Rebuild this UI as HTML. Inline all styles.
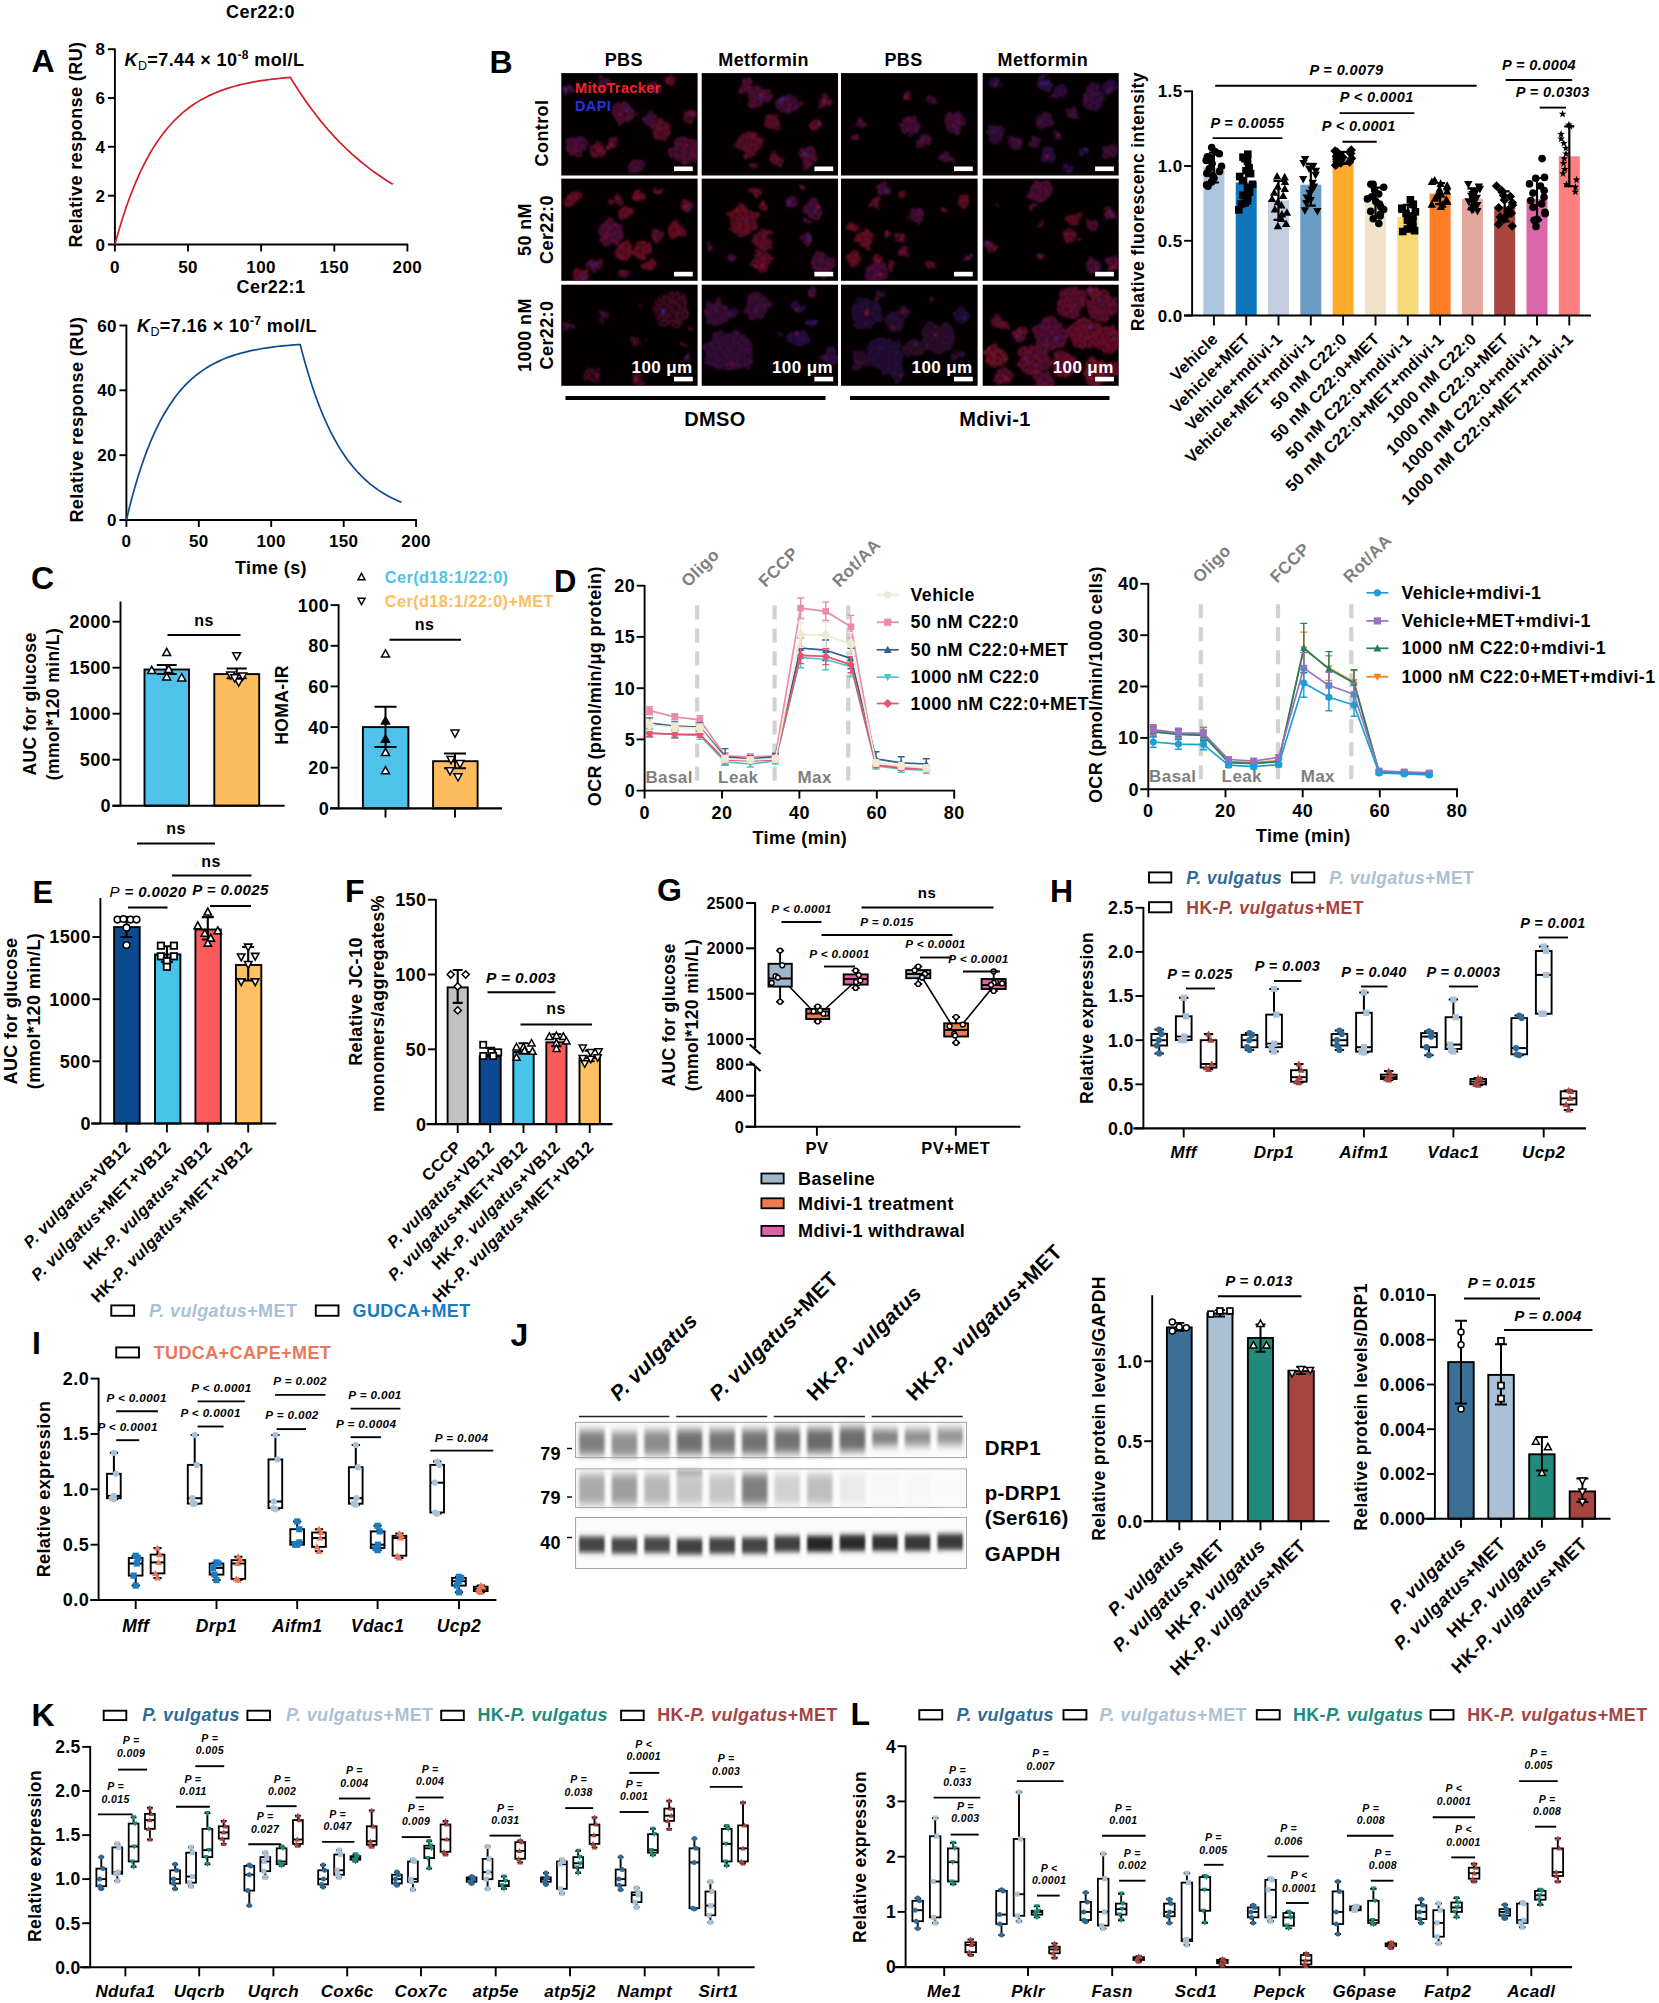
<!DOCTYPE html>
<html lang="en"><head><meta charset="utf-8"><title>Figure</title>
<style>html,body{margin:0;padding:0;background:#fff}svg{display:block}path{fill:none}path:not([stroke]){stroke:#000}text{font-family:'Liberation Sans', Arial, sans-serif;letter-spacing:0.4px}</style>
</head><body>
<svg width="1659" height="2003" viewBox="0 0 1659 2003">
<defs>
<filter id="b1" x="-30%" y="-30%" width="160%" height="160%"><feGaussianBlur stdDeviation="1.6"/></filter>
<filter id="b2" x="-30%" y="-30%" width="160%" height="160%"><feGaussianBlur stdDeviation="3"/></filter>
<filter id="cell" x="0" y="0" width="100%" height="100%" filterUnits="objectBoundingBox"><feTurbulence type="fractalNoise" baseFrequency="0.09" numOctaves="2" seed="4" result="n"/><feDisplacementMap in="SourceGraphic" in2="n" scale="13" xChannelSelector="R" yChannelSelector="G" result="d"/><feTurbulence type="fractalNoise" baseFrequency="0.45" numOctaves="2" seed="9" result="t"/><feColorMatrix in="t" type="matrix" values="0 0 0 0 1  0 0 0 0 1  0 0 0 0 1  1.6 0 0 0 -0.25" result="m"/><feComposite in="d" in2="m" operator="in" result="x"/><feGaussianBlur in="x" stdDeviation="1.2"/></filter>
<filter id="bb2" x="-10%" y="-60%" width="120%" height="220%"><feGaussianBlur stdDeviation="1.5 4.5"/></filter>
<filter id="bb" x="-10%" y="-60%" width="120%" height="220%"><feGaussianBlur stdDeviation="1.3 2.6"/></filter>
</defs>
<rect width="1659" height="2003" fill="#fff"/>
<text x="31.5" y="72.3" font-size="32" font-weight="bold" >A</text>
<text x="260.5" y="17.8" font-size="18" text-anchor="middle" font-weight="bold" >Cer22:0</text>
<path d="M114.9 48.4L114.9 245.3M107.9 244.5L114.9 244.5" stroke-width="1.9" />
<text x="105.4" y="250.6" font-size="17" text-anchor="end" font-weight="bold" >0</text>
<path d="M107.9 195.7L114.9 195.7" stroke-width="1.9" />
<text x="105.4" y="201.8" font-size="17" text-anchor="end" font-weight="bold" >2</text>
<path d="M107.9 146.8L114.9 146.8" stroke-width="1.9" />
<text x="105.4" y="152.9" font-size="17" text-anchor="end" font-weight="bold" >4</text>
<path d="M107.9 98L114.9 98" stroke-width="1.9" />
<text x="105.4" y="104.1" font-size="17" text-anchor="end" font-weight="bold" >6</text>
<path d="M107.9 49.2L114.9 49.2" stroke-width="1.9" />
<text x="105.4" y="55.3" font-size="17" text-anchor="end" font-weight="bold" >8</text>
<path d="M114.1 244.5L408.2 244.5M114.9 244.5L114.9 251.5" stroke-width="1.9" />
<text x="114.9" y="272.5" font-size="17" text-anchor="middle" font-weight="bold" >0</text>
<path d="M188 244.5L188 251.5" stroke-width="1.9" />
<text x="188" y="272.5" font-size="17" text-anchor="middle" font-weight="bold" >50</text>
<path d="M261.1 244.5L261.1 251.5" stroke-width="1.9" />
<text x="261.1" y="272.5" font-size="17" text-anchor="middle" font-weight="bold" >100</text>
<path d="M334.3 244.5L334.3 251.5" stroke-width="1.9" />
<text x="334.3" y="272.5" font-size="17" text-anchor="middle" font-weight="bold" >150</text>
<path d="M407.4 244.5L407.4 251.5" stroke-width="1.9" />
<text x="407.4" y="272.5" font-size="17" text-anchor="middle" font-weight="bold" >200</text>
<text x="81.7" y="144.5" font-size="18" text-anchor="middle" font-weight="bold" transform="rotate(-90 81.7 144.5)" >Relative response (RU)</text>
<polyline points="114.9,244.5 117.8,234 120.8,224.1 123.7,214.8 126.6,206.1 129.5,198 132.5,190.3 135.4,183.1 138.3,176.4 141.2,170 144.2,164.1 147.1,158.5 150,153.3 152.9,148.4 155.9,143.8 158.8,139.4 161.7,135.4 164.6,131.6 167.6,128 170.5,124.7 173.4,121.5 176.3,118.6 179.2,115.8 182.2,113.2 185.1,110.7 188,108.5 190.9,106.3 193.9,104.3 196.8,102.4 199.7,100.6 202.7,99 205.6,97.4 208.5,95.9 211.4,94.6 214.4,93.3 217.3,92.1 220.2,90.9 223.1,89.9 226.1,88.9 229,87.9 231.9,87 234.8,86.2 237.8,85.4 240.7,84.7 243.6,84 246.5,83.4 249.5,82.8 252.4,82.2 255.3,81.7 258.2,81.2 261.1,80.7 264.1,80.3 267,79.9 269.9,79.5 272.9,79.1 275.8,78.8 278.7,78.5 281.6,78.2 284.6,77.9 287.5,77.6 290.4,77.4 290.4,77.4 293.3,82.2 296.2,86.8 299.2,91.4 302.1,95.8 305,100 308,104.2 310.9,108.2 313.8,112.1 316.7,116 319.6,119.6 322.6,123.2 325.5,126.7 328.4,130.1 331.4,133.4 334.3,136.6 337.2,139.7 340.1,142.7 343.1,145.6 346,148.5 348.9,151.2 351.8,153.9 354.8,156.5 357.7,159 360.6,161.5 363.5,163.9 366.5,166.2 369.4,168.4 372.3,170.6 375.2,172.8 378.1,174.8 381.1,176.8 384,178.8 386.9,180.7 389.9,182.5 392.8,184.3" fill="none" stroke="#d21f2b" stroke-width="1.7" stroke-linejoin="round" />
<text x="124.5" y="66" font-size="18" font-weight="bold" ><tspan font-style="italic">K</tspan><tspan font-size="12.5" dy="4" font-weight="normal">D</tspan><tspan dy="-4">=7.44 × 10</tspan><tspan font-size="12" dy="-7">-8</tspan><tspan dy="7"> mol/L</tspan></text>
<text x="271" y="292.5" font-size="18" text-anchor="middle" font-weight="bold" >Cer22:1</text>
<path d="M126.4 324.7L126.4 520.8M119.4 520L126.4 520" stroke-width="1.9" />
<text x="116.9" y="526.1" font-size="17" text-anchor="end" font-weight="bold" >0</text>
<path d="M119.4 455.2L126.4 455.2" stroke-width="1.9" />
<text x="116.9" y="461.3" font-size="17" text-anchor="end" font-weight="bold" >20</text>
<path d="M119.4 390.3L126.4 390.3" stroke-width="1.9" />
<text x="116.9" y="396.4" font-size="17" text-anchor="end" font-weight="bold" >40</text>
<path d="M119.4 325.5L126.4 325.5" stroke-width="1.9" />
<text x="116.9" y="331.6" font-size="17" text-anchor="end" font-weight="bold" >60</text>
<path d="M125.6 520L416.9 520M126.4 520L126.4 527" stroke-width="1.9" />
<text x="126.4" y="547" font-size="17" text-anchor="middle" font-weight="bold" >0</text>
<path d="M198.8 520L198.8 527" stroke-width="1.9" />
<text x="198.8" y="547" font-size="17" text-anchor="middle" font-weight="bold" >50</text>
<path d="M271.2 520L271.2 527" stroke-width="1.9" />
<text x="271.2" y="547" font-size="17" text-anchor="middle" font-weight="bold" >100</text>
<path d="M343.7 520L343.7 527" stroke-width="1.9" />
<text x="343.7" y="547" font-size="17" text-anchor="middle" font-weight="bold" >150</text>
<path d="M416.1 520L416.1 527" stroke-width="1.9" />
<text x="416.1" y="547" font-size="17" text-anchor="middle" font-weight="bold" >200</text>
<text x="83" y="419.6" font-size="18" text-anchor="middle" font-weight="bold" transform="rotate(-90 83 419.6)" >Relative response (RU)</text>
<polyline points="126.4,520 129.3,508 132.2,496.9 135.1,486.5 138,476.8 140.9,467.7 143.8,459.3 146.7,451.4 149.6,444 152.5,437.2 155.4,430.8 158.3,424.8 161.2,419.2 164.1,414 167,409.2 169.9,404.7 172.8,400.4 175.6,396.5 178.5,392.8 181.4,389.4 184.3,386.2 187.2,383.2 190.1,380.4 193,377.8 195.9,375.4 198.8,373.2 201.7,371.1 204.6,369.1 207.5,367.2 210.4,365.5 213.3,363.9 216.2,362.4 219.1,361.1 222,359.8 224.9,358.5 227.8,357.4 230.7,356.4 233.6,355.4 236.5,354.5 239.4,353.6 242.3,352.8 245.2,352.1 248.1,351.4 251,350.7 253.9,350.1 256.8,349.6 259.7,349 262.6,348.5 265.5,348.1 268.4,347.7 271.2,347.3 274.1,346.9 277,346.5 279.9,346.2 282.8,345.9 285.7,345.6 288.6,345.4 291.5,345.1 294.4,344.9 297.3,344.7 300.2,344.5 300.2,344.5 303.1,355.6 306,366 308.9,375.8 311.8,384.9 314.7,393.5 317.6,401.5 320.5,409 323.4,416.1 326.3,422.7 329.2,428.8 332.1,434.6 335,440 337.9,445.1 340.8,449.9 343.7,454.3 346.6,458.5 349.5,462.4 352.4,466 355.3,469.5 358.2,472.7 361.1,475.7 364,478.5 366.9,481.1 369.7,483.6 372.6,485.9 375.5,488 378.4,490.1 381.3,492 384.2,493.7 387.1,495.4 390,497 392.9,498.4 395.8,499.8 398.7,501.1 401.6,502.3" fill="none" stroke="#0d4a8f" stroke-width="1.7" stroke-linejoin="round" />
<text x="137" y="331.5" font-size="18" font-weight="bold" ><tspan font-style="italic">K</tspan><tspan font-size="12.5" dy="4" font-weight="normal">D</tspan><tspan dy="-4">=7.16 × 10</tspan><tspan font-size="12" dy="-7">-7</tspan><tspan dy="7"> mol/L</tspan></text>
<text x="271" y="574" font-size="18" text-anchor="middle" font-weight="bold" >Time (s)</text>
<text x="489.5" y="72.5" font-size="32" font-weight="bold" >B</text>
<text x="623.8" y="65.5" font-size="18" text-anchor="middle" font-weight="bold" >PBS</text>
<text x="763.6" y="65.5" font-size="18" text-anchor="middle" font-weight="bold" >Metformin</text>
<text x="903.5" y="65.5" font-size="18" text-anchor="middle" font-weight="bold" >PBS</text>
<text x="1042.8" y="65.5" font-size="18" text-anchor="middle" font-weight="bold" >Metformin</text>
<rect x="561.3" y="73.1" width="136.3" height="102.4" fill="#040002" stroke="none" stroke-width="1.5" />
<clipPath id="c100"><rect x="561.3" y="73.1" width="136.3" height="102.4"/></clipPath>
<g clip-path="url(#c100)"><g filter="url(#cell)">
<rect x="561.3" y="73.1" width="136.3" height="102.4" fill="none"/>
<ellipse cx="623" cy="112.8" rx="11.5" ry="10.8" fill="#7c1650"/>
<circle cx="628.2" cy="109.1" r="1.5" fill="#4040d0"/>
<ellipse cx="648.7" cy="119.6" rx="6.9" ry="6.6" fill="#70185a"/>
<circle cx="646" cy="117" r="1.9" fill="#4040d0"/>
<ellipse cx="660.7" cy="129.9" rx="9.6" ry="9.6" fill="#8e1540"/>
<circle cx="662.1" cy="127.1" r="1.3" fill="#e01830"/>
<ellipse cx="684.7" cy="150.5" rx="15.3" ry="12.9" fill="#7c1650"/>
<circle cx="690.7" cy="148.5" r="1.5" fill="#e01830"/>
<ellipse cx="576.8" cy="145.3" rx="10.7" ry="11.7" fill="#70185a"/>
<circle cx="577.4" cy="149.6" r="2" fill="#e01830"/>
<ellipse cx="599.1" cy="150.5" rx="8.4" ry="7.2" fill="#8e1540"/>
<circle cx="599.9" cy="147.5" r="2" fill="#e01830"/>
<ellipse cx="612.8" cy="143.6" rx="5.8" ry="4.9" fill="#7c1650"/>
<circle cx="610.1" cy="144.6" r="2.2" fill="#d01840"/>
<ellipse cx="636.7" cy="165.9" rx="9.6" ry="8" fill="#70185a"/>
<circle cx="637.3" cy="170.3" r="1.7" fill="#d01840"/>
<ellipse cx="689.8" cy="116.2" rx="5.8" ry="5.8" fill="#9a1536"/>
<circle cx="688.9" cy="117.3" r="1.7" fill="#4040d0"/>
<ellipse cx="602.5" cy="83.7" rx="7.7" ry="7.1" fill="#70185a"/>
<circle cx="599.1" cy="80.6" r="1.4" fill="#4040d0"/>
<ellipse cx="671" cy="80.3" rx="5.8" ry="5" fill="#9a1536"/>
<circle cx="672.8" cy="81.5" r="1.5" fill="#d01840"/>
<ellipse cx="568.3" cy="90.5" rx="4.6" ry="4.9" fill="#70185a"/>
<circle cx="567.1" cy="88.5" r="1.7" fill="#4040d0"/>
<ellipse cx="653.9" cy="87.1" rx="6.9" ry="5.6" fill="#7c1650"/>
<circle cx="652.3" cy="88.5" r="1.9" fill="#d01840"/>
</g></g>
<rect x="674" y="166.5" width="18.8" height="4.6" fill="#fff" stroke="none" stroke-width="1.5" />
<rect x="701.7" y="73.1" width="136.3" height="102.4" fill="#040002" stroke="none" stroke-width="1.5" />
<clipPath id="c101"><rect x="701.7" y="73.1" width="136.3" height="102.4"/></clipPath>
<g clip-path="url(#c101)"><g filter="url(#cell)">
<rect x="701.7" y="73.1" width="136.3" height="102.4" fill="none"/>
<ellipse cx="744.6" cy="87.1" rx="7.7" ry="8.2" fill="#7c1650"/>
<circle cx="744.9" cy="86" r="1.1" fill="#d01840"/>
<ellipse cx="758.3" cy="97.4" rx="10.7" ry="10.5" fill="#7c1650"/>
<circle cx="762.8" cy="97.2" r="1.9" fill="#4040d0"/>
<ellipse cx="787.4" cy="104.2" rx="11.5" ry="9.4" fill="#70185a"/>
<circle cx="783.8" cy="99.5" r="1.9" fill="#4040d0"/>
<ellipse cx="825" cy="102.5" rx="5.8" ry="5.4" fill="#7c1650"/>
<circle cx="824" cy="103.3" r="1.5" fill="#e01830"/>
<ellipse cx="772" cy="121.4" rx="8.4" ry="7.8" fill="#8e1540"/>
<circle cx="770.3" cy="118.1" r="2" fill="#d01840"/>
<ellipse cx="816.5" cy="124.8" rx="5.8" ry="5.7" fill="#9a1536"/>
<circle cx="818.7" cy="124.2" r="1.5" fill="#4040d0"/>
<ellipse cx="749.7" cy="143.6" rx="13.4" ry="12.4" fill="#8e1540"/>
<circle cx="752" cy="137" r="1.6" fill="#d01840"/>
<ellipse cx="775.4" cy="160.7" rx="6.9" ry="6.2" fill="#8e1540"/>
<circle cx="772.1" cy="162.1" r="1" fill="#d01840"/>
<ellipse cx="807.9" cy="157.3" rx="9.6" ry="10.5" fill="#7c1650"/>
<circle cx="807.3" cy="155.2" r="1.9" fill="#4040d0"/>
<ellipse cx="754.9" cy="165.9" rx="4.6" ry="4.9" fill="#9a1536"/>
<circle cx="755.2" cy="164.3" r="2" fill="#d01840"/>
</g></g>
<rect x="814.4" y="166.5" width="18.8" height="4.6" fill="#fff" stroke="none" stroke-width="1.5" />
<rect x="841" y="73.1" width="136.6" height="102.4" fill="#040002" stroke="none" stroke-width="1.5" />
<clipPath id="c102"><rect x="841" y="73.1" width="136.6" height="102.4"/></clipPath>
<g clip-path="url(#c102)"><g filter="url(#cell)">
<rect x="841" y="73.1" width="136.6" height="102.4" fill="none"/>
<ellipse cx="907.2" cy="95.7" rx="4.6" ry="4.6" fill="#7c1650"/>
<circle cx="906.5" cy="95.9" r="1.8" fill="#e01830"/>
<ellipse cx="931.2" cy="99.1" rx="3.1" ry="2.7" fill="#70185a"/>
<ellipse cx="861" cy="124.8" rx="4.6" ry="4.5" fill="#70185a"/>
<circle cx="858.9" cy="124.9" r="1.7" fill="#d01840"/>
<ellipse cx="855.8" cy="136.8" rx="3.1" ry="3.1" fill="#7c1650"/>
<ellipse cx="908.9" cy="124.8" rx="9.6" ry="8.9" fill="#70185a"/>
<circle cx="909" cy="120.8" r="1.1" fill="#e01830"/>
<ellipse cx="955.1" cy="123.1" rx="10.7" ry="11.5" fill="#70185a"/>
<circle cx="958.7" cy="125.4" r="1.6" fill="#4040d0"/>
<ellipse cx="924.3" cy="141.9" rx="7.7" ry="7.6" fill="#70185a"/>
<circle cx="925.6" cy="139.9" r="1.1" fill="#4040d0"/>
<ellipse cx="946.6" cy="157.3" rx="6.9" ry="6.9" fill="#70185a"/>
<circle cx="946.6" cy="159" r="1.5" fill="#4040d0"/>
</g></g>
<rect x="954" y="166.5" width="18.8" height="4.6" fill="#fff" stroke="none" stroke-width="1.5" />
<rect x="982.7" y="73.1" width="136" height="102.4" fill="#040002" stroke="none" stroke-width="1.5" />
<clipPath id="c103"><rect x="982.7" y="73.1" width="136" height="102.4"/></clipPath>
<g clip-path="url(#c103)"><g filter="url(#cell)">
<rect x="982.7" y="73.1" width="136" height="102.4" fill="none"/>
<ellipse cx="996.2" cy="83.7" rx="5.8" ry="6.2" fill="#401870"/>
<circle cx="997.3" cy="85.5" r="1.8" fill="#d01840"/>
<ellipse cx="1044.1" cy="83.7" rx="6.9" ry="6.9" fill="#4a1868"/>
<circle cx="1043.9" cy="82.6" r="1.8" fill="#4040d0"/>
<ellipse cx="1061.3" cy="92.3" rx="8.4" ry="7.1" fill="#4a1868"/>
<circle cx="1062" cy="96.2" r="1.1" fill="#e01830"/>
<ellipse cx="1092.1" cy="97.4" rx="11.5" ry="11.3" fill="#55185c"/>
<circle cx="1089.7" cy="100.2" r="2" fill="#d01840"/>
<ellipse cx="1109.2" cy="87.1" rx="7.7" ry="6.7" fill="#401870"/>
<circle cx="1110.4" cy="89.2" r="1.7" fill="#e01830"/>
<ellipse cx="1044.1" cy="119.6" rx="9.6" ry="8.3" fill="#5e1854"/>
<circle cx="1041.4" cy="121.5" r="1.6" fill="#4040d0"/>
<ellipse cx="1071.5" cy="112.8" rx="5.8" ry="6.2" fill="#5e1854"/>
<circle cx="1073" cy="113" r="2" fill="#4040d0"/>
<ellipse cx="996.2" cy="133.3" rx="9.6" ry="9.7" fill="#55185c"/>
<circle cx="994.3" cy="133.2" r="1.2" fill="#4040d0"/>
<ellipse cx="1016.7" cy="143.6" rx="6.9" ry="7.4" fill="#5e1854"/>
<circle cx="1016.6" cy="142.6" r="2" fill="#d01840"/>
<ellipse cx="1057.8" cy="135" rx="5.8" ry="5.1" fill="#4a1868"/>
<circle cx="1058.8" cy="132.9" r="2.1" fill="#e01830"/>
<ellipse cx="1047.6" cy="153.9" rx="7.7" ry="6.8" fill="#401870"/>
<circle cx="1047.9" cy="154.6" r="1.5" fill="#d01840"/>
<ellipse cx="1085.2" cy="152.2" rx="4.6" ry="4" fill="#401870"/>
<circle cx="1087" cy="150.7" r="1.9" fill="#4040d0"/>
<ellipse cx="1107.5" cy="150.5" rx="6.9" ry="7.3" fill="#5e1854"/>
<circle cx="1107.8" cy="150.9" r="1.7" fill="#e01830"/>
<ellipse cx="1068.1" cy="167.6" rx="5.8" ry="4.9" fill="#401870"/>
<circle cx="1065.7" cy="168.5" r="1" fill="#4040d0"/>
<ellipse cx="1033.9" cy="141.9" rx="4.6" ry="3.8" fill="#5e1854"/>
<circle cx="1032.2" cy="139.8" r="1.3" fill="#d01840"/>
</g></g>
<rect x="1095.1" y="166.5" width="18.8" height="4.6" fill="#fff" stroke="none" stroke-width="1.5" />
<rect x="561.3" y="178.6" width="136.3" height="102.2" fill="#040002" stroke="none" stroke-width="1.5" />
<clipPath id="c104"><rect x="561.3" y="178.6" width="136.3" height="102.2"/></clipPath>
<g clip-path="url(#c104)"><g filter="url(#cell)">
<rect x="561.3" y="178.6" width="136.3" height="102.2" fill="none"/>
<ellipse cx="571.7" cy="198.3" rx="6.9" ry="7.3" fill="#a01538"/>
<circle cx="573.3" cy="196.4" r="1.4" fill="#d01840"/>
<ellipse cx="616.2" cy="200" rx="5.8" ry="6" fill="#8e1648"/>
<circle cx="613.4" cy="198" r="2.1" fill="#e01830"/>
<ellipse cx="638.5" cy="196.5" rx="6.9" ry="6.9" fill="#a01538"/>
<circle cx="637.3" cy="197.5" r="2" fill="#d01840"/>
<ellipse cx="657.3" cy="191.4" rx="4.6" ry="4.2" fill="#aa1530"/>
<circle cx="656.5" cy="192" r="1.8" fill="#4040d0"/>
<ellipse cx="626.5" cy="213.7" rx="8.4" ry="7.9" fill="#a01538"/>
<circle cx="626.8" cy="211.6" r="1.2" fill="#d01840"/>
<ellipse cx="688.1" cy="206.8" rx="6.9" ry="5.7" fill="#a01538"/>
<circle cx="688.8" cy="208.9" r="2" fill="#4040d0"/>
<ellipse cx="611.1" cy="232.5" rx="13.4" ry="12.1" fill="#801858"/>
<circle cx="605.3" cy="234.1" r="1.6" fill="#e01830"/>
<ellipse cx="677.8" cy="229.1" rx="7.7" ry="7.8" fill="#a01538"/>
<circle cx="677.5" cy="231.3" r="1.6" fill="#e01830"/>
<ellipse cx="655.6" cy="235.9" rx="6.9" ry="7.6" fill="#8e1648"/>
<circle cx="653.4" cy="236.1" r="1" fill="#4040d0"/>
<ellipse cx="623" cy="251.3" rx="10.7" ry="9.1" fill="#a01538"/>
<circle cx="619.4" cy="252.7" r="1.1" fill="#e01830"/>
<ellipse cx="641.9" cy="249.6" rx="9.6" ry="7.7" fill="#a01538"/>
<circle cx="644.9" cy="247.1" r="1.1" fill="#d01840"/>
<ellipse cx="593.9" cy="265" rx="6.9" ry="6.8" fill="#801858"/>
<circle cx="594.3" cy="265.2" r="1.9" fill="#4040d0"/>
<ellipse cx="580.3" cy="275.3" rx="8.4" ry="8.9" fill="#a01538"/>
<circle cx="581.9" cy="278.3" r="2.1" fill="#4040d0"/>
<ellipse cx="648.7" cy="265" rx="6.9" ry="6.7" fill="#a01538"/>
<circle cx="645.5" cy="267.9" r="1.2" fill="#4040d0"/>
<ellipse cx="623" cy="273.6" rx="4.6" ry="3.9" fill="#801858"/>
<circle cx="621.6" cy="272.4" r="1.1" fill="#d01840"/>
</g></g>
<rect x="674" y="271.8" width="18.8" height="4.6" fill="#fff" stroke="none" stroke-width="1.5" />
<rect x="701.7" y="178.6" width="136.3" height="102.2" fill="#040002" stroke="none" stroke-width="1.5" />
<clipPath id="c105"><rect x="701.7" y="178.6" width="136.3" height="102.2"/></clipPath>
<g clip-path="url(#c105)"><g filter="url(#cell)">
<rect x="701.7" y="178.6" width="136.3" height="102.2" fill="none"/>
<ellipse cx="756.6" cy="193.1" rx="5.8" ry="5.6" fill="#9a1536"/>
<circle cx="754.3" cy="190.3" r="1.6" fill="#d01840"/>
<ellipse cx="763.4" cy="206.8" rx="5.8" ry="5.1" fill="#9a1536"/>
<circle cx="765.4" cy="204.9" r="2.1" fill="#e01830"/>
<ellipse cx="790.8" cy="201.7" rx="5.8" ry="5.2" fill="#70185a"/>
<circle cx="788.9" cy="201.3" r="1.5" fill="#4040d0"/>
<ellipse cx="813" cy="208.5" rx="9.6" ry="10.2" fill="#70185a"/>
<circle cx="817.1" cy="205.9" r="2.2" fill="#d01840"/>
<ellipse cx="742.9" cy="220.5" rx="14.6" ry="15.9" fill="#9a1536"/>
<circle cx="747.5" cy="220.9" r="1.3" fill="#4040d0"/>
<ellipse cx="763.4" cy="241" rx="11.5" ry="10.4" fill="#8e1540"/>
<circle cx="766" cy="243" r="1.2" fill="#d01840"/>
<ellipse cx="807.9" cy="239.3" rx="5.8" ry="6.3" fill="#70185a"/>
<circle cx="810.1" cy="239.7" r="1.8" fill="#4040d0"/>
<ellipse cx="706.9" cy="246.2" rx="3.8" ry="3.7" fill="#70185a"/>
<ellipse cx="761.7" cy="261.6" rx="10.7" ry="10.4" fill="#8e1540"/>
<circle cx="760.2" cy="263.8" r="1.7" fill="#e01830"/>
<ellipse cx="732.6" cy="258.2" rx="3.8" ry="4" fill="#70185a"/>
<ellipse cx="823.3" cy="265" rx="11.5" ry="12.2" fill="#70185a"/>
<circle cx="828.7" cy="266" r="1" fill="#e01830"/>
<ellipse cx="807.9" cy="222.2" rx="3.1" ry="2.5" fill="#7c1650"/>
<ellipse cx="804.5" cy="186.3" rx="4.6" ry="4.1" fill="#7c1650"/>
<circle cx="805.5" cy="186" r="1.7" fill="#e01830"/>
</g></g>
<rect x="814.4" y="271.8" width="18.8" height="4.6" fill="#fff" stroke="none" stroke-width="1.5" />
<rect x="841" y="178.6" width="136.6" height="102.2" fill="#040002" stroke="none" stroke-width="1.5" />
<clipPath id="c106"><rect x="841" y="178.6" width="136.6" height="102.2"/></clipPath>
<g clip-path="url(#c106)"><g filter="url(#cell)">
<rect x="841" y="178.6" width="136.6" height="102.2" fill="none"/>
<ellipse cx="883.2" cy="189.7" rx="6.9" ry="5.6" fill="#70185a"/>
<circle cx="886.3" cy="191.9" r="1.1" fill="#4040d0"/>
<ellipse cx="874.7" cy="201.7" rx="7.7" ry="6.6" fill="#8e1540"/>
<circle cx="878.3" cy="200.6" r="1.5" fill="#d01840"/>
<ellipse cx="903.8" cy="194.8" rx="3.8" ry="3.9" fill="#9a1536"/>
<ellipse cx="917.5" cy="215.4" rx="8.4" ry="7.5" fill="#70185a"/>
<circle cx="917.3" cy="212.3" r="1.3" fill="#4040d0"/>
<ellipse cx="963.7" cy="201.7" rx="7.7" ry="6.3" fill="#9a1536"/>
<circle cx="962.5" cy="204.1" r="1.2" fill="#4040d0"/>
<ellipse cx="944.9" cy="210.2" rx="3.8" ry="3.1" fill="#8e1540"/>
<ellipse cx="852.4" cy="227.4" rx="4.6" ry="3.8" fill="#9a1536"/>
<circle cx="851" cy="228.5" r="1.5" fill="#d01840"/>
<ellipse cx="866.1" cy="237.6" rx="9.6" ry="9.4" fill="#9a1536"/>
<circle cx="866.1" cy="236.9" r="1.2" fill="#e01830"/>
<ellipse cx="886.7" cy="234.2" rx="5.8" ry="5" fill="#70185a"/>
<circle cx="885.2" cy="233.2" r="2.1" fill="#e01830"/>
<ellipse cx="900.3" cy="237.6" rx="4.6" ry="4.1" fill="#7c1650"/>
<circle cx="902.4" cy="238" r="2.1" fill="#d01840"/>
<ellipse cx="854.1" cy="259.9" rx="7.7" ry="7.4" fill="#9a1536"/>
<circle cx="853.8" cy="259" r="1.8" fill="#e01830"/>
<ellipse cx="878.1" cy="258.2" rx="5.8" ry="5.3" fill="#9a1536"/>
<circle cx="879.1" cy="260.3" r="1.8" fill="#e01830"/>
<ellipse cx="903.8" cy="253" rx="5.8" ry="5.6" fill="#7c1650"/>
<circle cx="905.1" cy="253.2" r="1.1" fill="#e01830"/>
<ellipse cx="876.4" cy="273.6" rx="11.5" ry="10.9" fill="#70185a"/>
<circle cx="879" cy="274.1" r="2" fill="#e01830"/>
<ellipse cx="929.4" cy="265" rx="4.6" ry="4.7" fill="#8e1540"/>
<circle cx="927.7" cy="263.7" r="1.4" fill="#e01830"/>
<ellipse cx="968.8" cy="259.9" rx="4.6" ry="3.8" fill="#8e1540"/>
<circle cx="969.9" cy="259" r="2" fill="#4040d0"/>
<ellipse cx="891.8" cy="265" rx="3.8" ry="4.2" fill="#8e1540"/>
</g></g>
<rect x="954" y="271.8" width="18.8" height="4.6" fill="#fff" stroke="none" stroke-width="1.5" />
<rect x="982.7" y="178.6" width="136" height="102.2" fill="#040002" stroke="none" stroke-width="1.5" />
<clipPath id="c107"><rect x="982.7" y="178.6" width="136" height="102.2"/></clipPath>
<g clip-path="url(#c107)"><g filter="url(#cell)">
<rect x="982.7" y="178.6" width="136" height="102.2" fill="none"/>
<ellipse cx="1040.7" cy="193.1" rx="11.5" ry="11.3" fill="#7c1650"/>
<circle cx="1043.8" cy="195.7" r="1.5" fill="#4040d0"/>
<ellipse cx="1030.4" cy="206.8" rx="3.1" ry="2.8" fill="#7c1650"/>
<ellipse cx="1109.2" cy="211.9" rx="7.7" ry="6.7" fill="#8e1540"/>
<circle cx="1109.9" cy="213.5" r="2.1" fill="#4040d0"/>
<ellipse cx="1073.2" cy="218.8" rx="7.7" ry="6.6" fill="#9a1536"/>
<circle cx="1076.4" cy="216.4" r="1.2" fill="#d01840"/>
<ellipse cx="1090.4" cy="225.6" rx="5.8" ry="5" fill="#7c1650"/>
<circle cx="1088.1" cy="228.3" r="1.1" fill="#e01830"/>
<ellipse cx="1040.7" cy="223.9" rx="3.8" ry="3.6" fill="#7c1650"/>
<ellipse cx="1069.8" cy="235.9" rx="7.7" ry="6.7" fill="#8e1540"/>
<circle cx="1069.2" cy="238.6" r="1.3" fill="#d01840"/>
<ellipse cx="991.1" cy="246.2" rx="6.9" ry="6.3" fill="#9a1536"/>
<circle cx="989.6" cy="244.8" r="1.9" fill="#4040d0"/>
<ellipse cx="1040.7" cy="256.5" rx="4.6" ry="3.9" fill="#9a1536"/>
<circle cx="1039.4" cy="254.6" r="2.2" fill="#4040d0"/>
<ellipse cx="1093.8" cy="266.7" rx="7.7" ry="8" fill="#7c1650"/>
<circle cx="1097.4" cy="268.1" r="1.8" fill="#4040d0"/>
<ellipse cx="1112.6" cy="263.3" rx="5.8" ry="6" fill="#70185a"/>
<circle cx="1112.9" cy="265.6" r="1.5" fill="#e01830"/>
<ellipse cx="997.9" cy="206.8" rx="1.9" ry="2.1" fill="#70185a"/>
</g></g>
<rect x="1095.1" y="271.8" width="18.8" height="4.6" fill="#fff" stroke="none" stroke-width="1.5" />
<rect x="561.3" y="284.7" width="136.3" height="101.1" fill="#040002" stroke="none" stroke-width="1.5" />
<clipPath id="c108"><rect x="561.3" y="284.7" width="136.3" height="101.1"/></clipPath>
<g clip-path="url(#c108)"><g filter="url(#cell)">
<rect x="561.3" y="284.7" width="136.3" height="101.1" fill="none"/>
<ellipse cx="671" cy="309.4" rx="17.3" ry="17.5" fill="#5a1030"/>
<circle cx="663.8" cy="312.2" r="1.9" fill="#4040d0"/>
<ellipse cx="602.5" cy="316.2" rx="5.8" ry="6.3" fill="#5a1030"/>
<circle cx="601.4" cy="314.4" r="1.9" fill="#4040d0"/>
<ellipse cx="640.2" cy="306" rx="2.3" ry="1.9" fill="#5a1030"/>
<ellipse cx="568.3" cy="326.5" rx="4.6" ry="5" fill="#5a1030"/>
<circle cx="570.2" cy="324.7" r="1.4" fill="#4040d0"/>
<ellipse cx="636.7" cy="341.9" rx="6.9" ry="6.8" fill="#5a1030"/>
<circle cx="638.1" cy="342.9" r="1.1" fill="#d01840"/>
<ellipse cx="693.2" cy="328.2" rx="3.1" ry="3.2" fill="#641030"/>
<ellipse cx="683" cy="345.3" rx="3.1" ry="2.5" fill="#50123a"/>
<ellipse cx="686.4" cy="357.3" rx="4.6" ry="4.1" fill="#641030"/>
<circle cx="687.1" cy="356.1" r="1.6" fill="#4040d0"/>
<ellipse cx="592.2" cy="374.4" rx="8.4" ry="9.2" fill="#5a1030"/>
<circle cx="596.2" cy="374.3" r="2.1" fill="#d01840"/>
<ellipse cx="636.7" cy="381.3" rx="6.9" ry="7.6" fill="#5a1030"/>
<circle cx="634.6" cy="380.2" r="1.8" fill="#d01840"/>
</g></g>
<rect x="674" y="376.8" width="18.8" height="4.6" fill="#fff" stroke="none" stroke-width="1.5" />
<text x="692.6" y="372.8" font-size="17" text-anchor="end" font-weight="bold" fill="#fff" >100 μm</text>
<rect x="701.7" y="284.7" width="136.3" height="101.1" fill="#040002" stroke="none" stroke-width="1.5" />
<clipPath id="c109"><rect x="701.7" y="284.7" width="136.3" height="101.1"/></clipPath>
<g clip-path="url(#c109)"><g filter="url(#cell)">
<rect x="701.7" y="284.7" width="136.3" height="101.1" fill="none"/>
<ellipse cx="717.2" cy="312.8" rx="15.3" ry="13.3" fill="#5e1854"/>
<circle cx="716.4" cy="306" r="1.3" fill="#4040d0"/>
<ellipse cx="756.6" cy="306" rx="13.4" ry="13" fill="#5e1854"/>
<circle cx="756.8" cy="309.9" r="1.5" fill="#4040d0"/>
<ellipse cx="797.6" cy="307.7" rx="5.8" ry="6" fill="#401870"/>
<circle cx="795.7" cy="309.9" r="2.1" fill="#d01840"/>
<ellipse cx="813" cy="292.3" rx="5.8" ry="4.7" fill="#5e1854"/>
<circle cx="811.2" cy="293.8" r="1.9" fill="#d01840"/>
<ellipse cx="729.2" cy="352.2" rx="24.9" ry="21" fill="#55185c"/>
<circle cx="734.8" cy="364.4" r="2" fill="#d01840"/>
<ellipse cx="797.6" cy="338.5" rx="10.7" ry="9.1" fill="#401870"/>
<circle cx="796.2" cy="335.1" r="1.8" fill="#e01830"/>
<ellipse cx="780.5" cy="335.1" rx="3.1" ry="3.3" fill="#401870"/>
<ellipse cx="811.3" cy="323.1" rx="4.6" ry="3.8" fill="#401870"/>
<circle cx="812.9" cy="322" r="1.3" fill="#4040d0"/>
<ellipse cx="830.2" cy="357.3" rx="8.4" ry="8.4" fill="#4a1868"/>
<circle cx="826.4" cy="357" r="1.7" fill="#d01840"/>
<ellipse cx="732.6" cy="312.8" rx="3.8" ry="4.1" fill="#401870"/>
</g></g>
<rect x="814.4" y="376.8" width="18.8" height="4.6" fill="#fff" stroke="none" stroke-width="1.5" />
<text x="833" y="372.8" font-size="17" text-anchor="end" font-weight="bold" fill="#fff" >100 μm</text>
<rect x="841" y="284.7" width="136.6" height="101.1" fill="#040002" stroke="none" stroke-width="1.5" />
<clipPath id="c110"><rect x="841" y="284.7" width="136.6" height="101.1"/></clipPath>
<g clip-path="url(#c110)"><g filter="url(#cell)">
<rect x="841" y="284.7" width="136.6" height="101.1" fill="none"/>
<ellipse cx="866.1" cy="312.8" rx="15.3" ry="15.9" fill="#341858"/>
<circle cx="867.6" cy="311.5" r="1.9" fill="#d01840"/>
<ellipse cx="893.5" cy="323.1" rx="9.6" ry="9.2" fill="#3c1650"/>
<circle cx="893.5" cy="325.4" r="1.1" fill="#d01840"/>
<ellipse cx="903.8" cy="311.1" rx="6.9" ry="5.8" fill="#3c1650"/>
<circle cx="904.7" cy="311.3" r="1.5" fill="#d01840"/>
<ellipse cx="938" cy="336.8" rx="17.3" ry="15.2" fill="#441648"/>
<circle cx="935.6" cy="336.9" r="2.2" fill="#d01840"/>
<ellipse cx="962" cy="316.2" rx="7.7" ry="6.8" fill="#341858"/>
<circle cx="965.1" cy="317.6" r="1.2" fill="#4040d0"/>
<ellipse cx="886.7" cy="355.6" rx="19.2" ry="18.1" fill="#341858"/>
<circle cx="880.5" cy="350.3" r="1.1" fill="#4040d0"/>
<ellipse cx="915.8" cy="348.8" rx="9.6" ry="8.4" fill="#4a1440"/>
<circle cx="913.9" cy="345.9" r="1.9" fill="#4040d0"/>
<ellipse cx="931.2" cy="299.1" rx="4.6" ry="3.7" fill="#441648"/>
<circle cx="930.1" cy="297.5" r="1.6" fill="#e01830"/>
<ellipse cx="859.3" cy="360.7" rx="9.6" ry="9.1" fill="#441648"/>
<circle cx="858.8" cy="362" r="1.6" fill="#d01840"/>
<ellipse cx="958.5" cy="355.6" rx="5.8" ry="4.7" fill="#4a1440"/>
<circle cx="961.1" cy="355.2" r="2" fill="#4040d0"/>
<ellipse cx="896.9" cy="376.1" rx="7.7" ry="6.3" fill="#341858"/>
<circle cx="900.7" cy="376.1" r="1.2" fill="#e01830"/>
<ellipse cx="879.8" cy="295.7" rx="5.8" ry="4.7" fill="#3c1650"/>
<circle cx="877" cy="297.4" r="1.8" fill="#d01840"/>
</g></g>
<rect x="954" y="376.8" width="18.8" height="4.6" fill="#fff" stroke="none" stroke-width="1.5" />
<text x="972.6" y="372.8" font-size="17" text-anchor="end" font-weight="bold" fill="#fff" >100 μm</text>
<rect x="982.7" y="284.7" width="136" height="101.1" fill="#040002" stroke="none" stroke-width="1.5" />
<clipPath id="c111"><rect x="982.7" y="284.7" width="136" height="101.1"/></clipPath>
<g clip-path="url(#c111)"><g filter="url(#cell)">
<rect x="982.7" y="284.7" width="136" height="101.1" fill="none"/>
<ellipse cx="1071.5" cy="302.5" rx="15.3" ry="16.5" fill="#90164a"/>
<circle cx="1068.7" cy="297.9" r="1.5" fill="#e01830"/>
<ellipse cx="1102.3" cy="306" rx="15.3" ry="15.5" fill="#90164a"/>
<circle cx="1103.2" cy="301.1" r="1.6" fill="#4040d0"/>
<ellipse cx="1051" cy="333.4" rx="17.3" ry="15.8" fill="#821855"/>
<circle cx="1056.3" cy="337.2" r="1.9" fill="#4040d0"/>
<ellipse cx="1085.2" cy="333.4" rx="17.3" ry="15.4" fill="#a01840"/>
<circle cx="1089.7" cy="328.8" r="1.7" fill="#4040d0"/>
<ellipse cx="1109.2" cy="340.2" rx="13.4" ry="14.2" fill="#a01840"/>
<circle cx="1112.7" cy="334.9" r="1.1" fill="#4040d0"/>
<ellipse cx="999.6" cy="323.1" rx="7.7" ry="6.9" fill="#90164a"/>
<circle cx="1002.5" cy="323.1" r="2" fill="#d01840"/>
<ellipse cx="1020.2" cy="333.4" rx="7.7" ry="7.1" fill="#a01840"/>
<circle cx="1020.2" cy="334.6" r="2.1" fill="#4040d0"/>
<ellipse cx="996.2" cy="355.6" rx="11.5" ry="10.9" fill="#aa1a3a"/>
<circle cx="996.1" cy="359.7" r="1.1" fill="#d01840"/>
<ellipse cx="1033.9" cy="360.7" rx="15.3" ry="16.7" fill="#90164a"/>
<circle cx="1026.4" cy="360.6" r="1.8" fill="#4040d0"/>
<ellipse cx="1064.7" cy="364.2" rx="15.3" ry="14" fill="#a01840"/>
<circle cx="1060.1" cy="367.1" r="2.1" fill="#e01830"/>
<ellipse cx="1095.5" cy="371" rx="13.4" ry="13.1" fill="#aa1a3a"/>
<circle cx="1096.4" cy="364.3" r="2" fill="#d01840"/>
<ellipse cx="1003.1" cy="376.1" rx="9.6" ry="8" fill="#90164a"/>
<circle cx="1007.3" cy="378.6" r="1.2" fill="#d01840"/>
<ellipse cx="1044.1" cy="381.3" rx="9.6" ry="8.7" fill="#821855"/>
<circle cx="1043.7" cy="384.8" r="1.9" fill="#d01840"/>
<ellipse cx="1112.6" cy="367.6" rx="7.7" ry="8.1" fill="#a01840"/>
<circle cx="1109.7" cy="366.9" r="1.3" fill="#e01830"/>
<ellipse cx="1092.1" cy="292.3" rx="7.7" ry="6.4" fill="#aa1a3a"/>
<circle cx="1092.2" cy="291.5" r="1.8" fill="#4040d0"/>
</g></g>
<rect x="1095.1" y="376.8" width="18.8" height="4.6" fill="#fff" stroke="none" stroke-width="1.5" />
<text x="1113.7" y="372.8" font-size="17" text-anchor="end" font-weight="bold" fill="#fff" >100 μm</text>
<text x="575" y="93" font-size="14.5" font-weight="bold" fill="#f2222c" >MitoTracker</text>
<text x="575" y="111.3" font-size="14.5" font-weight="bold" fill="#2432e6" >DAPI</text>
<text x="547.6" y="133" font-size="18" text-anchor="middle" font-weight="bold" transform="rotate(-90 547.6 133)" >Control</text>
<text x="531" y="229.5" font-size="18" text-anchor="middle" font-weight="bold" transform="rotate(-90 531 229.5)" >50 nM</text>
<text x="553" y="229.5" font-size="18" text-anchor="middle" font-weight="bold" transform="rotate(-90 553 229.5)" >Cer22:0</text>
<text x="531" y="335" font-size="18" text-anchor="middle" font-weight="bold" transform="rotate(-90 531 335)" >1000 nM</text>
<text x="553" y="335" font-size="18" text-anchor="middle" font-weight="bold" transform="rotate(-90 553 335)" >Cer22:0</text>
<path d="M565.5 398L825.5 398M850 398L1109.5 398" stroke-width="4" />
<text x="715" y="425.5" font-size="20" text-anchor="middle" font-weight="bold" >DMSO</text>
<text x="995" y="425.5" font-size="20" text-anchor="middle" font-weight="bold" >Mdivi-1</text>
<rect x="1203.4" y="167.5" width="21" height="148" fill="#adc4e0" stroke="none" stroke-width="1.5" />
<rect x="1235.7" y="182.5" width="21" height="133" fill="#0d76bd" stroke="none" stroke-width="1.5" />
<rect x="1268" y="200.4" width="21" height="115.1" fill="#c3cfe0" stroke="none" stroke-width="1.5" />
<rect x="1300.3" y="184.7" width="21" height="130.8" fill="#6b9cc4" stroke="none" stroke-width="1.5" />
<rect x="1332.6" y="157.8" width="21" height="157.7" fill="#fcab2c" stroke="none" stroke-width="1.5" />
<rect x="1365" y="202.7" width="21" height="112.8" fill="#efe4c8" stroke="none" stroke-width="1.5" />
<rect x="1397.3" y="216.9" width="21" height="98.6" fill="#f8d977" stroke="none" stroke-width="1.5" />
<rect x="1429.6" y="193.7" width="21" height="121.8" fill="#fd7e27" stroke="none" stroke-width="1.5" />
<rect x="1461.9" y="198.9" width="21" height="116.6" fill="#e4a79f" stroke="none" stroke-width="1.5" />
<rect x="1494.2" y="206.4" width="21" height="109.1" fill="#a6463f" stroke="none" stroke-width="1.5" />
<rect x="1526.5" y="198.9" width="21" height="116.6" fill="#da67aa" stroke="none" stroke-width="1.5" />
<rect x="1558.8" y="156.3" width="21" height="159.2" fill="#fd7f7f" stroke="none" stroke-width="1.5" />
<path d="M1213.9 182.5L1213.9 152.6M1208.9 182.5L1218.9 182.5M1208.9 152.6L1218.9 152.6" stroke-width="2.2" />
<circle cx="1208" cy="186.3" r="3.8" fill="#000" stroke="none" stroke-width="1" />
<circle cx="1206.6" cy="184.9" r="3.8" fill="#000" stroke="none" stroke-width="1" />
<circle cx="1211.6" cy="181.9" r="3.8" fill="#000" stroke="none" stroke-width="1" />
<circle cx="1214" cy="178.2" r="3.8" fill="#000" stroke="none" stroke-width="1" />
<circle cx="1212.8" cy="175.8" r="3.8" fill="#000" stroke="none" stroke-width="1" />
<circle cx="1206.9" cy="173.4" r="3.8" fill="#000" stroke="none" stroke-width="1" />
<circle cx="1219.5" cy="171.4" r="3.8" fill="#000" stroke="none" stroke-width="1" />
<circle cx="1209.2" cy="168.7" r="3.8" fill="#000" stroke="none" stroke-width="1" />
<circle cx="1221.5" cy="166.2" r="3.8" fill="#000" stroke="none" stroke-width="1" />
<circle cx="1212.1" cy="163.6" r="3.8" fill="#000" stroke="none" stroke-width="1" />
<circle cx="1206.2" cy="160.4" r="3.8" fill="#000" stroke="none" stroke-width="1" />
<circle cx="1210.3" cy="157.8" r="3.8" fill="#000" stroke="none" stroke-width="1" />
<circle cx="1207.4" cy="156.7" r="3.8" fill="#000" stroke="none" stroke-width="1" />
<circle cx="1219.3" cy="153.8" r="3.8" fill="#000" stroke="none" stroke-width="1" />
<circle cx="1215.3" cy="151.8" r="3.8" fill="#000" stroke="none" stroke-width="1" />
<circle cx="1211.7" cy="147.6" r="3.8" fill="#000" stroke="none" stroke-width="1" />
<path d="M1246.2 203.4L1246.2 161.5M1241.2 203.4L1251.2 203.4M1241.2 161.5L1251.2 161.5" stroke-width="2.2" />
<rect x="1235" y="206.1" width="7.6" height="7.6" fill="#000" stroke="none" stroke-width="1" />
<rect x="1237.4" y="200.2" width="7.6" height="7.6" fill="#000" stroke="none" stroke-width="1" />
<rect x="1241.2" y="199.3" width="7.6" height="7.6" fill="#000" stroke="none" stroke-width="1" />
<rect x="1243.9" y="194.4" width="7.6" height="7.6" fill="#000" stroke="none" stroke-width="1" />
<rect x="1239" y="191.3" width="7.6" height="7.6" fill="#000" stroke="none" stroke-width="1" />
<rect x="1245.8" y="188.3" width="7.6" height="7.6" fill="#000" stroke="none" stroke-width="1" />
<rect x="1243.7" y="183.8" width="7.6" height="7.6" fill="#000" stroke="none" stroke-width="1" />
<rect x="1248.8" y="180.5" width="7.6" height="7.6" fill="#000" stroke="none" stroke-width="1" />
<rect x="1238.8" y="176.8" width="7.6" height="7.6" fill="#000" stroke="none" stroke-width="1" />
<rect x="1235.9" y="172.7" width="7.6" height="7.6" fill="#000" stroke="none" stroke-width="1" />
<rect x="1246.8" y="169.8" width="7.6" height="7.6" fill="#000" stroke="none" stroke-width="1" />
<rect x="1242.2" y="166.9" width="7.6" height="7.6" fill="#000" stroke="none" stroke-width="1" />
<rect x="1245.3" y="163.9" width="7.6" height="7.6" fill="#000" stroke="none" stroke-width="1" />
<rect x="1243.7" y="157.7" width="7.6" height="7.6" fill="#000" stroke="none" stroke-width="1" />
<rect x="1239.2" y="153.3" width="7.6" height="7.6" fill="#000" stroke="none" stroke-width="1" />
<rect x="1244" y="150.4" width="7.6" height="7.6" fill="#000" stroke="none" stroke-width="1" />
<path d="M1278.5 219.8L1278.5 181M1273.5 219.8L1283.5 219.8M1273.5 181L1283.5 181" stroke-width="2.2" />
<polygon points="1277.8,221.7 1282,229.3 1273.6,229.3" fill="#000" stroke="none" stroke-width="1" />
<polygon points="1286.1,219.4 1290.3,227 1281.9,227" fill="#000" stroke="none" stroke-width="1" />
<polygon points="1281.3,214.5 1285.5,222.1 1277.1,222.1" fill="#000" stroke="none" stroke-width="1" />
<polygon points="1281.9,209.9 1286.1,217.5 1277.8,217.5" fill="#000" stroke="none" stroke-width="1" />
<polygon points="1286.9,208.2 1291.1,215.8 1282.7,215.8" fill="#000" stroke="none" stroke-width="1" />
<polygon points="1274.9,205 1279,212.6 1270.7,212.6" fill="#000" stroke="none" stroke-width="1" />
<polygon points="1281.4,201 1285.6,208.6 1277.2,208.6" fill="#000" stroke="none" stroke-width="1" />
<polygon points="1277.9,197.6 1282,205.2 1273.7,205.2" fill="#000" stroke="none" stroke-width="1" />
<polygon points="1272,194.5 1276.2,202.1 1267.8,202.1" fill="#000" stroke="none" stroke-width="1" />
<polygon points="1283.1,191.4 1287.3,199 1278.9,199" fill="#000" stroke="none" stroke-width="1" />
<polygon points="1274.2,188.2 1278.4,195.8 1270,195.8" fill="#000" stroke="none" stroke-width="1" />
<polygon points="1284.8,184.5 1289,192.1 1280.7,192.1" fill="#000" stroke="none" stroke-width="1" />
<polygon points="1277.7,182.2 1281.8,189.8 1273.5,189.8" fill="#000" stroke="none" stroke-width="1" />
<polygon points="1285,177.3 1289.2,184.9 1280.9,184.9" fill="#000" stroke="none" stroke-width="1" />
<polygon points="1284.7,172.8 1288.9,180.4 1280.5,180.4" fill="#000" stroke="none" stroke-width="1" />
<polygon points="1277.1,171.9 1281.3,179.5 1272.9,179.5" fill="#000" stroke="none" stroke-width="1" />
<path d="M1310.8 205.6L1310.8 163.8M1305.8 205.6L1315.8 205.6M1305.8 163.8L1315.8 163.8" stroke-width="2.2" />
<polygon points="1317.4,215.5 1321.5,207.9 1313.2,207.9" fill="#000" stroke="none" stroke-width="1" />
<polygon points="1304.9,214.8 1309.1,207.2 1300.7,207.2" fill="#000" stroke="none" stroke-width="1" />
<polygon points="1306.3,207.7 1310.5,200.1 1302.1,200.1" fill="#000" stroke="none" stroke-width="1" />
<polygon points="1310.6,204.5 1314.8,196.9 1306.4,196.9" fill="#000" stroke="none" stroke-width="1" />
<polygon points="1306.8,202 1311,194.4 1302.6,194.4" fill="#000" stroke="none" stroke-width="1" />
<polygon points="1309.5,197.3 1313.6,189.7 1305.3,189.7" fill="#000" stroke="none" stroke-width="1" />
<polygon points="1312,194.4 1316.1,186.8 1307.8,186.8" fill="#000" stroke="none" stroke-width="1" />
<polygon points="1314.1,191.1 1318.2,183.5 1309.9,183.5" fill="#000" stroke="none" stroke-width="1" />
<polygon points="1312.8,187.3 1317,179.7 1308.6,179.7" fill="#000" stroke="none" stroke-width="1" />
<polygon points="1303.2,183.5 1307.4,175.9 1299.1,175.9" fill="#000" stroke="none" stroke-width="1" />
<polygon points="1315.6,179.3 1319.8,171.7 1311.4,171.7" fill="#000" stroke="none" stroke-width="1" />
<polygon points="1315.9,175.4 1320.1,167.8 1311.7,167.8" fill="#000" stroke="none" stroke-width="1" />
<polygon points="1309.1,173.1 1313.3,165.5 1304.9,165.5" fill="#000" stroke="none" stroke-width="1" />
<polygon points="1313.1,170.7 1317.3,163.1 1308.9,163.1" fill="#000" stroke="none" stroke-width="1" />
<polygon points="1303.5,167.6 1307.7,160 1299.3,160" fill="#000" stroke="none" stroke-width="1" />
<polygon points="1305.1,163.5 1309.3,155.9 1300.9,155.9" fill="#000" stroke="none" stroke-width="1" />
<path d="M1343.1 163.8L1343.1 151.8M1338.1 163.8L1348.1 163.8M1338.1 151.8L1348.1 151.8" stroke-width="2.2" />
<polygon points="1335.5,160.6 1340.3,165.3 1335.5,170.1 1330.8,165.3" fill="#000" stroke="none" stroke-width="1" />
<polygon points="1337.2,159.1 1342,163.9 1337.2,168.6 1332.5,163.9" fill="#000" stroke="none" stroke-width="1" />
<polygon points="1340.8,158.3 1345.6,163.1 1340.8,167.8 1336.1,163.1" fill="#000" stroke="none" stroke-width="1" />
<polygon points="1349.5,157.3 1354.3,162 1349.5,166.8 1344.8,162" fill="#000" stroke="none" stroke-width="1" />
<polygon points="1337.2,156.8 1341.9,161.5 1337.2,166.3 1332.4,161.5" fill="#000" stroke="none" stroke-width="1" />
<polygon points="1340.5,155.5 1345.3,160.3 1340.5,165 1335.8,160.3" fill="#000" stroke="none" stroke-width="1" />
<polygon points="1336.7,154.6 1341.5,159.3 1336.7,164.1 1332,159.3" fill="#000" stroke="none" stroke-width="1" />
<polygon points="1351.5,153.6 1356.3,158.4 1351.5,163.1 1346.8,158.4" fill="#000" stroke="none" stroke-width="1" />
<polygon points="1342.9,152.5 1347.6,157.3 1342.9,162 1338.1,157.3" fill="#000" stroke="none" stroke-width="1" />
<polygon points="1336.4,151.6 1341.1,156.4 1336.4,161.1 1331.6,156.4" fill="#000" stroke="none" stroke-width="1" />
<polygon points="1339.1,150.6 1343.9,155.3 1339.1,160.1 1334.4,155.3" fill="#000" stroke="none" stroke-width="1" />
<polygon points="1337.4,149.2 1342.1,153.9 1337.4,158.7 1332.6,153.9" fill="#000" stroke="none" stroke-width="1" />
<polygon points="1350.8,148.8 1355.6,153.6 1350.8,158.3 1346.1,153.6" fill="#000" stroke="none" stroke-width="1" />
<polygon points="1337.1,147.3 1341.9,152.1 1337.1,156.8 1332.4,152.1" fill="#000" stroke="none" stroke-width="1" />
<polygon points="1335.1,146.3 1339.8,151 1335.1,155.8 1330.3,151" fill="#000" stroke="none" stroke-width="1" />
<polygon points="1351.3,145.2 1356,150 1351.3,154.7 1346.5,150" fill="#000" stroke="none" stroke-width="1" />
<path d="M1375.5 217.6L1375.5 187.7M1370.5 217.6L1380.5 217.6M1370.5 187.7L1380.5 187.7" stroke-width="2.2" />
<circle cx="1378.8" cy="223.5" r="3.8" fill="#000" stroke="none" stroke-width="1" />
<circle cx="1373.2" cy="218.7" r="3.8" fill="#000" stroke="none" stroke-width="1" />
<circle cx="1380.1" cy="216" r="3.8" fill="#000" stroke="none" stroke-width="1" />
<circle cx="1380.2" cy="214.4" r="3.8" fill="#000" stroke="none" stroke-width="1" />
<circle cx="1370.7" cy="211.4" r="3.8" fill="#000" stroke="none" stroke-width="1" />
<circle cx="1383.7" cy="209.5" r="3.8" fill="#000" stroke="none" stroke-width="1" />
<circle cx="1380.7" cy="206.8" r="3.8" fill="#000" stroke="none" stroke-width="1" />
<circle cx="1379.5" cy="204" r="3.8" fill="#000" stroke="none" stroke-width="1" />
<circle cx="1375.7" cy="201.4" r="3.8" fill="#000" stroke="none" stroke-width="1" />
<circle cx="1367.4" cy="198.9" r="3.8" fill="#000" stroke="none" stroke-width="1" />
<circle cx="1371.7" cy="196.8" r="3.8" fill="#000" stroke="none" stroke-width="1" />
<circle cx="1378.7" cy="194" r="3.8" fill="#000" stroke="none" stroke-width="1" />
<circle cx="1374.6" cy="189.9" r="3.8" fill="#000" stroke="none" stroke-width="1" />
<circle cx="1383.7" cy="187.2" r="3.8" fill="#000" stroke="none" stroke-width="1" />
<circle cx="1373.1" cy="184.3" r="3.8" fill="#000" stroke="none" stroke-width="1" />
<circle cx="1370.8" cy="184.3" r="3.8" fill="#000" stroke="none" stroke-width="1" />
<path d="M1407.8 228.8L1407.8 204.9M1402.8 228.8L1412.8 228.8M1402.8 204.9L1412.8 204.9" stroke-width="2.2" />
<rect x="1398.9" y="227.7" width="7.6" height="7.6" fill="#000" stroke="none" stroke-width="1" />
<rect x="1410.8" y="226.9" width="7.6" height="7.6" fill="#000" stroke="none" stroke-width="1" />
<rect x="1403.6" y="225.2" width="7.6" height="7.6" fill="#000" stroke="none" stroke-width="1" />
<rect x="1409.1" y="222.7" width="7.6" height="7.6" fill="#000" stroke="none" stroke-width="1" />
<rect x="1406.7" y="219.7" width="7.6" height="7.6" fill="#000" stroke="none" stroke-width="1" />
<rect x="1408.8" y="218.7" width="7.6" height="7.6" fill="#000" stroke="none" stroke-width="1" />
<rect x="1403.6" y="216.3" width="7.6" height="7.6" fill="#000" stroke="none" stroke-width="1" />
<rect x="1408.9" y="214" width="7.6" height="7.6" fill="#000" stroke="none" stroke-width="1" />
<rect x="1409.1" y="212.1" width="7.6" height="7.6" fill="#000" stroke="none" stroke-width="1" />
<rect x="1402.2" y="209.6" width="7.6" height="7.6" fill="#000" stroke="none" stroke-width="1" />
<rect x="1411.6" y="208" width="7.6" height="7.6" fill="#000" stroke="none" stroke-width="1" />
<rect x="1398.4" y="205.5" width="7.6" height="7.6" fill="#000" stroke="none" stroke-width="1" />
<rect x="1398" y="204.4" width="7.6" height="7.6" fill="#000" stroke="none" stroke-width="1" />
<rect x="1409.2" y="200.7" width="7.6" height="7.6" fill="#000" stroke="none" stroke-width="1" />
<rect x="1409.5" y="200.5" width="7.6" height="7.6" fill="#000" stroke="none" stroke-width="1" />
<rect x="1406.6" y="196" width="7.6" height="7.6" fill="#000" stroke="none" stroke-width="1" />
<path d="M1440.1 204.1L1440.1 183.2M1435.1 204.1L1445.1 204.1M1435.1 183.2L1445.1 183.2" stroke-width="2.2" />
<polygon points="1440.9,202.5 1445.1,210.1 1436.7,210.1" fill="#000" stroke="none" stroke-width="1" />
<polygon points="1431.8,200.2 1436,207.8 1427.6,207.8" fill="#000" stroke="none" stroke-width="1" />
<polygon points="1442.6,200.2 1446.8,207.8 1438.4,207.8" fill="#000" stroke="none" stroke-width="1" />
<polygon points="1447.4,197.5 1451.6,205.1 1443.3,205.1" fill="#000" stroke="none" stroke-width="1" />
<polygon points="1446.4,195.6 1450.6,203.2 1442.2,203.2" fill="#000" stroke="none" stroke-width="1" />
<polygon points="1435.2,194.1 1439.3,201.7 1431,201.7" fill="#000" stroke="none" stroke-width="1" />
<polygon points="1436.6,191.9 1440.7,199.5 1432.4,199.5" fill="#000" stroke="none" stroke-width="1" />
<polygon points="1441.5,190.2 1445.7,197.8 1437.4,197.8" fill="#000" stroke="none" stroke-width="1" />
<polygon points="1438.7,188.5 1442.9,196.1 1434.5,196.1" fill="#000" stroke="none" stroke-width="1" />
<polygon points="1447,186.8 1451.2,194.4 1442.9,194.4" fill="#000" stroke="none" stroke-width="1" />
<polygon points="1439.4,184.9 1443.5,192.5 1435.2,192.5" fill="#000" stroke="none" stroke-width="1" />
<polygon points="1446.9,182.9 1451.1,190.5 1442.8,190.5" fill="#000" stroke="none" stroke-width="1" />
<polygon points="1447.2,181.3 1451.4,188.9 1443,188.9" fill="#000" stroke="none" stroke-width="1" />
<polygon points="1440.6,179.3 1444.8,186.9 1436.4,186.9" fill="#000" stroke="none" stroke-width="1" />
<polygon points="1431.9,177.5 1436.1,185.1 1427.7,185.1" fill="#000" stroke="none" stroke-width="1" />
<polygon points="1434.7,175.9 1438.9,183.5 1430.5,183.5" fill="#000" stroke="none" stroke-width="1" />
<path d="M1472.4 209.4L1472.4 188.5M1467.4 209.4L1477.4 209.4M1467.4 188.5L1477.4 188.5" stroke-width="2.2" />
<polygon points="1477.5,215.5 1481.6,207.9 1473.3,207.9" fill="#000" stroke="none" stroke-width="1" />
<polygon points="1471.9,214.3 1476.1,206.7 1467.7,206.7" fill="#000" stroke="none" stroke-width="1" />
<polygon points="1473.3,213.7 1477.5,206.1 1469.2,206.1" fill="#000" stroke="none" stroke-width="1" />
<polygon points="1472.7,211.2 1476.9,203.6 1468.5,203.6" fill="#000" stroke="none" stroke-width="1" />
<polygon points="1477.2,209.7 1481.4,202.1 1473,202.1" fill="#000" stroke="none" stroke-width="1" />
<polygon points="1473.4,207.5 1477.6,199.9 1469.2,199.9" fill="#000" stroke="none" stroke-width="1" />
<polygon points="1468.6,205.9 1472.8,198.3 1464.4,198.3" fill="#000" stroke="none" stroke-width="1" />
<polygon points="1472.5,204.2 1476.7,196.6 1468.3,196.6" fill="#000" stroke="none" stroke-width="1" />
<polygon points="1476.8,202.4 1481,194.8 1472.6,194.8" fill="#000" stroke="none" stroke-width="1" />
<polygon points="1471.4,200.3 1475.6,192.7 1467.2,192.7" fill="#000" stroke="none" stroke-width="1" />
<polygon points="1472.5,198.7 1476.7,191.1 1468.3,191.1" fill="#000" stroke="none" stroke-width="1" />
<polygon points="1475.7,196.9 1479.8,189.3 1471.5,189.3" fill="#000" stroke="none" stroke-width="1" />
<polygon points="1472.9,195.2 1477.1,187.6 1468.8,187.6" fill="#000" stroke="none" stroke-width="1" />
<polygon points="1479.9,193.4 1484.1,185.8 1475.7,185.8" fill="#000" stroke="none" stroke-width="1" />
<polygon points="1478.8,191 1483,183.4 1474.6,183.4" fill="#000" stroke="none" stroke-width="1" />
<polygon points="1468.3,188.5 1472.5,180.9 1464.1,180.9" fill="#000" stroke="none" stroke-width="1" />
<path d="M1504.7 221.3L1504.7 191.4M1499.7 221.3L1509.7 221.3M1499.7 191.4L1509.7 191.4" stroke-width="2.2" />
<polygon points="1512.2,221.3 1517,226.1 1512.2,230.8 1507.5,226.1" fill="#000" stroke="none" stroke-width="1" />
<polygon points="1498.5,219.6 1503.3,224.4 1498.5,229.1 1493.8,224.4" fill="#000" stroke="none" stroke-width="1" />
<polygon points="1503.7,214.8 1508.5,219.6 1503.7,224.3 1499,219.6" fill="#000" stroke="none" stroke-width="1" />
<polygon points="1500.3,212.3 1505,217.1 1500.3,221.8 1495.5,217.1" fill="#000" stroke="none" stroke-width="1" />
<polygon points="1507.6,209.9 1512.3,214.7 1507.6,219.4 1502.8,214.7" fill="#000" stroke="none" stroke-width="1" />
<polygon points="1511.4,208.5 1516.2,213.2 1511.4,218 1506.7,213.2" fill="#000" stroke="none" stroke-width="1" />
<polygon points="1508.4,205.3 1513.1,210 1508.4,214.8 1503.6,210" fill="#000" stroke="none" stroke-width="1" />
<polygon points="1498.6,203 1503.4,207.7 1498.6,212.5 1493.9,207.7" fill="#000" stroke="none" stroke-width="1" />
<polygon points="1512.6,200.2 1517.4,205 1512.6,209.7 1507.9,205" fill="#000" stroke="none" stroke-width="1" />
<polygon points="1512.4,198 1517.1,202.7 1512.4,207.5 1507.6,202.7" fill="#000" stroke="none" stroke-width="1" />
<polygon points="1504.5,195.3 1509.2,200 1504.5,204.8 1499.7,200" fill="#000" stroke="none" stroke-width="1" />
<polygon points="1510.3,191.7 1515.1,196.4 1510.3,201.2 1505.6,196.4" fill="#000" stroke="none" stroke-width="1" />
<polygon points="1503.5,190.8 1508.3,195.5 1503.5,200.3 1498.8,195.5" fill="#000" stroke="none" stroke-width="1" />
<polygon points="1502,187.3 1506.7,192.1 1502,196.8 1497.2,192.1" fill="#000" stroke="none" stroke-width="1" />
<polygon points="1501.6,185.8 1506.4,190.6 1501.6,195.3 1496.9,190.6" fill="#000" stroke="none" stroke-width="1" />
<polygon points="1496.5,181.3 1501.3,186.1 1496.5,190.8 1491.8,186.1" fill="#000" stroke="none" stroke-width="1" />
<path d="M1537 219.8L1537 178M1532 219.8L1542 219.8M1532 178L1542 178" stroke-width="2.2" />
<circle cx="1536" cy="226.4" r="3.8" fill="#000" stroke="none" stroke-width="1" />
<circle cx="1534.1" cy="220.2" r="3.8" fill="#000" stroke="none" stroke-width="1" />
<circle cx="1537.2" cy="219.4" r="3.8" fill="#000" stroke="none" stroke-width="1" />
<circle cx="1545.2" cy="213.8" r="3.8" fill="#000" stroke="none" stroke-width="1" />
<circle cx="1545" cy="212.3" r="3.8" fill="#000" stroke="none" stroke-width="1" />
<circle cx="1533" cy="207.3" r="3.8" fill="#000" stroke="none" stroke-width="1" />
<circle cx="1541.7" cy="203.9" r="3.8" fill="#000" stroke="none" stroke-width="1" />
<circle cx="1530.7" cy="200.6" r="3.8" fill="#000" stroke="none" stroke-width="1" />
<circle cx="1544" cy="197.1" r="3.8" fill="#000" stroke="none" stroke-width="1" />
<circle cx="1532.9" cy="193.1" r="3.8" fill="#000" stroke="none" stroke-width="1" />
<circle cx="1544.1" cy="190.5" r="3.8" fill="#000" stroke="none" stroke-width="1" />
<circle cx="1540.4" cy="186" r="3.8" fill="#000" stroke="none" stroke-width="1" />
<circle cx="1529.5" cy="183.9" r="3.8" fill="#000" stroke="none" stroke-width="1" />
<circle cx="1535.7" cy="178.2" r="3.8" fill="#000" stroke="none" stroke-width="1" />
<circle cx="1544.5" cy="177.4" r="3.8" fill="#000" stroke="none" stroke-width="1" />
<circle cx="1542.1" cy="158.6" r="3.8" fill="#000" stroke="none" stroke-width="1" />
<path d="M1569.3 186.2L1569.3 126.4M1564.3 186.2L1574.3 186.2M1564.3 126.4L1574.3 126.4" stroke-width="2.2" />
<polygon points="1575.4,187.9 1576.3,190.6 1579.2,190.7 1576.9,192.5 1577.7,195.2 1575.4,193.6 1573,195.2 1573.8,192.5 1571.5,190.7 1574.4,190.6" fill="#000" stroke="none" stroke-width="1" />
<polygon points="1575.5,183 1576.4,185.7 1579.3,185.8 1577,187.6 1577.9,190.4 1575.5,188.7 1573.1,190.4 1573.9,187.6 1571.6,185.8 1574.5,185.7" fill="#000" stroke="none" stroke-width="1" />
<polygon points="1566.6,180.5 1567.5,183.2 1570.4,183.3 1568.1,185.1 1569,187.8 1566.6,186.2 1564.2,187.8 1565,185.1 1562.7,183.3 1565.6,183.2" fill="#000" stroke="none" stroke-width="1" />
<polygon points="1576.6,175.8 1577.5,178.5 1580.4,178.6 1578.1,180.4 1578.9,183.2 1576.6,181.5 1574.2,183.2 1575,180.4 1572.7,178.6 1575.6,178.5" fill="#000" stroke="none" stroke-width="1" />
<polygon points="1563,169.6 1564,172.3 1566.9,172.4 1564.6,174.1 1565.4,176.9 1563,175.3 1560.6,176.9 1561.4,174.1 1559.2,172.4 1562,172.3" fill="#000" stroke="none" stroke-width="1" />
<polygon points="1564.9,165.3 1565.8,168 1568.7,168.1 1566.4,169.9 1567.2,172.6 1564.9,171 1562.5,172.6 1563.3,169.9 1561,168.1 1563.9,168" fill="#000" stroke="none" stroke-width="1" />
<polygon points="1563.6,159.4 1564.5,162.1 1567.4,162.2 1565.1,164 1565.9,166.8 1563.6,165.1 1561.2,166.8 1562,164 1559.7,162.2 1562.6,162.1" fill="#000" stroke="none" stroke-width="1" />
<polygon points="1564.2,154.6 1565.2,157.3 1568.1,157.4 1565.8,159.2 1566.6,162 1564.2,160.3 1561.9,162 1562.7,159.2 1560.4,157.4 1563.3,157.3" fill="#000" stroke="none" stroke-width="1" />
<polygon points="1566,149.8 1567,152.5 1569.8,152.6 1567.6,154.3 1568.4,157.1 1566,155.5 1563.6,157.1 1564.4,154.3 1562.1,152.6 1565,152.5" fill="#000" stroke="none" stroke-width="1" />
<polygon points="1565.7,144.1 1566.7,146.8 1569.6,146.9 1567.3,148.7 1568.1,151.4 1565.7,149.8 1563.4,151.4 1564.2,148.7 1561.9,146.9 1564.8,146.8" fill="#000" stroke="none" stroke-width="1" />
<polygon points="1563.8,139.3 1564.8,142 1567.7,142.1 1565.4,143.9 1566.2,146.6 1563.8,145 1561.5,146.6 1562.3,143.9 1560,142.1 1562.9,142" fill="#000" stroke="none" stroke-width="1" />
<polygon points="1561.1,134.7 1562.1,137.4 1565,137.5 1562.7,139.2 1563.5,142 1561.1,140.4 1558.7,142 1559.5,139.2 1557.3,137.5 1560.1,137.4" fill="#000" stroke="none" stroke-width="1" />
<polygon points="1561.1,130.1 1562,132.8 1564.9,132.9 1562.6,134.7 1563.5,137.4 1561.1,135.8 1558.7,137.4 1559.5,134.7 1557.2,132.9 1560.1,132.8" fill="#000" stroke="none" stroke-width="1" />
<polygon points="1570.2,122.4 1571.1,125.2 1574,125.2 1571.7,127 1572.6,129.8 1570.2,128.1 1567.8,129.8 1568.6,127 1566.3,125.2 1569.2,125.2" fill="#000" stroke="none" stroke-width="1" />
<polygon points="1568.9,120.7 1569.9,123.4 1572.7,123.5 1570.5,125.2 1571.3,128 1568.9,126.4 1566.5,128 1567.3,125.2 1565,123.5 1567.9,123.4" fill="#000" stroke="none" stroke-width="1" />
<polygon points="1562.6,110 1563.6,112.7 1566.5,112.8 1564.2,114.6 1565,117.4 1562.6,115.7 1560.2,117.4 1561,114.6 1558.8,112.8 1561.6,112.7" fill="#000" stroke="none" stroke-width="1" />
<path d="M1192.1 90.5L1192.1 316.3M1184.1 315.5L1192.1 315.5" stroke-width="1.9" />
<text x="1182.6" y="321.6" font-size="17" text-anchor="end" font-weight="bold" >0.0</text>
<path d="M1184.1 240.8L1192.1 240.8" stroke-width="1.9" />
<text x="1182.6" y="246.9" font-size="17" text-anchor="end" font-weight="bold" >0.5</text>
<path d="M1184.1 166L1192.1 166" stroke-width="1.9" />
<text x="1182.6" y="172.1" font-size="17" text-anchor="end" font-weight="bold" >1.0</text>
<path d="M1184.1 91.3L1192.1 91.3" stroke-width="1.9" />
<text x="1182.6" y="97.4" font-size="17" text-anchor="end" font-weight="bold" >1.5</text>
<path d="M1184.1 315.5L1591 315.5" stroke-width="2.1" />
<path d="M1213.9 315.5L1213.9 325.5M1246.2 315.5L1246.2 325.5M1278.5 315.5L1278.5 325.5M1310.8 315.5L1310.8 325.5M1343.1 315.5L1343.1 325.5M1375.5 315.5L1375.5 325.5M1407.8 315.5L1407.8 325.5M1440.1 315.5L1440.1 325.5M1472.4 315.5L1472.4 325.5M1504.7 315.5L1504.7 325.5M1537 315.5L1537 325.5M1569.3 315.5L1569.3 325.5" stroke-width="1.9" />
<text x="1144.4" y="201.6" font-size="17.5" text-anchor="middle" font-weight="bold" transform="rotate(-90 1144.4 201.6)" >Relative fluorescenc intensity</text>
<text x="1218.9" y="340" font-size="16.4" text-anchor="end" font-weight="bold" transform="rotate(-45 1218.9 340)" >Vehicle</text>
<text x="1251.2" y="340" font-size="16.4" text-anchor="end" font-weight="bold" transform="rotate(-45 1251.2 340)" >Vehicle+MET</text>
<text x="1283.5" y="340" font-size="16.4" text-anchor="end" font-weight="bold" transform="rotate(-45 1283.5 340)" >Vehicle+mdivi-1</text>
<text x="1315.8" y="340" font-size="16.4" text-anchor="end" font-weight="bold" transform="rotate(-45 1315.8 340)" >Vehicle+MET+mdivi-1</text>
<text x="1348.1" y="340" font-size="16.4" text-anchor="end" font-weight="bold" transform="rotate(-45 1348.1 340)" >50 nM C22:0</text>
<text x="1380.5" y="340" font-size="16.4" text-anchor="end" font-weight="bold" transform="rotate(-45 1380.5 340)" >50 nM C22:0+MET</text>
<text x="1412.8" y="340" font-size="16.4" text-anchor="end" font-weight="bold" transform="rotate(-45 1412.8 340)" >50 nM C22:0+mdivi-1</text>
<text x="1445.1" y="340" font-size="16.4" text-anchor="end" font-weight="bold" transform="rotate(-45 1445.1 340)" >50 nM C22:0+MET+mdivi-1</text>
<text x="1477.4" y="340" font-size="16.4" text-anchor="end" font-weight="bold" transform="rotate(-45 1477.4 340)" >1000 nM C22:0</text>
<text x="1509.7" y="340" font-size="16.4" text-anchor="end" font-weight="bold" transform="rotate(-45 1509.7 340)" >1000 nM C22:0+MET</text>
<text x="1542" y="340" font-size="16.4" text-anchor="end" font-weight="bold" transform="rotate(-45 1542 340)" >1000 nM C22:0+mdivi-1</text>
<text x="1574.3" y="340" font-size="16.4" text-anchor="end" font-weight="bold" transform="rotate(-45 1574.3 340)" >1000 nM C22:0+MET+mdivi-1</text>
<path d="M1215.2 85.8L1476.7 85.8" stroke-width="1.9" />
<text x="1346.4" y="74.8" font-size="14.5" text-anchor="middle" font-weight="bold" font-style="italic" >P = 0.0079</text>
<path d="M1212.6 138.1L1282.4 138.1" stroke-width="1.9" />
<text x="1247.4" y="127.7" font-size="14.5" text-anchor="middle" font-weight="bold" font-style="italic" >P = 0.0055</text>
<path d="M1339.6 113.1L1414.3 113.1" stroke-width="1.9" />
<text x="1376.7" y="102.4" font-size="14.5" text-anchor="middle" font-weight="bold" font-style="italic" >P &lt; 0.0001</text>
<path d="M1342.5 141.7L1376.7 141.7" stroke-width="1.9" />
<text x="1358.8" y="131" font-size="14.5" text-anchor="middle" font-weight="bold" font-style="italic" >P &lt; 0.0001</text>
<path d="M1505.6 80L1572.2 80" stroke-width="1.9" />
<text x="1539.1" y="69.9" font-size="14.5" text-anchor="middle" font-weight="bold" font-style="italic" >P = 0.0004</text>
<path d="M1539.7 107.6L1566 107.6" stroke-width="1.9" />
<text x="1552.8" y="96.9" font-size="14.5" text-anchor="middle" font-weight="bold" font-style="italic" >P = 0.0303</text>
<text x="31" y="589" font-size="32" font-weight="bold" >C</text>
<rect x="144.5" y="669.5" width="44.5" height="136.2" fill="#4ec2ea" stroke="#000" stroke-width="1.9" />
<rect x="214.3" y="674.1" width="44.9" height="131.6" fill="#fdbd5d" stroke="#000" stroke-width="1.9" />
<path d="M166.7 674.1L166.7 664.9M156.7 674.1L176.7 674.1M156.7 664.9L176.7 664.9M236.7 678.3L236.7 668.6M226.7 678.3L246.7 678.3M226.7 668.6L246.7 668.6" stroke-width="2" />
<polygon points="166.7,648.4 170.7,655.6 162.7,655.6" fill="#fff" stroke="#000" stroke-width="1.5" />
<polygon points="151.7,666.3 155.7,673.5 147.7,673.5" fill="#fff" stroke="#000" stroke-width="1.5" />
<polygon points="166.7,672.8 170.7,680 162.7,680" fill="#fff" stroke="#000" stroke-width="1.5" />
<polygon points="181.7,673.7 185.7,680.9 177.7,680.9" fill="#fff" stroke="#000" stroke-width="1.5" />
<polygon points="168.7,665.4 172.7,672.6 164.7,672.6" fill="#fff" stroke="#000" stroke-width="1.5" />
<polygon points="236.7,659.9 240.7,652.7 232.7,652.7" fill="#fff" stroke="#000" stroke-width="1.5" />
<polygon points="230.7,679.2 234.7,672 226.7,672" fill="#fff" stroke="#000" stroke-width="1.5" />
<polygon points="242.7,680.1 246.7,672.9 238.7,672.9" fill="#fff" stroke="#000" stroke-width="1.5" />
<polygon points="238.7,686.1 242.7,678.9 234.7,678.9" fill="#fff" stroke="#000" stroke-width="1.5" />
<polygon points="234.7,682 238.7,674.8 230.7,674.8" fill="#fff" stroke="#000" stroke-width="1.5" />
<path d="M120.5 601.6L120.5 806.5M112.5 805.7L120.5 805.7" stroke-width="1.9" />
<text x="111" y="812.1" font-size="18" text-anchor="end" font-weight="bold" >0</text>
<path d="M112.5 759.7L120.5 759.7" stroke-width="1.9" />
<text x="111" y="766.1" font-size="18" text-anchor="end" font-weight="bold" >500</text>
<path d="M112.5 713.7L120.5 713.7" stroke-width="1.9" />
<text x="111" y="720.1" font-size="18" text-anchor="end" font-weight="bold" >1000</text>
<path d="M112.5 667.7L120.5 667.7" stroke-width="1.9" />
<text x="111" y="674.1" font-size="18" text-anchor="end" font-weight="bold" >1500</text>
<path d="M112.5 621.7L120.5 621.7" stroke-width="1.9" />
<text x="111" y="628.1" font-size="18" text-anchor="end" font-weight="bold" >2000</text>
<path d="M112.4 805.7L284.6 805.7" stroke-width="2.1" />
<path d="M167.5 635L240.5 635" stroke-width="1.9" />
<text x="204" y="625.5" font-size="16" text-anchor="middle" font-weight="bold" >ns</text>
<text x="36" y="704" font-size="17.5" text-anchor="middle" font-weight="bold" transform="rotate(-90 36 704)" >AUC for glucose</text>
<text x="59" y="704" font-size="17.5" text-anchor="middle" font-weight="bold" transform="rotate(-90 59 704)" >(mmol*120 min/L)</text>
<rect x="362.9" y="727.1" width="45.5" height="81.3" fill="#4ec2ea" stroke="#000" stroke-width="1.9" />
<rect x="433.1" y="761.2" width="44.5" height="47.2" fill="#fdbd5d" stroke="#000" stroke-width="1.9" />
<path d="M385.5 747L385.5 706.8M374.5 747L396.5 747M374.5 706.8L396.5 706.8M455 768.3L455 753.5M444 768.3L466 768.3M444 753.5L466 753.5" stroke-width="2" />
<polygon points="385.5,649.8 389.5,657 381.5,657" fill="#fff" stroke="#000" stroke-width="1.5" />
<polygon points="385.5,716.8 389.5,724 381.5,724" fill="#000" stroke="#000" stroke-width="1.5" />
<polygon points="385.5,735.1 389.5,742.3 381.5,742.3" fill="#000" stroke="#000" stroke-width="1.5" />
<polygon points="385.5,748.4 389.5,755.6 381.5,755.6" fill="#fff" stroke="#000" stroke-width="1.5" />
<polygon points="385.5,766.6 389.5,773.8 381.5,773.8" fill="#fff" stroke="#000" stroke-width="1.5" />
<polygon points="455,737.3 459,730.1 451,730.1" fill="#fff" stroke="#000" stroke-width="1.5" />
<polygon points="451,763.7 455,756.5 447,756.5" fill="#fff" stroke="#000" stroke-width="1.5" />
<polygon points="460,767.8 464,760.6 456,760.6" fill="#fff" stroke="#000" stroke-width="1.5" />
<polygon points="450,774.9 454,767.7 446,767.7" fill="#fff" stroke="#000" stroke-width="1.5" />
<polygon points="458,781 462,773.8 454,773.8" fill="#fff" stroke="#000" stroke-width="1.5" />
<path d="M338.6 604.3L338.6 809.2M330.6 808.4L338.6 808.4" stroke-width="1.9" />
<text x="329.1" y="814.8" font-size="18" text-anchor="end" font-weight="bold" >0</text>
<path d="M330.6 767.7L338.6 767.7" stroke-width="1.9" />
<text x="329.1" y="774.2" font-size="18" text-anchor="end" font-weight="bold" >20</text>
<path d="M330.6 727.1L338.6 727.1" stroke-width="1.9" />
<text x="329.1" y="733.5" font-size="18" text-anchor="end" font-weight="bold" >40</text>
<path d="M330.6 686.4L338.6 686.4" stroke-width="1.9" />
<text x="329.1" y="692.9" font-size="18" text-anchor="end" font-weight="bold" >60</text>
<path d="M330.6 645.8L338.6 645.8" stroke-width="1.9" />
<text x="329.1" y="652.2" font-size="18" text-anchor="end" font-weight="bold" >80</text>
<path d="M330.6 605.1L338.6 605.1" stroke-width="1.9" />
<text x="329.1" y="611.5" font-size="18" text-anchor="end" font-weight="bold" >100</text>
<path d="M330 808.4L502 808.4" stroke-width="2.1" />
<path d="M385.5 808.4L385.5 817.4M455 808.4L455 817.4M389.5 639.8L461 639.8" stroke-width="1.9" />
<text x="424.5" y="630" font-size="16" text-anchor="middle" font-weight="bold" >ns</text>
<text x="287.5" y="705" font-size="17.5" text-anchor="middle" font-weight="bold" transform="rotate(-90 287.5 705)" >HOMA-IR</text>
<polygon points="361.5,573.3 365,579.7 358,579.7" fill="#fff" stroke="#000" stroke-width="1.5" />
<polygon points="361.5,604.7 365,598.3 358,598.3" fill="#fff" stroke="#000" stroke-width="1.5" />
<text x="384.8" y="583" font-size="16.3" font-weight="bold" fill="#4ec2ea" >Cer(d18:1/22:0)</text>
<text x="384.8" y="606.5" font-size="16.3" font-weight="bold" fill="#fdbd5d" >Cer(d18:1/22:0)+MET</text>
<text x="554" y="592" font-size="31" font-weight="bold" >D</text>
<path d="M697.2 605.6L697.2 787.6M774.6 605.6L774.6 787.6M848.2 605.6L848.2 787.6" stroke-width="4.2" stroke="#d2d2d2" stroke-dasharray="14 9"/>
<path d="M649.6 706.6L649.6 714.8M646.1 706.6L653.1 706.6M646.1 714.8L653.1 714.8M674.8 713.8L674.8 719.9M671.3 713.8L678.3 713.8M671.3 719.9L678.3 719.9M699.9 715.8L699.9 724M696.4 715.8L703.4 715.8M696.4 724L703.4 724M725.1 752.7L725.1 758.8M721.6 752.7L728.6 752.7M721.6 758.8L728.6 758.8M750.3 753.7L750.3 759.9M746.8 753.7L753.8 753.7M746.8 759.9L753.8 759.9M775.4 752.7L775.4 758.8M771.9 752.7L778.9 752.7M771.9 758.8L778.9 758.8M800.6 598L800.6 618.5M797.1 598L804.1 598M797.1 618.5L804.1 618.5M825.7 602.1L825.7 620.5M822.2 602.1L829.2 602.1M822.2 620.5L829.2 620.5M850.9 615.4L850.9 637.9M847.4 615.4L854.4 615.4M847.4 637.9L854.4 637.9M876 761.9L876 768.1M872.5 761.9L879.5 761.9M872.5 768.1L879.5 768.1M901.2 764L901.2 770.1M897.7 764L904.7 764M897.7 770.1L904.7 770.1M926.3 765L926.3 771.1M922.8 765L929.8 765M922.8 771.1L929.8 771.1" stroke-width="1.4" stroke="#e98bab" />
<polyline points="649.6,710.7 674.8,716.8 699.9,719.9 725.1,755.8 750.3,756.8 775.4,755.8 800.6,608.2 825.7,611.3 850.9,626.7 876,765 901.2,767 926.3,768.1" fill="none" stroke="#e98bab" stroke-width="1.7" stroke-linejoin="round" />
<rect x="646.3" y="707.4" width="6.6" height="6.6" fill="#e98bab" stroke="none" stroke-width="1" />
<rect x="671.5" y="713.5" width="6.6" height="6.6" fill="#e98bab" stroke="none" stroke-width="1" />
<rect x="696.6" y="716.6" width="6.6" height="6.6" fill="#e98bab" stroke="none" stroke-width="1" />
<rect x="721.8" y="752.5" width="6.6" height="6.6" fill="#e98bab" stroke="none" stroke-width="1" />
<rect x="747" y="753.5" width="6.6" height="6.6" fill="#e98bab" stroke="none" stroke-width="1" />
<rect x="772.1" y="752.5" width="6.6" height="6.6" fill="#e98bab" stroke="none" stroke-width="1" />
<rect x="797.3" y="604.9" width="6.6" height="6.6" fill="#e98bab" stroke="none" stroke-width="1" />
<rect x="822.4" y="608" width="6.6" height="6.6" fill="#e98bab" stroke="none" stroke-width="1" />
<rect x="847.6" y="623.4" width="6.6" height="6.6" fill="#e98bab" stroke="none" stroke-width="1" />
<rect x="872.7" y="761.7" width="6.6" height="6.6" fill="#e98bab" stroke="none" stroke-width="1" />
<rect x="897.9" y="763.7" width="6.6" height="6.6" fill="#e98bab" stroke="none" stroke-width="1" />
<rect x="923" y="764.8" width="6.6" height="6.6" fill="#e98bab" stroke="none" stroke-width="1" />
<path d="M649.6 717.9L649.6 728.1M646.1 717.9L653.1 717.9M646.1 728.1L653.1 728.1M674.8 722L674.8 730.2M671.3 722L678.3 722M671.3 730.2L678.3 730.2M699.9 723L699.9 731.2M696.4 723L703.4 723M696.4 731.2L703.4 731.2M725.1 748.6L725.1 765M721.6 748.6L728.6 748.6M721.6 765L728.6 765M750.3 755.8L750.3 761.9M746.8 755.8L753.8 755.8M746.8 761.9L753.8 761.9M775.4 753.7L775.4 759.9M771.9 753.7L778.9 753.7M771.9 759.9L778.9 759.9M800.6 637.9L800.6 658.4M797.1 637.9L804.1 637.9M797.1 658.4L804.1 658.4M825.7 640L825.7 660.5M822.2 640L829.2 640M822.2 660.5L829.2 660.5M850.9 648.2L850.9 668.7M847.4 648.2L854.4 648.2M847.4 668.7L854.4 668.7M876 751.7L876 766M872.5 751.7L879.5 751.7M872.5 766L879.5 766M901.2 756.8L901.2 769.1M897.7 756.8L904.7 756.8M897.7 769.1L904.7 769.1M926.3 758.8L926.3 769.1M922.8 758.8L929.8 758.8M922.8 769.1L929.8 769.1" stroke-width="1.4" stroke="#2f5f8b" />
<polyline points="649.6,723 674.8,726.1 699.9,727.1 725.1,756.8 750.3,758.8 775.4,756.8 800.6,648.2 825.7,650.2 850.9,658.4 876,758.8 901.2,762.9 926.3,764" fill="none" stroke="#2f5f8b" stroke-width="1.7" stroke-linejoin="round" />
<polygon points="649.6,719.2 653.3,725.8 646,725.8" fill="#2f5f8b" stroke="none" stroke-width="1" />
<polygon points="674.8,722.3 678.4,728.9 671.2,728.9" fill="#2f5f8b" stroke="none" stroke-width="1" />
<polygon points="699.9,723.3 703.6,729.9 696.3,729.9" fill="#2f5f8b" stroke="none" stroke-width="1" />
<polygon points="725.1,753 728.7,759.6 721.5,759.6" fill="#2f5f8b" stroke="none" stroke-width="1" />
<polygon points="750.3,755 753.9,761.6 746.6,761.6" fill="#2f5f8b" stroke="none" stroke-width="1" />
<polygon points="775.4,753 779,759.6 771.8,759.6" fill="#2f5f8b" stroke="none" stroke-width="1" />
<polygon points="800.6,644.4 804.2,651 796.9,651" fill="#2f5f8b" stroke="none" stroke-width="1" />
<polygon points="825.7,646.4 829.3,653 822.1,653" fill="#2f5f8b" stroke="none" stroke-width="1" />
<polygon points="850.9,654.6 854.5,661.2 847.2,661.2" fill="#2f5f8b" stroke="none" stroke-width="1" />
<polygon points="876,755 879.7,761.6 872.4,761.6" fill="#2f5f8b" stroke="none" stroke-width="1" />
<polygon points="901.2,759.1 904.8,765.7 897.6,765.7" fill="#2f5f8b" stroke="none" stroke-width="1" />
<polygon points="926.3,760.2 930,766.8 922.7,766.8" fill="#2f5f8b" stroke="none" stroke-width="1" />
<path d="M649.6 729.1L649.6 737.3M646.1 729.1L653.1 729.1M646.1 737.3L653.1 737.3M674.8 730.2L674.8 738.4M671.3 730.2L678.3 730.2M671.3 738.4L678.3 738.4M699.9 731.2L699.9 739.4M696.4 731.2L703.4 731.2M696.4 739.4L703.4 739.4M725.1 758.8L725.1 765M721.6 758.8L728.6 758.8M721.6 765L728.6 765M750.3 760.9L750.3 767M746.8 760.9L753.8 760.9M746.8 767L753.8 767M775.4 757.8L775.4 764M771.9 757.8L778.9 757.8M771.9 764L778.9 764M800.6 647.2L800.6 667.7M797.1 647.2L804.1 647.2M797.1 667.7L804.1 667.7M825.7 649.2L825.7 669.7M822.2 649.2L829.2 649.2M822.2 669.7L829.2 669.7M850.9 656.4L850.9 676.9M847.4 656.4L854.4 656.4M847.4 676.9L854.4 676.9M876 762.9L876 769.1M872.5 762.9L879.5 762.9M872.5 769.1L879.5 769.1M901.2 766L901.2 772.2M897.7 766L904.7 766M897.7 772.2L904.7 772.2M926.3 767L926.3 773.2M922.8 767L929.8 767M922.8 773.2L929.8 773.2" stroke-width="1.4" stroke="#4ec5c1" />
<polyline points="649.6,733.2 674.8,734.3 699.9,735.3 725.1,761.9 750.3,764 775.4,760.9 800.6,657.4 825.7,659.5 850.9,666.6 876,766 901.2,769.1 926.3,770.1" fill="none" stroke="#4ec5c1" stroke-width="1.7" stroke-linejoin="round" />
<polygon points="649.6,737 653.3,730.4 646,730.4" fill="#4ec5c1" stroke="none" stroke-width="1" />
<polygon points="674.8,738 678.4,731.4 671.2,731.4" fill="#4ec5c1" stroke="none" stroke-width="1" />
<polygon points="699.9,739.1 703.6,732.5 696.3,732.5" fill="#4ec5c1" stroke="none" stroke-width="1" />
<polygon points="725.1,765.7 728.7,759.1 721.5,759.1" fill="#4ec5c1" stroke="none" stroke-width="1" />
<polygon points="750.3,767.8 753.9,761.2 746.6,761.2" fill="#4ec5c1" stroke="none" stroke-width="1" />
<polygon points="775.4,764.7 779,758.1 771.8,758.1" fill="#4ec5c1" stroke="none" stroke-width="1" />
<polygon points="800.6,661.2 804.2,654.6 796.9,654.6" fill="#4ec5c1" stroke="none" stroke-width="1" />
<polygon points="825.7,663.3 829.3,656.7 822.1,656.7" fill="#4ec5c1" stroke="none" stroke-width="1" />
<polygon points="850.9,670.4 854.5,663.8 847.2,663.8" fill="#4ec5c1" stroke="none" stroke-width="1" />
<polygon points="876,769.8 879.7,763.2 872.4,763.2" fill="#4ec5c1" stroke="none" stroke-width="1" />
<polygon points="901.2,772.9 904.8,766.3 897.6,766.3" fill="#4ec5c1" stroke="none" stroke-width="1" />
<polygon points="926.3,773.9 930,767.3 922.7,767.3" fill="#4ec5c1" stroke="none" stroke-width="1" />
<path d="M649.6 730.2L649.6 736.3M646.1 730.2L653.1 730.2M646.1 736.3L653.1 736.3M674.8 731.2L674.8 737.3M671.3 731.2L678.3 731.2M671.3 737.3L678.3 737.3M699.9 731.2L699.9 737.3M696.4 731.2L703.4 731.2M696.4 737.3L703.4 737.3M725.1 756.8L725.1 762.9M721.6 756.8L728.6 756.8M721.6 762.9L728.6 762.9M750.3 758.8L750.3 762.9M746.8 758.8L753.8 758.8M746.8 762.9L753.8 762.9M775.4 757.8L775.4 761.9M771.9 757.8L778.9 757.8M771.9 761.9L778.9 761.9M800.6 647.2L800.6 663.6M797.1 647.2L804.1 647.2M797.1 663.6L804.1 663.6M825.7 648.2L825.7 664.6M822.2 648.2L829.2 648.2M822.2 664.6L829.2 664.6M850.9 656.4L850.9 672.8M847.4 656.4L854.4 656.4M847.4 672.8L854.4 672.8M876 762.9L876 767M872.5 762.9L879.5 762.9M872.5 767L879.5 767M901.2 766L901.2 770.1M897.7 766L904.7 766M897.7 770.1L904.7 770.1M926.3 767L926.3 771.1M922.8 767L929.8 767M922.8 771.1L929.8 771.1" stroke-width="1.4" stroke="#e9516f" />
<polyline points="649.6,733.2 674.8,734.3 699.9,734.3 725.1,759.9 750.3,760.9 775.4,759.9 800.6,655.4 825.7,656.4 850.9,664.6 876,765 901.2,768.1 926.3,769.1" fill="none" stroke="#e9516f" stroke-width="1.7" stroke-linejoin="round" />
<polygon points="649.6,729.1 653.8,733.2 649.6,737.4 645.5,733.2" fill="#e9516f" stroke="none" stroke-width="1" />
<polygon points="674.8,730.1 678.9,734.3 674.8,738.4 670.7,734.3" fill="#e9516f" stroke="none" stroke-width="1" />
<polygon points="699.9,730.1 704.1,734.3 699.9,738.4 695.8,734.3" fill="#e9516f" stroke="none" stroke-width="1" />
<polygon points="725.1,755.7 729.2,759.9 725.1,764 721,759.9" fill="#e9516f" stroke="none" stroke-width="1" />
<polygon points="750.3,756.8 754.4,760.9 750.3,765 746.1,760.9" fill="#e9516f" stroke="none" stroke-width="1" />
<polygon points="775.4,755.7 779.5,759.9 775.4,764 771.3,759.9" fill="#e9516f" stroke="none" stroke-width="1" />
<polygon points="800.6,651.2 804.7,655.4 800.6,659.5 796.4,655.4" fill="#e9516f" stroke="none" stroke-width="1" />
<polygon points="825.7,652.3 829.8,656.4 825.7,660.5 821.6,656.4" fill="#e9516f" stroke="none" stroke-width="1" />
<polygon points="850.9,660.5 855,664.6 850.9,668.7 846.7,664.6" fill="#e9516f" stroke="none" stroke-width="1" />
<polygon points="876,760.9 880.2,765 876,769.1 871.9,765" fill="#e9516f" stroke="none" stroke-width="1" />
<polygon points="901.2,763.9 905.3,768.1 901.2,772.2 897.1,768.1" fill="#e9516f" stroke="none" stroke-width="1" />
<polygon points="926.3,765 930.5,769.1 926.3,773.2 922.2,769.1" fill="#e9516f" stroke="none" stroke-width="1" />
<path d="M649.6 719.9L649.6 730.2M646.1 719.9L653.1 719.9M646.1 730.2L653.1 730.2M674.8 723L674.8 731.2M671.3 723L678.3 723M671.3 731.2L678.3 731.2M699.9 724L699.9 732.2M696.4 724L703.4 724M696.4 732.2L703.4 732.2M725.1 755.8L725.1 761.9M721.6 755.8L728.6 755.8M721.6 761.9L728.6 761.9M750.3 756.8L750.3 762.9M746.8 756.8L753.8 756.8M746.8 762.9L753.8 762.9M775.4 755.8L775.4 761.9M771.9 755.8L778.9 755.8M771.9 761.9L778.9 761.9M800.6 622.6L800.6 647.2M797.1 622.6L804.1 622.6M797.1 647.2L804.1 647.2M825.7 622.6L825.7 647.2M822.2 622.6L829.2 622.6M822.2 647.2L829.2 647.2M850.9 632.8L850.9 655.4M847.4 632.8L854.4 632.8M847.4 655.4L854.4 655.4M876 759.9L876 766M872.5 759.9L879.5 759.9M872.5 766L879.5 766M901.2 762.9L901.2 769.1M897.7 762.9L904.7 762.9M897.7 769.1L904.7 769.1M926.3 765L926.3 771.1M922.8 765L929.8 765M922.8 771.1L929.8 771.1" stroke-width="1.4" stroke="#efe9cf" />
<polyline points="649.6,725 674.8,727.1 699.9,728.1 725.1,758.8 750.3,759.9 775.4,758.8 800.6,634.9 825.7,634.9 850.9,644.1 876,762.9 901.2,766 926.3,768.1" fill="none" stroke="#efe9cf" stroke-width="1.7" stroke-linejoin="round" />
<circle cx="649.6" cy="725" r="4.2" fill="#efe9cf" stroke="none" stroke-width="1" />
<circle cx="674.8" cy="727.1" r="4.2" fill="#efe9cf" stroke="none" stroke-width="1" />
<circle cx="699.9" cy="728.1" r="4.2" fill="#efe9cf" stroke="none" stroke-width="1" />
<circle cx="725.1" cy="758.8" r="4.2" fill="#efe9cf" stroke="none" stroke-width="1" />
<circle cx="750.3" cy="759.9" r="4.2" fill="#efe9cf" stroke="none" stroke-width="1" />
<circle cx="775.4" cy="758.8" r="4.2" fill="#efe9cf" stroke="none" stroke-width="1" />
<circle cx="800.6" cy="634.9" r="4.2" fill="#efe9cf" stroke="none" stroke-width="1" />
<circle cx="825.7" cy="634.9" r="4.2" fill="#efe9cf" stroke="none" stroke-width="1" />
<circle cx="850.9" cy="644.1" r="4.2" fill="#efe9cf" stroke="none" stroke-width="1" />
<circle cx="876" cy="762.9" r="4.2" fill="#efe9cf" stroke="none" stroke-width="1" />
<circle cx="901.2" cy="766" r="4.2" fill="#efe9cf" stroke="none" stroke-width="1" />
<circle cx="926.3" cy="768.1" r="4.2" fill="#efe9cf" stroke="none" stroke-width="1" />
<path d="M644.6 584.9L644.6 791.4M636.6 790.6L644.6 790.6" stroke-width="1.9" />
<text x="635.1" y="797" font-size="18" text-anchor="end" font-weight="bold" >0</text>
<path d="M636.6 739.4L644.6 739.4" stroke-width="1.9" />
<text x="635.1" y="745.8" font-size="18" text-anchor="end" font-weight="bold" >5</text>
<path d="M636.6 688.2L644.6 688.2" stroke-width="1.9" />
<text x="635.1" y="694.6" font-size="18" text-anchor="end" font-weight="bold" >10</text>
<path d="M636.6 636.9L644.6 636.9" stroke-width="1.9" />
<text x="635.1" y="643.4" font-size="18" text-anchor="end" font-weight="bold" >15</text>
<path d="M636.6 585.7L644.6 585.7" stroke-width="1.9" />
<text x="635.1" y="592.1" font-size="18" text-anchor="end" font-weight="bold" >20</text>
<path d="M643.7 790.6L955.1 790.6M644.6 790.6L644.6 798.6" stroke-width="1.9" />
<text x="644.6" y="818.6" font-size="18" text-anchor="middle" font-weight="bold" >0</text>
<path d="M722 790.6L722 798.6" stroke-width="1.9" />
<text x="722" y="818.6" font-size="18" text-anchor="middle" font-weight="bold" >20</text>
<path d="M799.4 790.6L799.4 798.6" stroke-width="1.9" />
<text x="799.4" y="818.6" font-size="18" text-anchor="middle" font-weight="bold" >40</text>
<path d="M876.8 790.6L876.8 798.6" stroke-width="1.9" />
<text x="876.8" y="818.6" font-size="18" text-anchor="middle" font-weight="bold" >60</text>
<path d="M954.2 790.6L954.2 798.6" stroke-width="1.9" />
<text x="954.2" y="818.6" font-size="18" text-anchor="middle" font-weight="bold" >80</text>
<text x="799.9" y="843.6" font-size="18" text-anchor="middle" font-weight="bold" >Time (min)</text>
<text x="601" y="686.2" font-size="18" text-anchor="middle" font-weight="bold" transform="rotate(-90 601 686.2)" >OCR (pmol/min/μg protein)</text>
<text x="645.4" y="783.1" font-size="17" font-weight="bold" fill="#7f7f7f" >Basal</text>
<text x="718.1" y="783.1" font-size="17" font-weight="bold" fill="#7f7f7f" >Leak</text>
<text x="797.5" y="783.1" font-size="17" font-weight="bold" fill="#7f7f7f" >Max</text>
<text x="688.2" y="588.1" font-size="17" font-weight="bold" fill="#7f7f7f" transform="rotate(-45 688.2 588.1)" >Oligo</text>
<text x="765.6" y="588.1" font-size="17" font-weight="bold" fill="#7f7f7f" transform="rotate(-45 765.6 588.1)" >FCCP</text>
<text x="839.2" y="588.1" font-size="17" font-weight="bold" fill="#7f7f7f" transform="rotate(-45 839.2 588.1)" >Rot/AA</text>
<path d="M876.7 622.2L898.7 622.2" stroke-width="1.7" stroke="#e98bab" />
<rect x="884.1" y="618.6" width="7.2" height="7.2" fill="#e98bab" stroke="none" stroke-width="1" />
<text x="910.6" y="628.2" font-size="17.8" font-weight="bold" >50 nM C22:0</text>
<path d="M876.7 649.8L898.7 649.8" stroke-width="1.7" stroke="#2f5f8b" />
<polygon points="887.7,645.7 891.7,652.9 883.7,652.9" fill="#2f5f8b" stroke="none" stroke-width="1" />
<text x="910.6" y="655.8" font-size="17.8" font-weight="bold" >50 nM C22:0+MET</text>
<path d="M876.7 677.2L898.7 677.2" stroke-width="1.7" stroke="#4ec5c1" />
<polygon points="887.7,681.3 891.7,674.1 883.7,674.1" fill="#4ec5c1" stroke="none" stroke-width="1" />
<text x="910.6" y="683.2" font-size="17.8" font-weight="bold" >1000 nM C22:0</text>
<path d="M876.7 703.5L898.7 703.5" stroke-width="1.7" stroke="#e9516f" />
<polygon points="887.7,699 892.2,703.5 887.7,708 883.2,703.5" fill="#e9516f" stroke="none" stroke-width="1" />
<text x="910.6" y="709.5" font-size="17.8" font-weight="bold" >1000 nM C22:0+MET</text>
<path d="M876.7 594.8L898.7 594.8" stroke-width="1.7" stroke="#efe9cf" />
<circle cx="887.7" cy="594.8" r="3.6" fill="#efe9cf" stroke="none" stroke-width="1" />
<text x="910.6" y="600.8" font-size="17.8" font-weight="bold" >Vehicle</text>
<path d="M1200.8 604.3L1200.8 786.3M1278 604.3L1278 786.3M1351.3 604.3L1351.3 786.3" stroke-width="4.2" stroke="#d2d2d2" stroke-dasharray="14 9"/>
<path d="M1153.3 725.6L1153.3 735.9M1149.8 725.6L1156.8 725.6M1149.8 735.9L1156.8 735.9M1178.4 728.7L1178.4 739M1174.9 728.7L1181.9 728.7M1174.9 739L1181.9 739M1203.5 727.1L1203.5 741.5M1200 727.1L1207 727.1M1200 741.5L1207 741.5M1228.6 759L1228.6 764.1M1225.1 759L1232.1 759M1225.1 764.1L1232.1 764.1M1253.7 760.5L1253.7 764.6M1250.2 760.5L1257.2 760.5M1250.2 764.6L1257.2 764.6M1278.7 758.5L1278.7 762.6M1275.2 758.5L1282.2 758.5M1275.2 762.6L1282.2 762.6M1303.8 632.1L1303.8 666M1300.3 632.1L1307.3 632.1M1300.3 666L1307.3 666M1328.9 655.7L1328.9 680.4M1325.4 655.7L1332.4 655.7M1325.4 680.4L1332.4 680.4M1354 670.6L1354 693.2M1350.5 670.6L1357.5 670.6M1350.5 693.2L1357.5 693.2M1379.1 770.3L1379.1 773.4M1375.6 770.3L1382.6 770.3M1375.6 773.4L1382.6 773.4M1404.2 770.8L1404.2 773.9M1400.7 770.8L1407.7 770.8M1400.7 773.9L1407.7 773.9M1429.2 771.8L1429.2 774.9M1425.7 771.8L1432.7 771.8M1425.7 774.9L1432.7 774.9" stroke-width="1.4" stroke="#f5831f" />
<polyline points="1153.3,730.7 1178.4,733.8 1203.5,734.3 1228.6,761.6 1253.7,762.6 1278.7,760.5 1303.8,649 1328.9,668.1 1354,681.9 1379.1,771.8 1404.2,772.3 1429.2,773.4" fill="none" stroke="#f5831f" stroke-width="1.7" stroke-linejoin="round" />
<polygon points="1153.3,734.5 1156.9,727.9 1149.7,727.9" fill="#f5831f" stroke="none" stroke-width="1" />
<polygon points="1178.4,737.6 1182,731 1174.8,731" fill="#f5831f" stroke="none" stroke-width="1" />
<polygon points="1203.5,738.1 1207.1,731.5 1199.9,731.5" fill="#f5831f" stroke="none" stroke-width="1" />
<polygon points="1228.6,765.4 1232.2,758.8 1224.9,758.8" fill="#f5831f" stroke="none" stroke-width="1" />
<polygon points="1253.7,766.4 1257.3,759.8 1250,759.8" fill="#f5831f" stroke="none" stroke-width="1" />
<polygon points="1278.7,764.3 1282.4,757.7 1275.1,757.7" fill="#f5831f" stroke="none" stroke-width="1" />
<polygon points="1303.8,652.8 1307.4,646.2 1300.2,646.2" fill="#f5831f" stroke="none" stroke-width="1" />
<polygon points="1328.9,671.8 1332.5,665.2 1325.3,665.2" fill="#f5831f" stroke="none" stroke-width="1" />
<polygon points="1354,685.7 1357.6,679.1 1350.4,679.1" fill="#f5831f" stroke="none" stroke-width="1" />
<polygon points="1379.1,775.6 1382.7,769 1375.4,769" fill="#f5831f" stroke="none" stroke-width="1" />
<polygon points="1404.2,776.1 1407.8,769.5 1400.5,769.5" fill="#f5831f" stroke="none" stroke-width="1" />
<polygon points="1429.2,777.2 1432.9,770.6 1425.6,770.6" fill="#f5831f" stroke="none" stroke-width="1" />
<path d="M1153.3 726.6L1153.3 736.9M1149.8 726.6L1156.8 726.6M1149.8 736.9L1156.8 736.9M1178.4 729.2L1178.4 739.5M1174.9 729.2L1181.9 729.2M1174.9 739.5L1181.9 739.5M1203.5 730.2L1203.5 740.5M1200 730.2L1207 730.2M1200 740.5L1207 740.5M1228.6 760L1228.6 765.2M1225.1 760L1232.1 760M1225.1 765.2L1232.1 765.2M1253.7 761.6L1253.7 765.7M1250.2 761.6L1257.2 761.6M1250.2 765.7L1257.2 765.7M1278.7 759.5L1278.7 763.6M1275.2 759.5L1282.2 759.5M1275.2 763.6L1282.2 763.6M1303.8 623.4L1303.8 672.7M1300.3 623.4L1307.3 623.4M1300.3 672.7L1307.3 672.7M1328.9 651.6L1328.9 686.5M1325.4 651.6L1332.4 651.6M1325.4 686.5L1332.4 686.5M1354 669.6L1354 696.3M1350.5 669.6L1357.5 669.6M1350.5 696.3L1357.5 696.3M1379.1 770.8L1379.1 773.9M1375.6 770.8L1382.6 770.8M1375.6 773.9L1382.6 773.9M1404.2 771.3L1404.2 774.4M1400.7 771.3L1407.7 771.3M1400.7 774.4L1407.7 774.4M1429.2 771.8L1429.2 774.9M1425.7 771.8L1432.7 771.8M1425.7 774.9L1432.7 774.9" stroke-width="1.4" stroke="#1e8162" />
<polyline points="1153.3,731.8 1178.4,734.3 1203.5,735.4 1228.6,762.6 1253.7,763.6 1278.7,761.6 1303.8,648 1328.9,669.1 1354,683 1379.1,772.3 1404.2,772.9 1429.2,773.4" fill="none" stroke="#1e8162" stroke-width="1.7" stroke-linejoin="round" />
<polygon points="1153.3,728 1156.9,734.6 1149.7,734.6" fill="#1e8162" stroke="none" stroke-width="1" />
<polygon points="1178.4,730.5 1182,737.1 1174.8,737.1" fill="#1e8162" stroke="none" stroke-width="1" />
<polygon points="1203.5,731.6 1207.1,738.2 1199.9,738.2" fill="#1e8162" stroke="none" stroke-width="1" />
<polygon points="1228.6,758.8 1232.2,765.4 1224.9,765.4" fill="#1e8162" stroke="none" stroke-width="1" />
<polygon points="1253.7,759.8 1257.3,766.4 1250,766.4" fill="#1e8162" stroke="none" stroke-width="1" />
<polygon points="1278.7,757.8 1282.4,764.4 1275.1,764.4" fill="#1e8162" stroke="none" stroke-width="1" />
<polygon points="1303.8,644.2 1307.4,650.8 1300.2,650.8" fill="#1e8162" stroke="none" stroke-width="1" />
<polygon points="1328.9,665.3 1332.5,671.9 1325.3,671.9" fill="#1e8162" stroke="none" stroke-width="1" />
<polygon points="1354,679.2 1357.6,685.8 1350.4,685.8" fill="#1e8162" stroke="none" stroke-width="1" />
<polygon points="1379.1,768.6 1382.7,775.2 1375.4,775.2" fill="#1e8162" stroke="none" stroke-width="1" />
<polygon points="1404.2,769.1 1407.8,775.7 1400.5,775.7" fill="#1e8162" stroke="none" stroke-width="1" />
<polygon points="1429.2,769.6 1432.9,776.2 1425.6,776.2" fill="#1e8162" stroke="none" stroke-width="1" />
<path d="M1153.3 724.6L1153.3 734.8M1149.8 724.6L1156.8 724.6M1149.8 734.8L1156.8 734.8M1178.4 728.2L1178.4 737.4M1174.9 728.2L1181.9 728.2M1174.9 737.4L1181.9 737.4M1203.5 727.6L1203.5 739M1200 727.6L1207 727.6M1200 739L1207 739M1228.6 756.9L1228.6 762.1M1225.1 756.9L1232.1 756.9M1225.1 762.1L1232.1 762.1M1253.7 758.5L1253.7 763.6M1250.2 758.5L1257.2 758.5M1250.2 763.6L1257.2 763.6M1278.7 754.9L1278.7 760M1275.2 754.9L1282.2 754.9M1275.2 760L1282.2 760M1303.8 652.6L1303.8 683.5M1300.3 652.6L1307.3 652.6M1300.3 683.5L1307.3 683.5M1328.9 672.2L1328.9 698.9M1325.4 672.2L1332.4 672.2M1325.4 698.9L1332.4 698.9M1354 683L1354 705.6M1350.5 683L1357.5 683M1350.5 705.6L1357.5 705.6M1379.1 769.3L1379.1 772.3M1375.6 769.3L1382.6 769.3M1375.6 772.3L1382.6 772.3M1404.2 770.3L1404.2 773.4M1400.7 770.3L1407.7 770.3M1400.7 773.4L1407.7 773.4M1429.2 771.3L1429.2 774.4M1425.7 771.3L1432.7 771.3M1425.7 774.4L1432.7 774.4" stroke-width="1.4" stroke="#9a70c4" />
<polyline points="1153.3,729.7 1178.4,732.8 1203.5,733.3 1228.6,759.5 1253.7,761 1278.7,757.4 1303.8,668.1 1328.9,685.5 1354,694.3 1379.1,770.8 1404.2,771.8 1429.2,772.9" fill="none" stroke="#9a70c4" stroke-width="1.7" stroke-linejoin="round" />
<rect x="1150" y="726.4" width="6.6" height="6.6" fill="#9a70c4" stroke="none" stroke-width="1" />
<rect x="1175.1" y="729.5" width="6.6" height="6.6" fill="#9a70c4" stroke="none" stroke-width="1" />
<rect x="1200.2" y="730" width="6.6" height="6.6" fill="#9a70c4" stroke="none" stroke-width="1" />
<rect x="1225.3" y="756.2" width="6.6" height="6.6" fill="#9a70c4" stroke="none" stroke-width="1" />
<rect x="1250.4" y="757.7" width="6.6" height="6.6" fill="#9a70c4" stroke="none" stroke-width="1" />
<rect x="1275.4" y="754.1" width="6.6" height="6.6" fill="#9a70c4" stroke="none" stroke-width="1" />
<rect x="1300.5" y="664.8" width="6.6" height="6.6" fill="#9a70c4" stroke="none" stroke-width="1" />
<rect x="1325.6" y="682.2" width="6.6" height="6.6" fill="#9a70c4" stroke="none" stroke-width="1" />
<rect x="1350.7" y="691" width="6.6" height="6.6" fill="#9a70c4" stroke="none" stroke-width="1" />
<rect x="1375.8" y="767.5" width="6.6" height="6.6" fill="#9a70c4" stroke="none" stroke-width="1" />
<rect x="1400.9" y="768.5" width="6.6" height="6.6" fill="#9a70c4" stroke="none" stroke-width="1" />
<rect x="1425.9" y="769.6" width="6.6" height="6.6" fill="#9a70c4" stroke="none" stroke-width="1" />
<path d="M1153.3 736.9L1153.3 747.2M1149.8 736.9L1156.8 736.9M1149.8 747.2L1156.8 747.2M1178.4 739L1178.4 749.2M1174.9 739L1181.9 739M1174.9 749.2L1181.9 749.2M1203.5 739.5L1203.5 749.7M1200 739.5L1207 739.5M1200 749.7L1207 749.7M1228.6 763.1L1228.6 767.2M1225.1 763.1L1232.1 763.1M1225.1 767.2L1232.1 767.2M1253.7 764.6L1253.7 768.7M1250.2 764.6L1257.2 764.6M1250.2 768.7L1257.2 768.7M1278.7 762.6L1278.7 766.7M1275.2 762.6L1282.2 762.6M1275.2 766.7L1282.2 766.7M1303.8 668.6L1303.8 697.3M1300.3 668.6L1307.3 668.6M1300.3 697.3L1307.3 697.3M1328.9 684L1328.9 710.7M1325.4 684L1332.4 684M1325.4 710.7L1332.4 710.7M1354 693.7L1354 716.3M1350.5 693.7L1357.5 693.7M1350.5 716.3L1357.5 716.3M1379.1 771.3L1379.1 774.4M1375.6 771.3L1382.6 771.3M1375.6 774.4L1382.6 774.4M1404.2 772.3L1404.2 775.4M1400.7 772.3L1407.7 772.3M1400.7 775.4L1407.7 775.4M1429.2 773.4L1429.2 776.5M1425.7 773.4L1432.7 773.4M1425.7 776.5L1432.7 776.5" stroke-width="1.4" stroke="#1f9dd5" />
<polyline points="1153.3,742 1178.4,744.1 1203.5,744.6 1228.6,765.2 1253.7,766.7 1278.7,764.6 1303.8,683 1328.9,697.3 1354,705 1379.1,772.9 1404.2,773.9 1429.2,774.9" fill="none" stroke="#1f9dd5" stroke-width="1.7" stroke-linejoin="round" />
<circle cx="1153.3" cy="742" r="3.5" fill="#1f9dd5" stroke="none" stroke-width="1" />
<circle cx="1178.4" cy="744.1" r="3.5" fill="#1f9dd5" stroke="none" stroke-width="1" />
<circle cx="1203.5" cy="744.6" r="3.5" fill="#1f9dd5" stroke="none" stroke-width="1" />
<circle cx="1228.6" cy="765.2" r="3.5" fill="#1f9dd5" stroke="none" stroke-width="1" />
<circle cx="1253.7" cy="766.7" r="3.5" fill="#1f9dd5" stroke="none" stroke-width="1" />
<circle cx="1278.7" cy="764.6" r="3.5" fill="#1f9dd5" stroke="none" stroke-width="1" />
<circle cx="1303.8" cy="683" r="3.5" fill="#1f9dd5" stroke="none" stroke-width="1" />
<circle cx="1328.9" cy="697.3" r="3.5" fill="#1f9dd5" stroke="none" stroke-width="1" />
<circle cx="1354" cy="705" r="3.5" fill="#1f9dd5" stroke="none" stroke-width="1" />
<circle cx="1379.1" cy="772.9" r="3.5" fill="#1f9dd5" stroke="none" stroke-width="1" />
<circle cx="1404.2" cy="773.9" r="3.5" fill="#1f9dd5" stroke="none" stroke-width="1" />
<circle cx="1429.2" cy="774.9" r="3.5" fill="#1f9dd5" stroke="none" stroke-width="1" />
<path d="M1148.3 583L1148.3 790.1M1140.3 789.3L1148.3 789.3" stroke-width="1.9" />
<text x="1138.8" y="795.7" font-size="18" text-anchor="end" font-weight="bold" >0</text>
<path d="M1140.3 737.9L1148.3 737.9" stroke-width="1.9" />
<text x="1138.8" y="744.4" font-size="18" text-anchor="end" font-weight="bold" >10</text>
<path d="M1140.3 686.5L1148.3 686.5" stroke-width="1.9" />
<text x="1138.8" y="693" font-size="18" text-anchor="end" font-weight="bold" >20</text>
<path d="M1140.3 635.2L1148.3 635.2" stroke-width="1.9" />
<text x="1138.8" y="641.6" font-size="18" text-anchor="end" font-weight="bold" >30</text>
<path d="M1140.3 583.8L1148.3 583.8" stroke-width="1.9" />
<text x="1138.8" y="590.2" font-size="18" text-anchor="end" font-weight="bold" >40</text>
<path d="M1147.4 789.3L1457.9 789.3M1148.3 789.3L1148.3 797.3" stroke-width="1.9" />
<text x="1148.3" y="817.3" font-size="18" text-anchor="middle" font-weight="bold" >0</text>
<path d="M1225.5 789.3L1225.5 797.3" stroke-width="1.9" />
<text x="1225.5" y="817.3" font-size="18" text-anchor="middle" font-weight="bold" >20</text>
<path d="M1302.7 789.3L1302.7 797.3" stroke-width="1.9" />
<text x="1302.7" y="817.3" font-size="18" text-anchor="middle" font-weight="bold" >40</text>
<path d="M1379.8 789.3L1379.8 797.3" stroke-width="1.9" />
<text x="1379.8" y="817.3" font-size="18" text-anchor="middle" font-weight="bold" >60</text>
<path d="M1457 789.3L1457 797.3" stroke-width="1.9" />
<text x="1457" y="817.3" font-size="18" text-anchor="middle" font-weight="bold" >80</text>
<text x="1303.2" y="842.3" font-size="18" text-anchor="middle" font-weight="bold" >Time (min)</text>
<text x="1102" y="684.5" font-size="18" text-anchor="middle" font-weight="bold" transform="rotate(-90 1102 684.5)" >OCR (pmol/min/1000 cells)</text>
<text x="1149.1" y="781.8" font-size="17" font-weight="bold" fill="#7f7f7f" >Basal</text>
<text x="1221.6" y="781.8" font-size="17" font-weight="bold" fill="#7f7f7f" >Leak</text>
<text x="1300.7" y="781.8" font-size="17" font-weight="bold" fill="#7f7f7f" >Max</text>
<text x="1199.8" y="583.8" font-size="17" font-weight="bold" fill="#7f7f7f" transform="rotate(-45 1199.8 583.8)" >Oligo</text>
<text x="1277" y="583.8" font-size="17" font-weight="bold" fill="#7f7f7f" transform="rotate(-45 1277 583.8)" >FCCP</text>
<text x="1350.3" y="583.8" font-size="17" font-weight="bold" fill="#7f7f7f" transform="rotate(-45 1350.3 583.8)" >Rot/AA</text>
<path d="M1366.4 676.8L1388.4 676.8" stroke-width="1.7" stroke="#f5831f" />
<polygon points="1377.4,680.9 1381.4,673.7 1373.4,673.7" fill="#f5831f" stroke="none" stroke-width="1" />
<text x="1401.4" y="682.8" font-size="17.8" font-weight="bold" >1000 nM C22:0+MET+mdivi-1</text>
<path d="M1366.4 648.3L1388.4 648.3" stroke-width="1.7" stroke="#1e8162" />
<polygon points="1377.4,644.2 1381.4,651.4 1373.4,651.4" fill="#1e8162" stroke="none" stroke-width="1" />
<text x="1401.4" y="654.3" font-size="17.8" font-weight="bold" >1000 nM C22:0+mdivi-1</text>
<path d="M1366.4 620.9L1388.4 620.9" stroke-width="1.7" stroke="#9a70c4" />
<rect x="1373.8" y="617.3" width="7.2" height="7.2" fill="#9a70c4" stroke="none" stroke-width="1" />
<text x="1401.4" y="626.9" font-size="17.8" font-weight="bold" >Vehicle+MET+mdivi-1</text>
<path d="M1366.4 592.8L1388.4 592.8" stroke-width="1.7" stroke="#1f9dd5" />
<circle cx="1377.4" cy="592.8" r="3.6" fill="#1f9dd5" stroke="none" stroke-width="1" />
<text x="1401.4" y="598.8" font-size="17.8" font-weight="bold" >Vehicle+mdivi-1</text>
<text x="32.5" y="902.5" font-size="31" font-weight="bold" >E</text>
<rect x="114.1" y="927.1" width="25.6" height="196.4" fill="#0b4a90" stroke="#000" stroke-width="1.9" />
<rect x="155" y="954.4" width="25.4" height="169.1" fill="#46c4e9" stroke="#000" stroke-width="1.9" />
<rect x="195.4" y="929.5" width="25.4" height="194" fill="#fc5b5b" stroke="#000" stroke-width="1.9" />
<rect x="235.9" y="965" width="25.4" height="158.5" fill="#fdc163" stroke="#000" stroke-width="1.9" />
<path d="M126.5 937L126.5 917.1M120.5 937L132.5 937M120.5 917.1L132.5 917.1M166.9 961.9L166.9 946.3M160.9 961.9L172.9 961.9M160.9 946.3L172.9 946.3M207.8 939.5L207.8 917.1M201.8 939.5L213.8 939.5M201.8 917.1L213.8 917.1M248.2 980.5L248.2 947M242.2 980.5L254.2 980.5M242.2 947L254.2 947" stroke-width="2.1" />
<circle cx="117.5" cy="919.6" r="3.3" fill="#fff" stroke="#000" stroke-width="1.6" />
<circle cx="123.5" cy="919" r="3.3" fill="#fff" stroke="#000" stroke-width="1.6" />
<circle cx="130.5" cy="919.6" r="3.3" fill="#fff" stroke="#000" stroke-width="1.6" />
<circle cx="136.5" cy="919.6" r="3.3" fill="#fff" stroke="#000" stroke-width="1.6" />
<circle cx="126.5" cy="927.7" r="3.3" fill="#fff" stroke="#000" stroke-width="1.6" />
<circle cx="126.5" cy="945.1" r="3.3" fill="#fff" stroke="#000" stroke-width="1.6" />
<rect x="157.7" y="942.5" width="6.4" height="6.4" fill="#fff" stroke="#000" stroke-width="1.8" />
<rect x="170.7" y="942.5" width="6.4" height="6.4" fill="#fff" stroke="#000" stroke-width="1.8" />
<rect x="157.7" y="953.1" width="6.4" height="6.4" fill="#fff" stroke="#000" stroke-width="1.8" />
<rect x="170.7" y="953.1" width="6.4" height="6.4" fill="#fff" stroke="#000" stroke-width="1.8" />
<rect x="163.7" y="958" width="6.4" height="6.4" fill="#fff" stroke="#000" stroke-width="1.8" />
<rect x="163.7" y="963.6" width="6.4" height="6.4" fill="#fff" stroke="#000" stroke-width="1.8" />
<polygon points="207.8,908.2 211.5,915 204.1,915" fill="#fff" stroke="#000" stroke-width="1.6" />
<polygon points="197.8,921.9 201.5,928.7 194.1,928.7" fill="#fff" stroke="#000" stroke-width="1.6" />
<polygon points="217.8,926.9 221.5,933.7 214.1,933.7" fill="#fff" stroke="#000" stroke-width="1.6" />
<polygon points="204.8,929.4 208.5,936.2 201.1,936.2" fill="#fff" stroke="#000" stroke-width="1.6" />
<polygon points="210.8,934.3 214.5,941.1 207.1,941.1" fill="#fff" stroke="#000" stroke-width="1.6" />
<polygon points="207.8,939.3 211.5,946.1 204.1,946.1" fill="#fff" stroke="#000" stroke-width="1.6" />
<polygon points="248.2,950.9 251.9,944.1 244.5,944.1" fill="#fff" stroke="#000" stroke-width="1.6" />
<polygon points="241.2,960.8 244.9,954 237.5,954" fill="#fff" stroke="#000" stroke-width="1.6" />
<polygon points="255.2,960.2 258.9,953.4 251.5,953.4" fill="#fff" stroke="#000" stroke-width="1.6" />
<polygon points="241.2,985.7 244.9,978.9 237.5,978.9" fill="#fff" stroke="#000" stroke-width="1.6" />
<polygon points="255.2,985.7 258.9,978.9 251.5,978.9" fill="#fff" stroke="#000" stroke-width="1.6" />
<polygon points="248.2,968.3 251.9,961.5 244.5,961.5" fill="#fff" stroke="#000" stroke-width="1.6" />
<path d="M100.4 898.1L100.4 1124.3M92.4 1123.5L100.4 1123.5" stroke-width="1.9" />
<text x="90.9" y="1129.9" font-size="18" text-anchor="end" font-weight="bold" >0</text>
<path d="M92.4 1061.3L100.4 1061.3" stroke-width="1.9" />
<text x="90.9" y="1067.8" font-size="18" text-anchor="end" font-weight="bold" >500</text>
<path d="M92.4 999.2L100.4 999.2" stroke-width="1.9" />
<text x="90.9" y="1005.6" font-size="18" text-anchor="end" font-weight="bold" >1000</text>
<path d="M92.4 937L100.4 937" stroke-width="1.9" />
<text x="90.9" y="943.4" font-size="18" text-anchor="end" font-weight="bold" >1500</text>
<path d="M91 1123.5L276.3 1123.5" stroke-width="2.1" />
<path d="M126.5 1123.5L126.5 1132.5M166.9 1123.5L166.9 1132.5M207.8 1123.5L207.8 1132.5M248.2 1123.5L248.2 1132.5" stroke-width="1.9" />
<text x="16.5" y="1011" font-size="18" text-anchor="middle" font-weight="bold" transform="rotate(-90 16.5 1011)" >AUC for glucose</text>
<text x="40" y="1011" font-size="18" text-anchor="middle" font-weight="bold" transform="rotate(-90 40 1011)" >(mmol*120 min/L)</text>
<path d="M137 843.5L215 843.5" stroke-width="1.9" />
<text x="176" y="834" font-size="16" text-anchor="middle" font-weight="bold" >ns</text>
<path d="M172 875.5L251.5 875.5" stroke-width="1.9" />
<text x="211" y="866.5" font-size="16" text-anchor="middle" font-weight="bold" >ns</text>
<path d="M128 907.5L167.5 907.5" stroke-width="1.9" />
<text x="148" y="896.5" font-size="15" text-anchor="middle" font-weight="bold" font-style="italic" ><tspan font-weight="normal">P</tspan> = 0.0020</text>
<path d="M210 906L251 906" stroke-width="1.9" />
<text x="230.5" y="895" font-size="15" text-anchor="middle" font-weight="bold" font-style="italic" >P = 0.0025</text>
<text x="131.5" y="1148" font-size="16.5" text-anchor="end" font-weight="bold" transform="rotate(-45 131.5 1148)" ><tspan font-style="italic">P. vulgatus</tspan>+VB12</text>
<text x="171.9" y="1148" font-size="16.5" text-anchor="end" font-weight="bold" transform="rotate(-45 171.9 1148)" ><tspan font-style="italic">P. vulgatus</tspan>+MET+VB12</text>
<text x="212.8" y="1148" font-size="16.5" text-anchor="end" font-weight="bold" transform="rotate(-45 212.8 1148)" >HK-<tspan font-style="italic">P. vulgatus</tspan>+VB12</text>
<text x="253.2" y="1148" font-size="16.5" text-anchor="end" font-weight="bold" transform="rotate(-45 253.2 1148)" >HK-<tspan font-style="italic">P. vulgatus</tspan>+MET+VB12</text>
<text x="345" y="901.5" font-size="32" font-weight="bold" >F</text>
<rect x="447.6" y="987.4" width="20.2" height="136.7" fill="#c1c1c1" stroke="#000" stroke-width="1.9" />
<rect x="479.7" y="1056.3" width="21" height="67.8" fill="#0b4a90" stroke="#000" stroke-width="1.9" />
<rect x="513.3" y="1052" width="20.4" height="72.1" fill="#46c4e9" stroke="#000" stroke-width="1.9" />
<rect x="546.3" y="1042.3" width="20.2" height="81.8" fill="#fc5b5b" stroke="#000" stroke-width="1.9" />
<rect x="579.5" y="1058" width="20.4" height="66.1" fill="#fdc163" stroke="#000" stroke-width="1.9" />
<path d="M457.7 1002.9L457.7 970M452.7 1002.9L462.7 1002.9M452.7 970L462.7 970" stroke-width="2.1" />
<path d="M490.2 1055.3L490.2 1047.8M485.2 1055.3L495.2 1055.3M485.2 1047.8L495.2 1047.8M523.5 1053.8L523.5 1043.3M518.5 1053.8L528.5 1053.8M518.5 1043.3L528.5 1043.3M556.4 1046.3L556.4 1034.3M551.4 1046.3L561.4 1046.3M551.4 1034.3L561.4 1034.3M589.7 1061.3L589.7 1050.8M584.7 1061.3L594.7 1061.3M584.7 1050.8L594.7 1050.8" stroke-width="1.9" />
<polygon points="450.7,970.9 454.3,974.5 450.7,978.1 447.1,974.5" fill="#fff" stroke="#000" stroke-width="1.5" />
<polygon points="465.7,970.9 469.3,974.5 465.7,978.1 462.1,974.5" fill="#fff" stroke="#000" stroke-width="1.5" />
<polygon points="457.7,982.8 461.3,986.5 457.7,990.1 454.1,986.5" fill="#fff" stroke="#000" stroke-width="1.5" />
<polygon points="457.7,1006.8 461.3,1010.4 457.7,1014 454.1,1010.4" fill="#fff" stroke="#000" stroke-width="1.5" />
<rect x="480.1" y="1041.7" width="6.2" height="6.2" fill="#fff" stroke="#000" stroke-width="1.7" />
<rect x="480.1" y="1052.9" width="6.2" height="6.2" fill="#fff" stroke="#000" stroke-width="1.7" />
<rect x="488.1" y="1049.2" width="6.2" height="6.2" fill="#fff" stroke="#000" stroke-width="1.7" />
<rect x="495.1" y="1049.2" width="6.2" height="6.2" fill="#fff" stroke="#000" stroke-width="1.7" />
<rect x="490.1" y="1052.9" width="6.2" height="6.2" fill="#fff" stroke="#000" stroke-width="1.7" />
<polygon points="516.5,1043.3 520.1,1049.9 512.9,1049.9" fill="#fff" stroke="#000" stroke-width="1.5" />
<polygon points="523.5,1043.3 527.1,1049.9 519.9,1049.9" fill="#fff" stroke="#000" stroke-width="1.5" />
<polygon points="531.5,1039.5 535.1,1046.1 527.9,1046.1" fill="#fff" stroke="#000" stroke-width="1.5" />
<polygon points="516.5,1053.7 520.1,1060.3 512.9,1060.3" fill="#fff" stroke="#000" stroke-width="1.5" />
<polygon points="524.5,1047 528.1,1053.6 520.9,1053.6" fill="#fff" stroke="#000" stroke-width="1.5" />
<polygon points="532.5,1047.7 536.1,1054.3 528.9,1054.3" fill="#fff" stroke="#000" stroke-width="1.5" />
<polygon points="549.4,1032.8 553,1039.4 545.8,1039.4" fill="#fff" stroke="#000" stroke-width="1.5" />
<polygon points="556.4,1032 560,1038.6 552.8,1038.6" fill="#fff" stroke="#000" stroke-width="1.5" />
<polygon points="563.4,1032.8 567,1039.4 559.8,1039.4" fill="#fff" stroke="#000" stroke-width="1.5" />
<polygon points="566.4,1037.3 570,1043.9 562.8,1043.9" fill="#fff" stroke="#000" stroke-width="1.5" />
<polygon points="556.4,1039.5 560,1046.1 552.8,1046.1" fill="#fff" stroke="#000" stroke-width="1.5" />
<polygon points="556.4,1044.8 560,1051.4 552.8,1051.4" fill="#fff" stroke="#000" stroke-width="1.5" />
<polygon points="582.7,1051.6 586.3,1045 579.1,1045" fill="#fff" stroke="#000" stroke-width="1.5" />
<polygon points="590.7,1056.1 594.3,1049.5 587.1,1049.5" fill="#fff" stroke="#000" stroke-width="1.5" />
<polygon points="598.7,1055.3 602.3,1048.7 595.1,1048.7" fill="#fff" stroke="#000" stroke-width="1.5" />
<polygon points="582.7,1062.1 586.3,1055.5 579.1,1055.5" fill="#fff" stroke="#000" stroke-width="1.5" />
<polygon points="590.7,1062.8 594.3,1056.2 587.1,1056.2" fill="#fff" stroke="#000" stroke-width="1.5" />
<polygon points="597.7,1061.3 601.3,1054.7 594.1,1054.7" fill="#fff" stroke="#000" stroke-width="1.5" />
<polygon points="584.7,1067.3 588.3,1060.7 581.1,1060.7" fill="#fff" stroke="#000" stroke-width="1.5" />
<path d="M435.9 898.9L435.9 1124.9M427.9 1124.1L435.9 1124.1" stroke-width="1.9" />
<text x="426.4" y="1130.5" font-size="18" text-anchor="end" font-weight="bold" >0</text>
<path d="M427.9 1049.3L435.9 1049.3" stroke-width="1.9" />
<text x="426.4" y="1055.7" font-size="18" text-anchor="end" font-weight="bold" >50</text>
<path d="M427.9 974.5L435.9 974.5" stroke-width="1.9" />
<text x="426.4" y="980.9" font-size="18" text-anchor="end" font-weight="bold" >100</text>
<path d="M427.9 899.7L435.9 899.7" stroke-width="1.9" />
<text x="426.4" y="906.1" font-size="18" text-anchor="end" font-weight="bold" >150</text>
<path d="M426.5 1124.1L612.5 1124.1" stroke-width="2.1" />
<path d="M457.7 1124.1L457.7 1133.1M490.2 1124.1L490.2 1133.1M523.5 1124.1L523.5 1133.1M556.4 1124.1L556.4 1133.1M589.7 1124.1L589.7 1133.1" stroke-width="1.9" />
<text x="361.5" y="1001.5" font-size="18" text-anchor="middle" font-weight="bold" transform="rotate(-90 361.5 1001.5)" >Relative JC-10</text>
<text x="383.5" y="1003.5" font-size="18" text-anchor="middle" font-weight="bold" transform="rotate(-90 383.5 1003.5)" >monomers/aggregates%</text>
<path d="M487.5 992.3L555.5 992.3" stroke-width="1.9" />
<text x="521" y="982.5" font-size="15.5" text-anchor="middle" font-weight="bold" font-style="italic" >P = 0.003</text>
<path d="M520.5 1024.5L592 1024.5" stroke-width="1.9" />
<text x="556" y="1014" font-size="16" text-anchor="middle" font-weight="bold" >ns</text>
<text x="462.7" y="1148" font-size="16.5" text-anchor="end" font-weight="bold" transform="rotate(-45 462.7 1148)" >CCCP</text>
<text x="495.2" y="1148" font-size="16.5" text-anchor="end" font-weight="bold" transform="rotate(-45 495.2 1148)" ><tspan font-style="italic">P. vulgatus</tspan>+VB12</text>
<text x="528.5" y="1148" font-size="16.5" text-anchor="end" font-weight="bold" transform="rotate(-45 528.5 1148)" ><tspan font-style="italic">P. vulgatus</tspan>+MET+VB12</text>
<text x="561.4" y="1148" font-size="16.5" text-anchor="end" font-weight="bold" transform="rotate(-45 561.4 1148)" >HK-<tspan font-style="italic">P. vulgatus</tspan>+VB12</text>
<text x="594.7" y="1148" font-size="16.5" text-anchor="end" font-weight="bold" transform="rotate(-45 594.7 1148)" >HK-<tspan font-style="italic">P. vulgatus</tspan>+MET+VB12</text>
<text x="657" y="901" font-size="32" font-weight="bold" >G</text>
<path d="M755.1 902.2L755.1 1048M755.1 1067L755.1 1127.6M749.6 1044.5L760.6 1054M749.6 1061.5L760.6 1071M746.1 1126.8L755.1 1126.8" stroke-width="2.1" />
<text x="744.1" y="1132.6" font-size="16.2" text-anchor="end" font-weight="bold" >0</text>
<path d="M746.1 1095.7L755.1 1095.7" stroke-width="2.1" />
<text x="744.1" y="1101.5" font-size="16.2" text-anchor="end" font-weight="bold" >400</text>
<path d="M746.1 1064.6L755.1 1064.6" stroke-width="2.1" />
<text x="744.1" y="1070.4" font-size="16.2" text-anchor="end" font-weight="bold" >800</text>
<path d="M746.1 1039L755.1 1039" stroke-width="2.1" />
<text x="744.1" y="1044.8" font-size="16.2" text-anchor="end" font-weight="bold" >1000</text>
<path d="M746.1 993.7L755.1 993.7" stroke-width="2.1" />
<text x="744.1" y="999.5" font-size="16.2" text-anchor="end" font-weight="bold" >1500</text>
<path d="M746.1 948.3L755.1 948.3" stroke-width="2.1" />
<text x="744.1" y="954.1" font-size="16.2" text-anchor="end" font-weight="bold" >2000</text>
<path d="M746.1 903L755.1 903" stroke-width="2.1" />
<text x="744.1" y="908.8" font-size="16.2" text-anchor="end" font-weight="bold" >2500</text>
<path d="M745.4 1126.8L1020.4 1126.8" stroke-width="2.1" />
<path d="M816.9 1126.8L816.9 1135.8M955.8 1126.8L955.8 1135.8" stroke-width="1.9" />
<text x="816.9" y="1154" font-size="16.5" text-anchor="middle" font-weight="bold" >PV</text>
<text x="955.8" y="1154" font-size="16.5" text-anchor="middle" font-weight="bold" >PV+MET</text>
<text x="675" y="1015" font-size="17.5" text-anchor="middle" font-weight="bold" transform="rotate(-90 675 1015)" >AUC for glucose</text>
<text x="697.5" y="1015" font-size="17.5" text-anchor="middle" font-weight="bold" transform="rotate(-90 697.5 1015)" >(mmol*120 min/L)</text>
<polyline points="783.1,980 817.7,1016 855.7,981" fill="none" stroke="#000" stroke-width="1.6" stroke-linejoin="round" />
<polyline points="921.2,976 956.1,1032 993.7,986" fill="none" stroke="#000" stroke-width="1.6" stroke-linejoin="round" />
<path d="M780.1 950.6L780.1 963.8M780.1 986.6L780.1 1001.8M776.1 950.6L784.1 950.6M776.1 1001.8L784.1 1001.8" stroke-width="1.9" />
<rect x="768.5" y="963.8" width="23.3" height="22.8" fill="#9fb6cc" stroke="#000" stroke-width="1.9" />
<path d="M768.5 978.5L791.8 978.5" stroke-width="2" />
<circle cx="780.1" cy="950.6" r="2.4" fill="#fff" stroke="#000" stroke-width="1.4" />
<circle cx="780.1" cy="1001.8" r="2.4" fill="#fff" stroke="#000" stroke-width="1.4" />
<circle cx="775.6" cy="976.2" r="2.4" fill="#fff" stroke="#000" stroke-width="1.4" />
<circle cx="777.9" cy="977.6" r="2.4" fill="#fff" stroke="#000" stroke-width="1.4" />
<circle cx="782.3" cy="965.3" r="2.4" fill="#fff" stroke="#000" stroke-width="1.4" />
<circle cx="771.7" cy="982.9" r="2.4" fill="#fff" stroke="#000" stroke-width="1.4" />
<path d="M817.7 1006.5L817.7 1008.9M817.7 1019L817.7 1021.5M813.7 1006.5L821.7 1006.5M813.7 1021.5L821.7 1021.5" stroke-width="1.9" />
<rect x="806.2" y="1008.9" width="23" height="10.1" fill="#f1794f" stroke="#000" stroke-width="1.9" />
<path d="M806.2 1013.5L829.2 1013.5" stroke-width="2" />
<circle cx="817.7" cy="1006.5" r="2.4" fill="#fff" stroke="#000" stroke-width="1.4" />
<circle cx="817.7" cy="1021.5" r="2.4" fill="#fff" stroke="#000" stroke-width="1.4" />
<circle cx="813.6" cy="1011.3" r="2.4" fill="#fff" stroke="#000" stroke-width="1.4" />
<circle cx="826.1" cy="1013.6" r="2.4" fill="#fff" stroke="#000" stroke-width="1.4" />
<circle cx="823.4" cy="1013.7" r="2.4" fill="#fff" stroke="#000" stroke-width="1.4" />
<circle cx="820.1" cy="1010.4" r="2.4" fill="#fff" stroke="#000" stroke-width="1.4" />
<path d="M855.7 970.6L855.7 974.4M855.7 984.6L855.7 988M851.7 970.6L859.7 970.6M851.7 988L859.7 988" stroke-width="1.9" />
<rect x="843.7" y="974.4" width="24" height="10.2" fill="#e061a9" stroke="#000" stroke-width="1.9" />
<path d="M843.7 979L867.7 979" stroke-width="2" />
<circle cx="855.7" cy="970.6" r="2.4" fill="#fff" stroke="#000" stroke-width="1.4" />
<circle cx="855.7" cy="988" r="2.4" fill="#fff" stroke="#000" stroke-width="1.4" />
<circle cx="858.1" cy="983.3" r="2.4" fill="#fff" stroke="#000" stroke-width="1.4" />
<circle cx="856.1" cy="982" r="2.4" fill="#fff" stroke="#000" stroke-width="1.4" />
<circle cx="858.8" cy="975.1" r="2.4" fill="#fff" stroke="#000" stroke-width="1.4" />
<circle cx="860.3" cy="980.4" r="2.4" fill="#fff" stroke="#000" stroke-width="1.4" />
<path d="M918.2 966.5L918.2 970.1M918.2 978.2L918.2 984M914.2 966.5L922.2 966.5M914.2 984L922.2 984" stroke-width="1.9" />
<rect x="906.2" y="970.1" width="24.1" height="8.1" fill="#9fb6cc" stroke="#000" stroke-width="1.9" />
<path d="M906.2 974L930.3 974" stroke-width="2" />
<circle cx="918.2" cy="966.5" r="2.4" fill="#fff" stroke="#000" stroke-width="1.4" />
<circle cx="918.2" cy="984" r="2.4" fill="#fff" stroke="#000" stroke-width="1.4" />
<circle cx="914.7" cy="970.4" r="2.4" fill="#fff" stroke="#000" stroke-width="1.4" />
<circle cx="924.9" cy="973.9" r="2.4" fill="#fff" stroke="#000" stroke-width="1.4" />
<circle cx="922.2" cy="977.2" r="2.4" fill="#fff" stroke="#000" stroke-width="1.4" />
<circle cx="922.1" cy="977.6" r="2.4" fill="#fff" stroke="#000" stroke-width="1.4" />
<path d="M956.1 1017L956.1 1023.3M956.1 1036.5L956.1 1042.8M952.1 1017L960.1 1017M952.1 1042.8L960.1 1042.8" stroke-width="1.9" />
<rect x="944.2" y="1023.3" width="23.8" height="13.2" fill="#f1794f" stroke="#000" stroke-width="1.9" />
<path d="M944.2 1030L968 1030" stroke-width="2" />
<circle cx="956.1" cy="1017" r="2.4" fill="#fff" stroke="#000" stroke-width="1.4" />
<circle cx="956.1" cy="1042.8" r="2.4" fill="#fff" stroke="#000" stroke-width="1.4" />
<circle cx="954.2" cy="1033.9" r="2.4" fill="#fff" stroke="#000" stroke-width="1.4" />
<circle cx="955.1" cy="1035.6" r="2.4" fill="#fff" stroke="#000" stroke-width="1.4" />
<circle cx="962.8" cy="1024.6" r="2.4" fill="#fff" stroke="#000" stroke-width="1.4" />
<circle cx="949.6" cy="1026.2" r="2.4" fill="#fff" stroke="#000" stroke-width="1.4" />
<path d="M993.7 971.4L993.7 979M993.7 989L993.7 991M989.7 971.4L997.7 971.4M989.7 991L997.7 991" stroke-width="1.9" />
<rect x="981.6" y="979" width="24.1" height="10" fill="#e061a9" stroke="#000" stroke-width="1.9" />
<path d="M981.6 985L1005.7 985" stroke-width="2" />
<circle cx="993.7" cy="971.4" r="2.4" fill="#fff" stroke="#000" stroke-width="1.4" />
<circle cx="993.7" cy="991" r="2.4" fill="#fff" stroke="#000" stroke-width="1.4" />
<circle cx="1002.1" cy="983.4" r="2.4" fill="#fff" stroke="#000" stroke-width="1.4" />
<circle cx="995.9" cy="982" r="2.4" fill="#fff" stroke="#000" stroke-width="1.4" />
<circle cx="993.8" cy="982.9" r="2.4" fill="#fff" stroke="#000" stroke-width="1.4" />
<circle cx="991" cy="984.9" r="2.4" fill="#fff" stroke="#000" stroke-width="1.4" />
<path d="M781.5 922L821.5 922" stroke-width="1.9" />
<text x="801.5" y="913" font-size="11.7" text-anchor="middle" font-weight="bold" font-style="italic" >P &lt; 0.0001</text>
<path d="M861.5 907.5L993.5 907.5" stroke-width="1.9" />
<text x="927" y="897.5" font-size="15" text-anchor="middle" font-weight="bold" >ns</text>
<path d="M821.5 935L952.5 935" stroke-width="1.9" />
<text x="887" y="926" font-size="11.7" text-anchor="middle" font-weight="bold" font-style="italic" >P = 0.015</text>
<path d="M824 966.5L855 966.5" stroke-width="1.9" />
<text x="839.5" y="957.5" font-size="11.7" text-anchor="middle" font-weight="bold" font-style="italic" >P &lt; 0.0001</text>
<path d="M920 957.5L952 957.5" stroke-width="1.9" />
<text x="935.5" y="948" font-size="11.7" text-anchor="middle" font-weight="bold" font-style="italic" >P &lt; 0.0001</text>
<path d="M963 971.5L1000 971.5" stroke-width="1.9" />
<text x="978.5" y="962.5" font-size="11.7" text-anchor="middle" font-weight="bold" font-style="italic" >P &lt; 0.0001</text>
<rect x="761.4" y="1173.5" width="22.3" height="10" fill="#9fb6cc" stroke="#000" stroke-width="1.8" />
<text x="798" y="1184.8" font-size="18" font-weight="bold" >Baseline</text>
<rect x="761.4" y="1198.3" width="22.3" height="10" fill="#f1794f" stroke="#000" stroke-width="1.8" />
<text x="798" y="1209.6" font-size="18" font-weight="bold" >Mdivi-1 treatment</text>
<rect x="761.4" y="1225.9" width="22.3" height="10" fill="#e061a9" stroke="#000" stroke-width="1.8" />
<text x="798" y="1237.2" font-size="18" font-weight="bold" >Mdivi-1 withdrawal</text>
<text x="1050" y="902" font-size="32" font-weight="bold" >H</text>
<path d="M1143.4 907L1143.4 1129.2M1135.4 1128.4L1143.4 1128.4" stroke-width="1.9" />
<text x="1133.9" y="1134.8" font-size="17.8" text-anchor="end" font-weight="bold" >0.0</text>
<path d="M1135.4 1084.3L1143.4 1084.3" stroke-width="1.9" />
<text x="1133.9" y="1090.7" font-size="17.8" text-anchor="end" font-weight="bold" >0.5</text>
<path d="M1135.4 1040.2L1143.4 1040.2" stroke-width="1.9" />
<text x="1133.9" y="1046.5" font-size="17.8" text-anchor="end" font-weight="bold" >1.0</text>
<path d="M1135.4 996L1143.4 996" stroke-width="1.9" />
<text x="1133.9" y="1002.4" font-size="17.8" text-anchor="end" font-weight="bold" >1.5</text>
<path d="M1135.4 951.9L1143.4 951.9" stroke-width="1.9" />
<text x="1133.9" y="958.3" font-size="17.8" text-anchor="end" font-weight="bold" >2.0</text>
<path d="M1135.4 907.8L1143.4 907.8" stroke-width="1.9" />
<text x="1133.9" y="914.2" font-size="17.8" text-anchor="end" font-weight="bold" >2.5</text>
<path d="M1133.3 1128.4L1585.9 1128.4" stroke-width="2.1" />
<path d="M1183.7 1128.4L1183.7 1137.4" stroke-width="1.9" />
<text x="1183.7" y="1157.5" font-size="17" text-anchor="middle" font-weight="bold" font-style="italic" >Mff</text>
<path d="M1159.2 1029.6L1159.2 1034M1159.2 1045.5L1159.2 1053.4M1154.5 1029.6L1163.9 1029.6M1154.5 1053.4L1163.9 1053.4" stroke-width="2" />
<rect x="1151.4" y="1034" width="15.7" height="11.5" fill="#fff" stroke="#000" stroke-width="1.9" />
<path d="M1151.4 1040.2L1167 1040.2" stroke-width="2" />
<circle cx="1159.2" cy="1029.6" r="3.1" fill="#2f6a95" stroke="none" stroke-width="1" />
<circle cx="1159.2" cy="1053.4" r="3.1" fill="#2f6a95" stroke="none" stroke-width="1" />
<circle cx="1158.8" cy="1040.2" r="3.1" fill="#2f6a95" stroke="none" stroke-width="1" />
<circle cx="1156.8" cy="1045.5" r="3.1" fill="#2f6a95" stroke="none" stroke-width="1" />
<circle cx="1161.6" cy="1034" r="3.1" fill="#2f6a95" stroke="none" stroke-width="1" />
<path d="M1183.7 997.8L1183.7 1016.3M1183.7 1040.2L1183.7 1040.2M1179 997.8L1188.4 997.8M1179 1040.2L1188.4 1040.2" stroke-width="2" />
<rect x="1175.9" y="1016.3" width="15.7" height="23.8" fill="#fff" stroke="#000" stroke-width="1.9" />
<path d="M1175.9 1036.6L1191.5 1036.6" stroke-width="2" />
<rect x="1180.6" y="994.7" width="6.2" height="6.2" fill="#a9c0d5" stroke="none" stroke-width="1" />
<rect x="1180.6" y="1037.1" width="6.2" height="6.2" fill="#a9c0d5" stroke="none" stroke-width="1" />
<rect x="1181.1" y="1033.5" width="6.2" height="6.2" fill="#a9c0d5" stroke="none" stroke-width="1" />
<rect x="1178.2" y="1037.1" width="6.2" height="6.2" fill="#a9c0d5" stroke="none" stroke-width="1" />
<rect x="1183" y="1013.2" width="6.2" height="6.2" fill="#a9c0d5" stroke="none" stroke-width="1" />
<path d="M1208.5 1034L1208.5 1040.2M1208.5 1067.5L1208.5 1069.3M1203.8 1034L1213.2 1034M1203.8 1069.3L1213.2 1069.3" stroke-width="2" />
<rect x="1200.7" y="1040.2" width="15.7" height="27.4" fill="#fff" stroke="#000" stroke-width="1.9" />
<path d="M1200.7 1064L1216.3 1064" stroke-width="2" />
<polygon points="1208.5,1030.4 1211.9,1036.6 1205.1,1036.6" fill="#a6433f" stroke="none" stroke-width="1" />
<polygon points="1208.5,1065.7 1211.9,1071.9 1205.1,1071.9" fill="#a6433f" stroke="none" stroke-width="1" />
<polygon points="1211.8,1060.4 1215.2,1066.6 1208.4,1066.6" fill="#a6433f" stroke="none" stroke-width="1" />
<polygon points="1206.1,1063.9 1209.6,1070.1 1202.7,1070.1" fill="#a6433f" stroke="none" stroke-width="1" />
<polygon points="1210.9,1036.6 1214.3,1042.8 1207.4,1042.8" fill="#a6433f" stroke="none" stroke-width="1" />
<path d="M1274 1128.4L1274 1137.4" stroke-width="1.9" />
<text x="1274" y="1157.5" font-size="17" text-anchor="middle" font-weight="bold" font-style="italic" >Drp1</text>
<path d="M1249.5 1033.1L1249.5 1034.9M1249.5 1047.2L1249.5 1049.9M1244.8 1033.1L1254.2 1033.1M1244.8 1049.9L1254.2 1049.9" stroke-width="2" />
<rect x="1241.7" y="1034.9" width="15.7" height="12.4" fill="#fff" stroke="#000" stroke-width="1.9" />
<path d="M1241.7 1040.2L1257.3 1040.2" stroke-width="2" />
<circle cx="1249.5" cy="1033.1" r="3.1" fill="#2f6a95" stroke="none" stroke-width="1" />
<circle cx="1249.5" cy="1049.9" r="3.1" fill="#2f6a95" stroke="none" stroke-width="1" />
<circle cx="1249.2" cy="1040.2" r="3.1" fill="#2f6a95" stroke="none" stroke-width="1" />
<circle cx="1247.1" cy="1047.2" r="3.1" fill="#2f6a95" stroke="none" stroke-width="1" />
<circle cx="1251.9" cy="1034.9" r="3.1" fill="#2f6a95" stroke="none" stroke-width="1" />
<path d="M1274 989L1274 1014.6M1274 1047.2L1274 1051.6M1269.3 989L1278.7 989M1269.3 1051.6L1278.7 1051.6" stroke-width="2" />
<rect x="1266.2" y="1014.6" width="15.7" height="32.6" fill="#fff" stroke="#000" stroke-width="1.9" />
<path d="M1266.2 1043.7L1281.8 1043.7" stroke-width="2" />
<rect x="1270.9" y="985.9" width="6.2" height="6.2" fill="#a9c0d5" stroke="none" stroke-width="1" />
<rect x="1270.9" y="1048.5" width="6.2" height="6.2" fill="#a9c0d5" stroke="none" stroke-width="1" />
<rect x="1271" y="1040.6" width="6.2" height="6.2" fill="#a9c0d5" stroke="none" stroke-width="1" />
<rect x="1268.5" y="1044.1" width="6.2" height="6.2" fill="#a9c0d5" stroke="none" stroke-width="1" />
<rect x="1273.3" y="1011.5" width="6.2" height="6.2" fill="#a9c0d5" stroke="none" stroke-width="1" />
<path d="M1298.8 1064L1298.8 1070.2M1298.8 1081.6L1298.8 1082.5M1294.1 1064L1303.5 1064M1294.1 1082.5L1303.5 1082.5" stroke-width="2" />
<rect x="1291" y="1070.2" width="15.7" height="11.5" fill="#fff" stroke="#000" stroke-width="1.9" />
<path d="M1291 1077.2L1306.6 1077.2" stroke-width="2" />
<polygon points="1298.8,1060.4 1302.2,1066.6 1295.4,1066.6" fill="#a6433f" stroke="none" stroke-width="1" />
<polygon points="1298.8,1079 1302.2,1085.2 1295.4,1085.2" fill="#a6433f" stroke="none" stroke-width="1" />
<polygon points="1299.5,1073.7 1302.9,1079.9 1296.1,1079.9" fill="#a6433f" stroke="none" stroke-width="1" />
<polygon points="1296.4,1078.1 1299.9,1084.3 1293,1084.3" fill="#a6433f" stroke="none" stroke-width="1" />
<polygon points="1301.2,1066.6 1304.6,1072.8 1297.7,1072.8" fill="#a6433f" stroke="none" stroke-width="1" />
<path d="M1363.9 1128.4L1363.9 1137.4" stroke-width="1.9" />
<text x="1363.9" y="1157.5" font-size="17" text-anchor="middle" font-weight="bold" font-style="italic" >Aifm1</text>
<path d="M1339.4 1030.5L1339.4 1034M1339.4 1045.5L1339.4 1049.9M1334.7 1030.5L1344.1 1030.5M1334.7 1049.9L1344.1 1049.9" stroke-width="2" />
<rect x="1331.6" y="1034" width="15.7" height="11.5" fill="#fff" stroke="#000" stroke-width="1.9" />
<path d="M1331.6 1040.2L1347.2 1040.2" stroke-width="2" />
<circle cx="1339.4" cy="1030.5" r="3.1" fill="#2f6a95" stroke="none" stroke-width="1" />
<circle cx="1339.4" cy="1049.9" r="3.1" fill="#2f6a95" stroke="none" stroke-width="1" />
<circle cx="1336.9" cy="1040.2" r="3.1" fill="#2f6a95" stroke="none" stroke-width="1" />
<circle cx="1337" cy="1045.5" r="3.1" fill="#2f6a95" stroke="none" stroke-width="1" />
<circle cx="1341.8" cy="1034" r="3.1" fill="#2f6a95" stroke="none" stroke-width="1" />
<path d="M1363.9 992.5L1363.9 1012.8M1363.9 1051.6L1363.9 1052.5M1359.2 992.5L1368.6 992.5M1359.2 1052.5L1368.6 1052.5" stroke-width="2" />
<rect x="1356.1" y="1012.8" width="15.7" height="38.8" fill="#fff" stroke="#000" stroke-width="1.9" />
<path d="M1356.1 1047.2L1371.8 1047.2" stroke-width="2" />
<rect x="1360.8" y="989.4" width="6.2" height="6.2" fill="#a9c0d5" stroke="none" stroke-width="1" />
<rect x="1360.8" y="1049.4" width="6.2" height="6.2" fill="#a9c0d5" stroke="none" stroke-width="1" />
<rect x="1360.9" y="1044.1" width="6.2" height="6.2" fill="#a9c0d5" stroke="none" stroke-width="1" />
<rect x="1358.4" y="1048.5" width="6.2" height="6.2" fill="#a9c0d5" stroke="none" stroke-width="1" />
<rect x="1363.2" y="1009.7" width="6.2" height="6.2" fill="#a9c0d5" stroke="none" stroke-width="1" />
<path d="M1388.7 1071L1388.7 1074.6M1388.7 1079L1388.7 1079.9M1384 1071L1393.4 1071M1384 1079.9L1393.4 1079.9" stroke-width="2" />
<rect x="1380.9" y="1074.6" width="15.7" height="4.4" fill="#fff" stroke="#000" stroke-width="1.9" />
<path d="M1380.9 1077.2L1396.5 1077.2" stroke-width="2" />
<polygon points="1388.7,1067.5 1392.1,1073.7 1385.3,1073.7" fill="#a6433f" stroke="none" stroke-width="1" />
<polygon points="1388.7,1076.3 1392.1,1082.5 1385.3,1082.5" fill="#a6433f" stroke="none" stroke-width="1" />
<polygon points="1389.7,1073.7 1393.1,1079.9 1386.3,1079.9" fill="#a6433f" stroke="none" stroke-width="1" />
<polygon points="1386.3,1075.4 1389.8,1081.6 1382.9,1081.6" fill="#a6433f" stroke="none" stroke-width="1" />
<polygon points="1391.1,1071 1394.5,1077.2 1387.6,1077.2" fill="#a6433f" stroke="none" stroke-width="1" />
<path d="M1453.4 1128.4L1453.4 1137.4" stroke-width="1.9" />
<text x="1453.4" y="1157.5" font-size="17" text-anchor="middle" font-weight="bold" font-style="italic" >Vdac1</text>
<path d="M1428.9 1031.3L1428.9 1033.1M1428.9 1047.2L1428.9 1055.2M1424.2 1031.3L1433.6 1031.3M1424.2 1055.2L1433.6 1055.2" stroke-width="2" />
<rect x="1421.1" y="1033.1" width="15.7" height="14.1" fill="#fff" stroke="#000" stroke-width="1.9" />
<path d="M1421.1 1036.6L1436.8 1036.6" stroke-width="2" />
<circle cx="1428.9" cy="1031.3" r="3.1" fill="#2f6a95" stroke="none" stroke-width="1" />
<circle cx="1428.9" cy="1055.2" r="3.1" fill="#2f6a95" stroke="none" stroke-width="1" />
<circle cx="1431.2" cy="1036.6" r="3.1" fill="#2f6a95" stroke="none" stroke-width="1" />
<circle cx="1426.5" cy="1047.2" r="3.1" fill="#2f6a95" stroke="none" stroke-width="1" />
<circle cx="1431.3" cy="1033.1" r="3.1" fill="#2f6a95" stroke="none" stroke-width="1" />
<path d="M1453.4 999.6L1453.4 1017.2M1453.4 1049L1453.4 1051.6M1448.7 999.6L1458.1 999.6M1448.7 1051.6L1458.1 1051.6" stroke-width="2" />
<rect x="1445.6" y="1017.2" width="15.7" height="31.8" fill="#fff" stroke="#000" stroke-width="1.9" />
<path d="M1445.6 1044.6L1461.2 1044.6" stroke-width="2" />
<rect x="1450.3" y="996.5" width="6.2" height="6.2" fill="#a9c0d5" stroke="none" stroke-width="1" />
<rect x="1450.3" y="1048.5" width="6.2" height="6.2" fill="#a9c0d5" stroke="none" stroke-width="1" />
<rect x="1447.1" y="1041.5" width="6.2" height="6.2" fill="#a9c0d5" stroke="none" stroke-width="1" />
<rect x="1447.9" y="1045.9" width="6.2" height="6.2" fill="#a9c0d5" stroke="none" stroke-width="1" />
<rect x="1452.7" y="1014.1" width="6.2" height="6.2" fill="#a9c0d5" stroke="none" stroke-width="1" />
<path d="M1478.2 1078.1L1478.2 1079M1478.2 1084.3L1478.2 1085.2M1473.5 1078.1L1482.9 1078.1M1473.5 1085.2L1482.9 1085.2" stroke-width="2" />
<rect x="1470.4" y="1079" width="15.7" height="5.3" fill="#fff" stroke="#000" stroke-width="1.9" />
<path d="M1470.4 1081.6L1486 1081.6" stroke-width="2" />
<polygon points="1478.2,1074.5 1481.6,1080.7 1474.8,1080.7" fill="#a6433f" stroke="none" stroke-width="1" />
<polygon points="1478.2,1081.6 1481.6,1087.8 1474.8,1087.8" fill="#a6433f" stroke="none" stroke-width="1" />
<polygon points="1476.7,1078.1 1480.1,1084.3 1473.2,1084.3" fill="#a6433f" stroke="none" stroke-width="1" />
<polygon points="1475.8,1080.7 1479.3,1086.9 1472.4,1086.9" fill="#a6433f" stroke="none" stroke-width="1" />
<polygon points="1480.6,1075.4 1484,1081.6 1477.1,1081.6" fill="#a6433f" stroke="none" stroke-width="1" />
<path d="M1543.7 1128.4L1543.7 1137.4" stroke-width="1.9" />
<text x="1543.7" y="1157.5" font-size="17" text-anchor="middle" font-weight="bold" font-style="italic" >Ucp2</text>
<path d="M1519.2 1015.5L1519.2 1018.1M1519.2 1054.3L1519.2 1055.2M1514.5 1015.5L1523.9 1015.5M1514.5 1055.2L1523.9 1055.2" stroke-width="2" />
<rect x="1511.4" y="1018.1" width="15.7" height="36.2" fill="#fff" stroke="#000" stroke-width="1.9" />
<path d="M1511.4 1048.1L1527 1048.1" stroke-width="2" />
<circle cx="1519.2" cy="1015.5" r="3.1" fill="#2f6a95" stroke="none" stroke-width="1" />
<circle cx="1519.2" cy="1055.2" r="3.1" fill="#2f6a95" stroke="none" stroke-width="1" />
<circle cx="1516" cy="1048.1" r="3.1" fill="#2f6a95" stroke="none" stroke-width="1" />
<circle cx="1516.8" cy="1054.3" r="3.1" fill="#2f6a95" stroke="none" stroke-width="1" />
<circle cx="1521.6" cy="1018.1" r="3.1" fill="#2f6a95" stroke="none" stroke-width="1" />
<path d="M1543.7 946.6L1543.7 951M1543.7 1013.7L1543.7 1013.7M1539 946.6L1548.4 946.6M1539 1013.7L1548.4 1013.7" stroke-width="2" />
<rect x="1535.9" y="951" width="15.7" height="62.7" fill="#fff" stroke="#000" stroke-width="1.9" />
<path d="M1535.9 974.9L1551.5 974.9" stroke-width="2" />
<rect x="1540.6" y="943.5" width="6.2" height="6.2" fill="#a9c0d5" stroke="none" stroke-width="1" />
<rect x="1540.6" y="1010.6" width="6.2" height="6.2" fill="#a9c0d5" stroke="none" stroke-width="1" />
<rect x="1543" y="971.8" width="6.2" height="6.2" fill="#a9c0d5" stroke="none" stroke-width="1" />
<rect x="1538.2" y="1010.6" width="6.2" height="6.2" fill="#a9c0d5" stroke="none" stroke-width="1" />
<rect x="1543" y="947.9" width="6.2" height="6.2" fill="#a9c0d5" stroke="none" stroke-width="1" />
<path d="M1568.5 1090.5L1568.5 1091.3M1568.5 1104.6L1568.5 1109.9M1563.8 1090.5L1573.2 1090.5M1563.8 1109.9L1573.2 1109.9" stroke-width="2" />
<rect x="1560.7" y="1091.3" width="15.7" height="13.2" fill="#fff" stroke="#000" stroke-width="1.9" />
<path d="M1560.7 1098.4L1576.3 1098.4" stroke-width="2" />
<polygon points="1568.5,1086.9 1571.9,1093.1 1565.1,1093.1" fill="#a6433f" stroke="none" stroke-width="1" />
<polygon points="1568.5,1106.3 1571.9,1112.5 1565.1,1112.5" fill="#a6433f" stroke="none" stroke-width="1" />
<polygon points="1570,1094.8 1573.4,1101 1566.6,1101" fill="#a6433f" stroke="none" stroke-width="1" />
<polygon points="1566.1,1101 1569.6,1107.2 1562.7,1107.2" fill="#a6433f" stroke="none" stroke-width="1" />
<polygon points="1570.9,1087.8 1574.3,1094 1567.4,1094" fill="#a6433f" stroke="none" stroke-width="1" />
<text x="1093" y="1018" font-size="17.5" text-anchor="middle" font-weight="bold" transform="rotate(-90 1093 1018)" >Relative expression</text>
<path d="M1186 988.5L1215 988.5" stroke-width="1.9" />
<text x="1200" y="979" font-size="14.5" text-anchor="middle" font-weight="bold" font-style="italic" >P = 0.025</text>
<path d="M1274 981L1301.5 981" stroke-width="1.9" />
<text x="1287.5" y="971" font-size="14.5" text-anchor="middle" font-weight="bold" font-style="italic" >P = 0.003</text>
<path d="M1361 986.5L1387.5 986.5" stroke-width="1.9" />
<text x="1374" y="977" font-size="14.5" text-anchor="middle" font-weight="bold" font-style="italic" >P = 0.040</text>
<path d="M1449 986.5L1478 986.5" stroke-width="1.9" />
<text x="1463.5" y="977" font-size="14.5" text-anchor="middle" font-weight="bold" font-style="italic" >P = 0.0003</text>
<path d="M1538.5 937.5L1568 937.5" stroke-width="1.9" />
<text x="1553" y="928" font-size="14.5" text-anchor="middle" font-weight="bold" font-style="italic" >P = 0.001</text>
<rect x="1149" y="872.4" width="22.3" height="10.1" fill="#fff" stroke="#000" stroke-width="1.9" />
<text x="1186.3" y="883.5" font-size="17.6" font-weight="bold" fill="#2f6a95" ><tspan font-style="italic">P. vulgatus</tspan></text>
<rect x="1291.9" y="872.4" width="22.4" height="10.1" fill="#fff" stroke="#000" stroke-width="1.9" />
<text x="1329.2" y="883.5" font-size="17.6" font-weight="bold" fill="#a9c0d5" ><tspan font-style="italic">P. vulgatus</tspan>+MET</text>
<rect x="1149" y="902.2" width="22.3" height="10.1" fill="#fff" stroke="#000" stroke-width="1.9" />
<text x="1186.3" y="913.5" font-size="17.6" font-weight="bold" fill="#a6433f" >HK-<tspan font-style="italic">P. vulgatus</tspan>+MET</text>
<text x="32" y="1353.5" font-size="32" font-weight="bold" >I</text>
<path d="M98.6 1377.8L98.6 1600.8M90.6 1600L98.6 1600" stroke-width="1.9" />
<text x="89.1" y="1606.4" font-size="18" text-anchor="end" font-weight="bold" >0.0</text>
<path d="M90.6 1544.7L98.6 1544.7" stroke-width="1.9" />
<text x="89.1" y="1551.1" font-size="18" text-anchor="end" font-weight="bold" >0.5</text>
<path d="M90.6 1489.3L98.6 1489.3" stroke-width="1.9" />
<text x="89.1" y="1495.7" font-size="18" text-anchor="end" font-weight="bold" >1.0</text>
<path d="M90.6 1434L98.6 1434" stroke-width="1.9" />
<text x="89.1" y="1440.4" font-size="18" text-anchor="end" font-weight="bold" >1.5</text>
<path d="M90.6 1378.6L98.6 1378.6" stroke-width="1.9" />
<text x="89.1" y="1385" font-size="18" text-anchor="end" font-weight="bold" >2.0</text>
<path d="M90.2 1600L496.4 1600" stroke-width="2.1" />
<path d="M135.7 1600L135.7 1609" stroke-width="1.9" />
<text x="135.7" y="1632" font-size="17.5" text-anchor="middle" font-weight="bold" font-style="italic" >Mff</text>
<path d="M113.9 1452.8L113.9 1473.8M113.9 1498.2L113.9 1499.3M109.8 1452.8L118 1452.8M109.8 1499.3L118 1499.3" stroke-width="2" />
<rect x="107" y="1473.8" width="13.7" height="24.4" fill="#fff" stroke="#000" stroke-width="1.9" />
<path d="M107 1495.9L120.7 1495.9" stroke-width="2" />
<circle cx="113.9" cy="1452.8" r="3.1" fill="#a9c0d5" stroke="none" stroke-width="1" />
<circle cx="113.9" cy="1499.3" r="3.1" fill="#a9c0d5" stroke="none" stroke-width="1" />
<circle cx="113.7" cy="1495.9" r="3.1" fill="#a9c0d5" stroke="none" stroke-width="1" />
<circle cx="111.8" cy="1498.2" r="3.1" fill="#a9c0d5" stroke="none" stroke-width="1" />
<circle cx="116" cy="1473.8" r="3.1" fill="#a9c0d5" stroke="none" stroke-width="1" />
<path d="M135.7 1555.7L135.7 1557.9M135.7 1575.6L135.7 1585.6M131.6 1555.7L139.8 1555.7M131.6 1585.6L139.8 1585.6" stroke-width="2" />
<rect x="128.8" y="1557.9" width="13.7" height="17.7" fill="#fff" stroke="#000" stroke-width="1.9" />
<path d="M128.8 1563.5L142.5 1563.5" stroke-width="2" />
<rect x="132.6" y="1552.6" width="6.2" height="6.2" fill="#1a7bc0" stroke="none" stroke-width="1" />
<rect x="132.6" y="1582.5" width="6.2" height="6.2" fill="#1a7bc0" stroke="none" stroke-width="1" />
<rect x="133.7" y="1560.4" width="6.2" height="6.2" fill="#1a7bc0" stroke="none" stroke-width="1" />
<rect x="130.5" y="1572.5" width="6.2" height="6.2" fill="#1a7bc0" stroke="none" stroke-width="1" />
<rect x="134.7" y="1554.8" width="6.2" height="6.2" fill="#1a7bc0" stroke="none" stroke-width="1" />
<path d="M157.5 1548L157.5 1554.6M157.5 1573.4L157.5 1577.9M153.4 1548L161.6 1548M153.4 1577.9L161.6 1577.9" stroke-width="2" />
<rect x="150.7" y="1554.6" width="13.7" height="18.8" fill="#fff" stroke="#000" stroke-width="1.9" />
<path d="M150.7 1562.4L164.3 1562.4" stroke-width="2" />
<polygon points="157.5,1544.4 160.9,1550.6 154.1,1550.6" fill="#e9775b" stroke="none" stroke-width="1" />
<polygon points="157.5,1574.3 160.9,1580.5 154.1,1580.5" fill="#e9775b" stroke="none" stroke-width="1" />
<polygon points="158.6,1558.8 162,1565 155.2,1565" fill="#e9775b" stroke="none" stroke-width="1" />
<polygon points="155.4,1569.9 158.9,1576.1 152,1576.1" fill="#e9775b" stroke="none" stroke-width="1" />
<polygon points="159.6,1551 163,1557.2 156.1,1557.2" fill="#e9775b" stroke="none" stroke-width="1" />
<path d="M216.5 1600L216.5 1609" stroke-width="1.9" />
<text x="216.5" y="1632" font-size="17.5" text-anchor="middle" font-weight="bold" font-style="italic" >Drp1</text>
<path d="M194.7 1435.1L194.7 1464.9M194.7 1503.7L194.7 1503.7M190.6 1435.1L198.8 1435.1M190.6 1503.7L198.8 1503.7" stroke-width="2" />
<rect x="187.8" y="1464.9" width="13.7" height="38.7" fill="#fff" stroke="#000" stroke-width="1.9" />
<path d="M187.8 1498.2L201.5 1498.2" stroke-width="2" />
<circle cx="194.7" cy="1435.1" r="3.1" fill="#a9c0d5" stroke="none" stroke-width="1" />
<circle cx="194.7" cy="1503.7" r="3.1" fill="#a9c0d5" stroke="none" stroke-width="1" />
<circle cx="192.3" cy="1498.2" r="3.1" fill="#a9c0d5" stroke="none" stroke-width="1" />
<circle cx="192.6" cy="1503.7" r="3.1" fill="#a9c0d5" stroke="none" stroke-width="1" />
<circle cx="196.8" cy="1464.9" r="3.1" fill="#a9c0d5" stroke="none" stroke-width="1" />
<path d="M216.5 1562.4L216.5 1563.5M216.5 1574.5L216.5 1580.1M212.4 1562.4L220.6 1562.4M212.4 1580.1L220.6 1580.1" stroke-width="2" />
<rect x="209.7" y="1563.5" width="13.7" height="11.1" fill="#fff" stroke="#000" stroke-width="1.9" />
<path d="M209.7 1567.9L223.3 1567.9" stroke-width="2" />
<rect x="213.4" y="1559.3" width="6.2" height="6.2" fill="#1a7bc0" stroke="none" stroke-width="1" />
<rect x="213.4" y="1577" width="6.2" height="6.2" fill="#1a7bc0" stroke="none" stroke-width="1" />
<rect x="210" y="1564.8" width="6.2" height="6.2" fill="#1a7bc0" stroke="none" stroke-width="1" />
<rect x="211.3" y="1571.4" width="6.2" height="6.2" fill="#1a7bc0" stroke="none" stroke-width="1" />
<rect x="215.5" y="1560.4" width="6.2" height="6.2" fill="#1a7bc0" stroke="none" stroke-width="1" />
<path d="M238.3 1556.8L238.3 1560.1M238.3 1579L238.3 1580.1M234.2 1556.8L242.4 1556.8M234.2 1580.1L242.4 1580.1" stroke-width="2" />
<rect x="231.5" y="1560.1" width="13.7" height="18.8" fill="#fff" stroke="#000" stroke-width="1.9" />
<path d="M231.5 1563.5L245.2 1563.5" stroke-width="2" />
<polygon points="238.3,1553.3 241.7,1559.5 234.9,1559.5" fill="#e9775b" stroke="none" stroke-width="1" />
<polygon points="238.3,1576.5 241.7,1582.7 234.9,1582.7" fill="#e9775b" stroke="none" stroke-width="1" />
<polygon points="237.4,1559.9 240.9,1566.1 234,1566.1" fill="#e9775b" stroke="none" stroke-width="1" />
<polygon points="236.2,1575.4 239.7,1581.6 232.8,1581.6" fill="#e9775b" stroke="none" stroke-width="1" />
<polygon points="240.4,1556.6 243.8,1562.8 236.9,1562.8" fill="#e9775b" stroke="none" stroke-width="1" />
<path d="M297.2 1600L297.2 1609" stroke-width="1.9" />
<text x="297.2" y="1632" font-size="17.5" text-anchor="middle" font-weight="bold" font-style="italic" >Aifm1</text>
<path d="M275.4 1435.1L275.4 1459.4M275.4 1508.1L275.4 1509.2M271.3 1435.1L279.5 1435.1M271.3 1509.2L279.5 1509.2" stroke-width="2" />
<rect x="268.5" y="1459.4" width="13.7" height="48.7" fill="#fff" stroke="#000" stroke-width="1.9" />
<path d="M268.5 1501.5L282.2 1501.5" stroke-width="2" />
<circle cx="275.4" cy="1435.1" r="3.1" fill="#a9c0d5" stroke="none" stroke-width="1" />
<circle cx="275.4" cy="1509.2" r="3.1" fill="#a9c0d5" stroke="none" stroke-width="1" />
<circle cx="273.9" cy="1501.5" r="3.1" fill="#a9c0d5" stroke="none" stroke-width="1" />
<circle cx="273.3" cy="1508.1" r="3.1" fill="#a9c0d5" stroke="none" stroke-width="1" />
<circle cx="277.5" cy="1459.4" r="3.1" fill="#a9c0d5" stroke="none" stroke-width="1" />
<path d="M297.2 1521.4L297.2 1529.2M297.2 1544.7L297.2 1544.7M293.1 1521.4L301.3 1521.4M293.1 1544.7L301.3 1544.7" stroke-width="2" />
<rect x="290.3" y="1529.2" width="13.7" height="15.5" fill="#fff" stroke="#000" stroke-width="1.9" />
<path d="M290.3 1542.4L304.1 1542.4" stroke-width="2" />
<rect x="294.1" y="1518.3" width="6.2" height="6.2" fill="#1a7bc0" stroke="none" stroke-width="1" />
<rect x="294.1" y="1541.6" width="6.2" height="6.2" fill="#1a7bc0" stroke="none" stroke-width="1" />
<rect x="296.2" y="1539.3" width="6.2" height="6.2" fill="#1a7bc0" stroke="none" stroke-width="1" />
<rect x="292" y="1541.6" width="6.2" height="6.2" fill="#1a7bc0" stroke="none" stroke-width="1" />
<rect x="296.2" y="1526.1" width="6.2" height="6.2" fill="#1a7bc0" stroke="none" stroke-width="1" />
<path d="M319 1529.2L319 1532.5M319 1546.9L319 1551.3M314.9 1529.2L323.1 1529.2M314.9 1551.3L323.1 1551.3" stroke-width="2" />
<rect x="312.1" y="1532.5" width="13.7" height="14.4" fill="#fff" stroke="#000" stroke-width="1.9" />
<path d="M312.1 1538L325.9 1538" stroke-width="2" />
<polygon points="319,1525.6 322.4,1531.8 315.6,1531.8" fill="#e9775b" stroke="none" stroke-width="1" />
<polygon points="319,1547.7 322.4,1553.9 315.6,1553.9" fill="#e9775b" stroke="none" stroke-width="1" />
<polygon points="320.3,1534.4 323.7,1540.6 316.9,1540.6" fill="#e9775b" stroke="none" stroke-width="1" />
<polygon points="316.9,1543.3 320.4,1549.5 313.5,1549.5" fill="#e9775b" stroke="none" stroke-width="1" />
<polygon points="321.1,1528.9 324.5,1535.1 317.6,1535.1" fill="#e9775b" stroke="none" stroke-width="1" />
<path d="M377.6 1600L377.6 1609" stroke-width="1.9" />
<text x="377.6" y="1632" font-size="17.5" text-anchor="middle" font-weight="bold" font-style="italic" >Vdac1</text>
<path d="M355.8 1445L355.8 1467.2M355.8 1503.7L355.8 1504.8M351.7 1445L359.9 1445M351.7 1504.8L359.9 1504.8" stroke-width="2" />
<rect x="348.9" y="1467.2" width="13.7" height="36.5" fill="#fff" stroke="#000" stroke-width="1.9" />
<path d="M348.9 1498.2L362.7 1498.2" stroke-width="2" />
<circle cx="355.8" cy="1445" r="3.1" fill="#a9c0d5" stroke="none" stroke-width="1" />
<circle cx="355.8" cy="1504.8" r="3.1" fill="#a9c0d5" stroke="none" stroke-width="1" />
<circle cx="356.5" cy="1498.2" r="3.1" fill="#a9c0d5" stroke="none" stroke-width="1" />
<circle cx="353.7" cy="1503.7" r="3.1" fill="#a9c0d5" stroke="none" stroke-width="1" />
<circle cx="357.9" cy="1467.2" r="3.1" fill="#a9c0d5" stroke="none" stroke-width="1" />
<path d="M377.6 1525.8L377.6 1531.4M377.6 1548L377.6 1550.2M373.5 1525.8L381.7 1525.8M373.5 1550.2L381.7 1550.2" stroke-width="2" />
<rect x="370.8" y="1531.4" width="13.7" height="16.6" fill="#fff" stroke="#000" stroke-width="1.9" />
<path d="M370.8 1544.7L384.5 1544.7" stroke-width="2" />
<rect x="374.5" y="1522.7" width="6.2" height="6.2" fill="#1a7bc0" stroke="none" stroke-width="1" />
<rect x="374.5" y="1547.1" width="6.2" height="6.2" fill="#1a7bc0" stroke="none" stroke-width="1" />
<rect x="374.9" y="1541.6" width="6.2" height="6.2" fill="#1a7bc0" stroke="none" stroke-width="1" />
<rect x="372.4" y="1544.9" width="6.2" height="6.2" fill="#1a7bc0" stroke="none" stroke-width="1" />
<rect x="376.6" y="1528.3" width="6.2" height="6.2" fill="#1a7bc0" stroke="none" stroke-width="1" />
<path d="M399.4 1533.6L399.4 1535.8M399.4 1555.7L399.4 1557.9M395.3 1533.6L403.5 1533.6M395.3 1557.9L403.5 1557.9" stroke-width="2" />
<rect x="392.6" y="1535.8" width="13.7" height="19.9" fill="#fff" stroke="#000" stroke-width="1.9" />
<path d="M392.6 1538L406.3 1538" stroke-width="2" />
<polygon points="399.4,1530 402.8,1536.2 396,1536.2" fill="#e9775b" stroke="none" stroke-width="1" />
<polygon points="399.4,1554.4 402.8,1560.6 396,1560.6" fill="#e9775b" stroke="none" stroke-width="1" />
<polygon points="400.5,1534.4 403.9,1540.6 397.1,1540.6" fill="#e9775b" stroke="none" stroke-width="1" />
<polygon points="397.3,1552.2 400.8,1558.4 393.9,1558.4" fill="#e9775b" stroke="none" stroke-width="1" />
<polygon points="401.5,1532.2 404.9,1538.4 398,1538.4" fill="#e9775b" stroke="none" stroke-width="1" />
<path d="M459 1600L459 1609" stroke-width="1.9" />
<text x="459" y="1632" font-size="17.5" text-anchor="middle" font-weight="bold" font-style="italic" >Ucp2</text>
<path d="M437.2 1461.6L437.2 1464.9M437.2 1512.5L437.2 1513.7M433.1 1461.6L441.3 1461.6M433.1 1513.7L441.3 1513.7" stroke-width="2" />
<rect x="430.3" y="1464.9" width="13.7" height="47.6" fill="#fff" stroke="#000" stroke-width="1.9" />
<path d="M430.3 1482.7L444.1 1482.7" stroke-width="2" />
<circle cx="437.2" cy="1461.6" r="3.1" fill="#a9c0d5" stroke="none" stroke-width="1" />
<circle cx="437.2" cy="1513.7" r="3.1" fill="#a9c0d5" stroke="none" stroke-width="1" />
<circle cx="434.8" cy="1482.7" r="3.1" fill="#a9c0d5" stroke="none" stroke-width="1" />
<circle cx="435.1" cy="1512.5" r="3.1" fill="#a9c0d5" stroke="none" stroke-width="1" />
<circle cx="439.3" cy="1464.9" r="3.1" fill="#a9c0d5" stroke="none" stroke-width="1" />
<path d="M459 1576.8L459 1577.9M459 1585.6L459 1592.3M454.9 1576.8L463.1 1576.8M454.9 1592.3L463.1 1592.3" stroke-width="2" />
<rect x="452.1" y="1577.9" width="13.7" height="7.7" fill="#fff" stroke="#000" stroke-width="1.9" />
<path d="M452.1 1581.2L465.9 1581.2" stroke-width="2" />
<rect x="455.9" y="1573.7" width="6.2" height="6.2" fill="#1a7bc0" stroke="none" stroke-width="1" />
<rect x="455.9" y="1589.2" width="6.2" height="6.2" fill="#1a7bc0" stroke="none" stroke-width="1" />
<rect x="455.5" y="1578.1" width="6.2" height="6.2" fill="#1a7bc0" stroke="none" stroke-width="1" />
<rect x="453.8" y="1582.5" width="6.2" height="6.2" fill="#1a7bc0" stroke="none" stroke-width="1" />
<rect x="458" y="1574.8" width="6.2" height="6.2" fill="#1a7bc0" stroke="none" stroke-width="1" />
<path d="M480.8 1585.6L480.8 1586.7M480.8 1591.1L480.8 1592.3M476.7 1585.6L484.9 1585.6M476.7 1592.3L484.9 1592.3" stroke-width="2" />
<rect x="473.9" y="1586.7" width="13.7" height="4.4" fill="#fff" stroke="#000" stroke-width="1.9" />
<path d="M473.9 1588.9L487.7 1588.9" stroke-width="2" />
<polygon points="480.8,1582 484.2,1588.2 477.4,1588.2" fill="#e9775b" stroke="none" stroke-width="1" />
<polygon points="480.8,1588.7 484.2,1594.9 477.4,1594.9" fill="#e9775b" stroke="none" stroke-width="1" />
<polygon points="478.5,1585.4 481.9,1591.6 475.1,1591.6" fill="#e9775b" stroke="none" stroke-width="1" />
<polygon points="478.7,1587.6 482.2,1593.8 475.3,1593.8" fill="#e9775b" stroke="none" stroke-width="1" />
<polygon points="482.9,1583.2 486.3,1589.4 479.4,1589.4" fill="#e9775b" stroke="none" stroke-width="1" />
<text x="49.5" y="1489" font-size="18" text-anchor="middle" font-weight="bold" transform="rotate(-90 49.5 1489)" >Relative expression</text>
<path d="M116.2 1411.2L157.9 1411.2" stroke-width="1.9" />
<text x="136.7" y="1402.4" font-size="11.7" text-anchor="middle" font-weight="bold" font-style="italic" >P &lt; 0.0001</text>
<path d="M116.2 1440.2L139.3 1440.2" stroke-width="1.9" />
<text x="127.6" y="1431.4" font-size="11.7" text-anchor="middle" font-weight="bold" font-style="italic" >P &lt; 0.0001</text>
<path d="M197.6 1401.4L244.8 1401.4" stroke-width="1.9" />
<text x="221.4" y="1391.7" font-size="11.7" text-anchor="middle" font-weight="bold" font-style="italic" >P &lt; 0.0001</text>
<path d="M197.6 1426.5L223.6 1426.5" stroke-width="1.9" />
<text x="210.6" y="1416.7" font-size="11.7" text-anchor="middle" font-weight="bold" font-style="italic" >P &lt; 0.0001</text>
<path d="M275.1 1394.9L325.5 1394.9" stroke-width="1.9" />
<text x="300.1" y="1385.1" font-size="11.7" text-anchor="middle" font-weight="bold" font-style="italic" >P = 0.002</text>
<path d="M276.7 1429.1L306 1429.1" stroke-width="1.9" />
<text x="292" y="1419.3" font-size="11.7" text-anchor="middle" font-weight="bold" font-style="italic" >P = 0.002</text>
<path d="M350.6 1408.6L400.4 1408.6" stroke-width="1.9" />
<text x="375" y="1399.1" font-size="11.7" text-anchor="middle" font-weight="bold" font-style="italic" >P = 0.001</text>
<path d="M350.6 1437.2L380.9 1437.2" stroke-width="1.9" />
<text x="366.2" y="1427.5" font-size="11.7" text-anchor="middle" font-weight="bold" font-style="italic" >P = 0.0004</text>
<path d="M430.3 1450.6L493.2 1450.6" stroke-width="1.9" />
<text x="461.6" y="1441.8" font-size="11.7" text-anchor="middle" font-weight="bold" font-style="italic" >P = 0.004</text>
<rect x="111.3" y="1305.4" width="22.8" height="10.4" fill="#fff" stroke="#000" stroke-width="1.9" />
<text x="149.1" y="1317" font-size="18" font-weight="bold" fill="#a9c0d5" ><tspan font-style="italic">P. vulgatus</tspan>+MET</text>
<rect x="315.8" y="1305.4" width="22.7" height="10.4" fill="#fff" stroke="#000" stroke-width="1.9" />
<text x="352.5" y="1317" font-size="18" font-weight="bold" fill="#1a7bc0" >GUDCA+MET</text>
<rect x="116.2" y="1347.4" width="22.8" height="10.1" fill="#fff" stroke="#000" stroke-width="1.9" />
<text x="153.6" y="1358.5" font-size="18" font-weight="bold" fill="#e9775b" >TUDCA+CAPE+MET</text>
<text x="510.5" y="1345.5" font-size="32" font-weight="bold" >J</text>
<rect x="575.6" y="1422.3" width="390.9" height="35.4" fill="#fbfbfb" stroke="#9a9a9a" stroke-width="0.9" />
<rect x="575.6" y="1468.9" width="390.9" height="38.5" fill="#fbfbfb" stroke="#9a9a9a" stroke-width="0.9" />
<rect x="575.6" y="1517.5" width="390.9" height="51" fill="#fbfbfb" stroke="#9a9a9a" stroke-width="0.9" />
<rect x="579.1" y="1430.5" width="25.5" height="24" fill="#7f7f7f" stroke="none" stroke-width="1.5" filter="url(#bb2)"/>
<rect x="611.7" y="1432.2" width="25.5" height="24" fill="#919191" stroke="none" stroke-width="1.5" filter="url(#bb2)"/>
<rect x="644.3" y="1430.5" width="25.5" height="24" fill="#8c8c8c" stroke="none" stroke-width="1.5" filter="url(#bb2)"/>
<rect x="676.8" y="1429.9" width="25.5" height="24" fill="#707070" stroke="none" stroke-width="1.5" filter="url(#bb2)"/>
<rect x="709.4" y="1429.9" width="25.5" height="24" fill="#757575" stroke="none" stroke-width="1.5" filter="url(#bb2)"/>
<rect x="742" y="1429.9" width="25.5" height="24" fill="#727272" stroke="none" stroke-width="1.5" filter="url(#bb2)"/>
<rect x="774.5" y="1428.8" width="25.5" height="24" fill="#727272" stroke="none" stroke-width="1.5" filter="url(#bb2)"/>
<rect x="807.1" y="1428.8" width="25.5" height="24" fill="#6b6b6b" stroke="none" stroke-width="1.5" filter="url(#bb2)"/>
<rect x="839.7" y="1427.2" width="25.5" height="24" fill="#6d6d6d" stroke="none" stroke-width="1.5" filter="url(#bb2)"/>
<rect x="872.3" y="1429.5" width="25.5" height="16" fill="#7f7f7f" stroke="none" stroke-width="1.5" filter="url(#bb2)"/>
<rect x="904.8" y="1429.5" width="25.5" height="16" fill="#8e8e8e" stroke="none" stroke-width="1.5" filter="url(#bb2)"/>
<rect x="937.4" y="1428.5" width="25.5" height="16" fill="#939393" stroke="none" stroke-width="1.5" filter="url(#bb2)"/>
<rect x="579.1" y="1474.1" width="25.5" height="30" fill="#aaaaaa" stroke="none" stroke-width="1.5" filter="url(#bb2)"/>
<rect x="611.7" y="1474.1" width="25.5" height="30" fill="#9e9e9e" stroke="none" stroke-width="1.5" filter="url(#bb2)"/>
<rect x="644.3" y="1474.1" width="25.5" height="30" fill="#b7b7b7" stroke="none" stroke-width="1.5" filter="url(#bb2)"/>
<rect x="676.8" y="1474.1" width="25.5" height="30" fill="#c6c6c6" stroke="none" stroke-width="1.5" filter="url(#bb2)"/>
<rect x="709.4" y="1474.1" width="25.5" height="30" fill="#c6c6c6" stroke="none" stroke-width="1.5" filter="url(#bb2)"/>
<rect x="742" y="1474.1" width="25.5" height="30" fill="#7f7f7f" stroke="none" stroke-width="1.5" filter="url(#bb2)"/>
<rect x="774.5" y="1474.1" width="25.5" height="30" fill="#d1d1d1" stroke="none" stroke-width="1.5" filter="url(#bb2)"/>
<rect x="807.1" y="1474.1" width="25.5" height="30" fill="#bfbfbf" stroke="none" stroke-width="1.5" filter="url(#bb2)"/>
<rect x="839.7" y="1474.1" width="25.5" height="30" fill="#eaeaea" stroke="none" stroke-width="1.5" filter="url(#bb2)"/>
<rect x="872.3" y="1474.1" width="25.5" height="30" fill="#f7f7f7" stroke="none" stroke-width="1.5" filter="url(#bb2)"/>
<rect x="904.8" y="1474.1" width="25.5" height="30" fill="#f7f7f7" stroke="none" stroke-width="1.5" filter="url(#bb2)"/>
<rect x="937.4" y="1474.1" width="25.5" height="30" fill="#f9f9f9" stroke="none" stroke-width="1.5" filter="url(#bb2)"/>
<rect x="676.8" y="1469.9" width="25.5" height="6" fill="#aaaaaa" stroke="none" stroke-width="1.5" filter="url(#bb)"/>
<rect x="579.1" y="1536.5" width="25.5" height="16" fill="#444444" stroke="none" stroke-width="1.5" filter="url(#bb)"/>
<rect x="611.7" y="1537.5" width="25.5" height="16" fill="#494949" stroke="none" stroke-width="1.5" filter="url(#bb)"/>
<rect x="644.3" y="1536.8" width="25.5" height="16" fill="#494949" stroke="none" stroke-width="1.5" filter="url(#bb)"/>
<rect x="676.8" y="1538.5" width="25.5" height="16" fill="#424242" stroke="none" stroke-width="1.5" filter="url(#bb)"/>
<rect x="709.4" y="1537.5" width="25.5" height="16" fill="#444444" stroke="none" stroke-width="1.5" filter="url(#bb)"/>
<rect x="742" y="1537.5" width="25.5" height="16" fill="#444444" stroke="none" stroke-width="1.5" filter="url(#bb)"/>
<rect x="774.5" y="1535.8" width="25.5" height="16" fill="#3f3f3f" stroke="none" stroke-width="1.5" filter="url(#bb)"/>
<rect x="807.1" y="1535.8" width="25.5" height="16" fill="#262626" stroke="none" stroke-width="1.5" filter="url(#bb)"/>
<rect x="839.7" y="1534.8" width="25.5" height="16" fill="#2b2b2b" stroke="none" stroke-width="1.5" filter="url(#bb)"/>
<rect x="872.3" y="1534.8" width="25.5" height="16" fill="#323232" stroke="none" stroke-width="1.5" filter="url(#bb)"/>
<rect x="904.8" y="1534.8" width="25.5" height="16" fill="#383838" stroke="none" stroke-width="1.5" filter="url(#bb)"/>
<rect x="937.4" y="1533.8" width="25.5" height="16" fill="#3a3a3a" stroke="none" stroke-width="1.5" filter="url(#bb)"/>
<path d="M578.9 1416.5L669.4 1416.5M676.2 1416.5L767.3 1416.5M773.7 1416.5L864.9 1416.5M871.6 1416.5L962.7 1416.5" stroke-width="1.3" stroke="#222" />
<text x="561" y="1459.5" font-size="18" text-anchor="end" font-weight="bold" >79</text>
<path d="M567 1448.5L572 1448.5" stroke-width="1.4" />
<text x="561" y="1503.5" font-size="18" text-anchor="end" font-weight="bold" >79</text>
<path d="M567 1497L572 1497" stroke-width="1.4" />
<text x="561" y="1549" font-size="18" text-anchor="end" font-weight="bold" >40</text>
<path d="M567 1537.5L572 1537.5" stroke-width="1.4" />
<text x="984.7" y="1455" font-size="20.5" font-weight="bold" >DRP1</text>
<text x="984.7" y="1499.5" font-size="20.5" font-weight="bold" >p-DRP1</text>
<text x="984.7" y="1525" font-size="20.5" font-weight="bold" >(Ser616)</text>
<text x="984.7" y="1560.5" font-size="20.5" font-weight="bold" >GAPDH</text>
<text x="618.4" y="1402" font-size="21" font-weight="bold" transform="rotate(-45 618.4 1402)" ><tspan font-style="italic">P. vulgatus</tspan></text>
<text x="718" y="1402" font-size="21" font-weight="bold" transform="rotate(-45 718 1402)" ><tspan font-style="italic">P. vulgatus</tspan>+MET</text>
<text x="815.2" y="1402" font-size="21" font-weight="bold" transform="rotate(-45 815.2 1402)" >HK-<tspan font-style="italic">P. vulgatus</tspan></text>
<text x="914.8" y="1402" font-size="21" font-weight="bold" transform="rotate(-45 914.8 1402)" >HK-<tspan font-style="italic">P. vulgatus</tspan>+MET</text>
<rect x="1166.9" y="1327.4" width="24.8" height="193.8" fill="#3c6f95" stroke="#000" stroke-width="1.9" />
<rect x="1207.4" y="1313.5" width="25.1" height="207.7" fill="#aac0d4" stroke="#000" stroke-width="1.9" />
<rect x="1247.9" y="1338" width="25.1" height="183.2" fill="#208b7b" stroke="#000" stroke-width="1.9" />
<rect x="1288.4" y="1371.1" width="25.4" height="150.1" fill="#a74541" stroke="#000" stroke-width="1.9" />
<path d="M1179.3 1330.9L1179.3 1322.9M1174.3 1330.9L1184.3 1330.9M1174.3 1322.9L1184.3 1322.9M1220 1316.5L1220 1310.1M1215 1316.5L1225 1316.5M1215 1310.1L1225 1310.1" stroke-width="1.9" />
<path d="M1260.5 1351.7L1260.5 1324.5M1255.5 1351.7L1265.5 1351.7M1255.5 1324.5L1265.5 1324.5" stroke-width="2" />
<path d="M1301.1 1374.1L1301.1 1366.9M1296.1 1374.1L1306.1 1374.1M1296.1 1366.9L1306.1 1366.9" stroke-width="1.9" />
<circle cx="1172.3" cy="1322.1" r="3" fill="#fff" stroke="#000" stroke-width="1.5" />
<circle cx="1172.3" cy="1330.9" r="3" fill="#fff" stroke="#000" stroke-width="1.5" />
<circle cx="1179.3" cy="1326.9" r="3" fill="#fff" stroke="#000" stroke-width="1.5" />
<circle cx="1186.3" cy="1327.7" r="3" fill="#fff" stroke="#000" stroke-width="1.5" />
<rect x="1208" y="1311.2" width="5.8" height="5.8" fill="#fff" stroke="#000" stroke-width="1.7" />
<rect x="1217" y="1308" width="5.8" height="5.8" fill="#fff" stroke="#000" stroke-width="1.7" />
<rect x="1227" y="1308" width="5.8" height="5.8" fill="#fff" stroke="#000" stroke-width="1.7" />
<polygon points="1260.5,1320 1264,1326.4 1256.9,1326.4" fill="#fff" stroke="#000" stroke-width="1.5" />
<polygon points="1253.5,1341.6 1257,1348 1249.9,1348" fill="#fff" stroke="#000" stroke-width="1.5" />
<polygon points="1266.5,1341.6 1270,1348 1262.9,1348" fill="#fff" stroke="#000" stroke-width="1.5" />
<polygon points="1292.1,1377 1295.6,1370.6 1288.6,1370.6" fill="#fff" stroke="#000" stroke-width="1.5" />
<polygon points="1301.1,1373 1304.6,1366.6 1297.6,1366.6" fill="#fff" stroke="#000" stroke-width="1.5" />
<polygon points="1310.1,1373.8 1313.6,1367.4 1306.6,1367.4" fill="#fff" stroke="#000" stroke-width="1.5" />
<path d="M1152.2 1295.3L1152.2 1522M1144.2 1521.2L1152.2 1521.2" stroke-width="1.9" />
<text x="1142.7" y="1527.5" font-size="17.5" text-anchor="end" font-weight="bold" >0.0</text>
<path d="M1144.2 1441.2L1152.2 1441.2" stroke-width="1.9" />
<text x="1142.7" y="1447.5" font-size="17.5" text-anchor="end" font-weight="bold" >0.5</text>
<path d="M1144.2 1361.3L1152.2 1361.3" stroke-width="1.9" />
<text x="1142.7" y="1367.6" font-size="17.5" text-anchor="end" font-weight="bold" >1.0</text>
<path d="M1143.5 1521.2L1329.5 1521.2" stroke-width="2.1" />
<path d="M1179.3 1521.2L1179.3 1530.2M1220 1521.2L1220 1530.2M1260.5 1521.2L1260.5 1530.2M1301.1 1521.2L1301.1 1530.2" stroke-width="1.9" />
<text x="1105" y="1408.5" font-size="17.5" text-anchor="middle" font-weight="bold" transform="rotate(-90 1105 1408.5)" >Relative protein levels/GAPDH</text>
<path d="M1218 1296.3L1301.5 1296.3" stroke-width="1.9" />
<text x="1259" y="1286" font-size="15" text-anchor="middle" font-weight="bold" font-style="italic" >P = 0.013</text>
<text x="1185.3" y="1547" font-size="18.2" text-anchor="end" font-weight="bold" transform="rotate(-45 1185.3 1547)" ><tspan font-style="italic">P. vulgatus</tspan></text>
<text x="1226" y="1547" font-size="18.2" text-anchor="end" font-weight="bold" transform="rotate(-45 1226 1547)" ><tspan font-style="italic">P. vulgatus</tspan>+MET</text>
<text x="1266.5" y="1547" font-size="18.2" text-anchor="end" font-weight="bold" transform="rotate(-45 1266.5 1547)" >HK-<tspan font-style="italic">P. vulgatus</tspan></text>
<text x="1307.1" y="1547" font-size="18.2" text-anchor="end" font-weight="bold" transform="rotate(-45 1307.1 1547)" >HK-<tspan font-style="italic">P. vulgatus</tspan>+MET</text>
<rect x="1448.2" y="1362.1" width="25.5" height="156.6" fill="#3c6f95" stroke="#000" stroke-width="1.9" />
<rect x="1488.3" y="1374.9" width="25.5" height="143.8" fill="#aac0d4" stroke="#000" stroke-width="1.9" />
<rect x="1529.2" y="1454.3" width="25.4" height="64.4" fill="#208b7b" stroke="#000" stroke-width="1.9" />
<rect x="1569.7" y="1491.4" width="25.4" height="27.3" fill="#a74541" stroke="#000" stroke-width="1.9" />
<path d="M1461 1403.5L1461 1320.7M1455 1403.5L1467 1403.5M1455 1320.7L1467 1320.7M1501 1404.6L1501 1344.2M1495 1404.6L1507 1404.6M1495 1344.2L1507 1344.2M1541.9 1470.6L1541.9 1437M1535.9 1470.6L1547.9 1470.6M1535.9 1437L1547.9 1437M1582.4 1501.9L1582.4 1478.4M1576.4 1501.9L1588.4 1501.9M1576.4 1478.4L1588.4 1478.4" stroke-width="2" />
<circle cx="1461" cy="1331.9" r="3" fill="#fff" stroke="#000" stroke-width="1.5" />
<circle cx="1461" cy="1344.7" r="3" fill="#fff" stroke="#000" stroke-width="1.5" />
<circle cx="1461" cy="1409.1" r="3" fill="#fff" stroke="#000" stroke-width="1.5" />
<rect x="1498" y="1337.9" width="6" height="6" fill="#fff" stroke="#000" stroke-width="1.7" />
<rect x="1498" y="1382.6" width="6" height="6" fill="#fff" stroke="#000" stroke-width="1.7" />
<rect x="1498" y="1395.6" width="6" height="6" fill="#fff" stroke="#000" stroke-width="1.7" />
<polygon points="1535.9,1437.8 1539.4,1444.2 1532.4,1444.2" fill="#fff" stroke="#000" stroke-width="1.5" />
<polygon points="1547.9,1443.4 1551.4,1449.8 1544.4,1449.8" fill="#fff" stroke="#000" stroke-width="1.5" />
<polygon points="1541.9,1469.2 1545.4,1475.6 1538.4,1475.6" fill="#fff" stroke="#000" stroke-width="1.5" />
<polygon points="1582.4,1484.4 1585.9,1478 1578.9,1478" fill="#fff" stroke="#000" stroke-width="1.5" />
<polygon points="1582.4,1495.5 1585.9,1489.1 1578.9,1489.1" fill="#fff" stroke="#000" stroke-width="1.5" />
<polygon points="1582.4,1505.6 1585.9,1499.2 1578.9,1499.2" fill="#fff" stroke="#000" stroke-width="1.5" />
<path d="M1434.9 1294.2L1434.9 1519.5M1426.9 1518.7L1434.9 1518.7" stroke-width="1.9" />
<text x="1425.4" y="1525" font-size="17.5" text-anchor="end" font-weight="bold" >0.000</text>
<path d="M1426.9 1474L1434.9 1474" stroke-width="1.9" />
<text x="1425.4" y="1480.2" font-size="17.5" text-anchor="end" font-weight="bold" >0.002</text>
<path d="M1426.9 1429.2L1434.9 1429.2" stroke-width="1.9" />
<text x="1425.4" y="1435.5" font-size="17.5" text-anchor="end" font-weight="bold" >0.004</text>
<path d="M1426.9 1384.5L1434.9 1384.5" stroke-width="1.9" />
<text x="1425.4" y="1390.7" font-size="17.5" text-anchor="end" font-weight="bold" >0.006</text>
<path d="M1426.9 1339.7L1434.9 1339.7" stroke-width="1.9" />
<text x="1425.4" y="1346" font-size="17.5" text-anchor="end" font-weight="bold" >0.008</text>
<path d="M1426.9 1295L1434.9 1295" stroke-width="1.9" />
<text x="1425.4" y="1301.3" font-size="17.5" text-anchor="end" font-weight="bold" >0.010</text>
<path d="M1423.8 1518.7L1610.5 1518.7" stroke-width="2.1" />
<path d="M1461 1518.7L1461 1527.7M1501 1518.7L1501 1527.7M1541.9 1518.7L1541.9 1527.7M1582.4 1518.7L1582.4 1527.7" stroke-width="1.9" />
<text x="1367" y="1407" font-size="17.5" text-anchor="middle" font-weight="bold" transform="rotate(-90 1367 1407)" >Relative protein levels/DRP1</text>
<path d="M1464 1298.5L1540 1298.5" stroke-width="1.9" />
<text x="1501.5" y="1288" font-size="15" text-anchor="middle" font-weight="bold" font-style="italic" >P = 0.015</text>
<path d="M1504 1330L1592.5 1330" stroke-width="1.9" />
<text x="1548" y="1320.5" font-size="15" text-anchor="middle" font-weight="bold" font-style="italic" >P = 0.004</text>
<text x="1467" y="1545" font-size="18.2" text-anchor="end" font-weight="bold" transform="rotate(-45 1467 1545)" ><tspan font-style="italic">P. vulgatus</tspan></text>
<text x="1507" y="1545" font-size="18.2" text-anchor="end" font-weight="bold" transform="rotate(-45 1507 1545)" ><tspan font-style="italic">P. vulgatus</tspan>+MET</text>
<text x="1547.9" y="1545" font-size="18.2" text-anchor="end" font-weight="bold" transform="rotate(-45 1547.9 1545)" >HK-<tspan font-style="italic">P. vulgatus</tspan></text>
<text x="1588.4" y="1545" font-size="18.2" text-anchor="end" font-weight="bold" transform="rotate(-45 1588.4 1545)" >HK-<tspan font-style="italic">P. vulgatus</tspan>+MET</text>
<text x="31.5" y="1725.5" font-size="32" font-weight="bold" >K</text>
<path d="M90.2 1746.1L90.2 1968.1M82.2 1967.3L90.2 1967.3" stroke-width="1.9" />
<text x="80.7" y="1973.6" font-size="17.5" text-anchor="end" font-weight="bold" >0.0</text>
<path d="M82.2 1923.2L90.2 1923.2" stroke-width="1.9" />
<text x="80.7" y="1929.5" font-size="17.5" text-anchor="end" font-weight="bold" >0.5</text>
<path d="M82.2 1879.1L90.2 1879.1" stroke-width="1.9" />
<text x="80.7" y="1885.4" font-size="17.5" text-anchor="end" font-weight="bold" >1.0</text>
<path d="M82.2 1835.1L90.2 1835.1" stroke-width="1.9" />
<text x="80.7" y="1841.3" font-size="17.5" text-anchor="end" font-weight="bold" >1.5</text>
<path d="M82.2 1791L90.2 1791" stroke-width="1.9" />
<text x="80.7" y="1797.3" font-size="17.5" text-anchor="end" font-weight="bold" >2.0</text>
<path d="M82.2 1746.9L90.2 1746.9" stroke-width="1.9" />
<text x="80.7" y="1753.2" font-size="17.5" text-anchor="end" font-weight="bold" >2.5</text>
<path d="M79.6 1967.3L754.7 1967.3" stroke-width="2.1" />
<path d="M125.4 1967.3L125.4 1976.3" stroke-width="1.9" />
<text x="125.4" y="1996.5" font-size="17" text-anchor="middle" font-weight="bold" font-style="italic" >Ndufa1</text>
<path d="M101.3 1857.1L101.3 1868.6M101.3 1886.2L101.3 1888.8M98.4 1857.1L104.2 1857.1M98.4 1888.8L104.2 1888.8" stroke-width="1.9" />
<rect x="96.4" y="1868.6" width="9.8" height="17.6" fill="#fff" stroke="#000" stroke-width="1.8" />
<path d="M96.4 1879.1L106.2 1879.1" stroke-width="1.9" />
<circle cx="101.3" cy="1857.1" r="2.5" fill="#2f6a95" stroke="none" stroke-width="1" />
<circle cx="101.3" cy="1888.8" r="2.5" fill="#2f6a95" stroke="none" stroke-width="1" />
<circle cx="99.7" cy="1879.1" r="2.5" fill="#2f6a95" stroke="none" stroke-width="1" />
<circle cx="99.8" cy="1886.2" r="2.5" fill="#2f6a95" stroke="none" stroke-width="1" />
<circle cx="102.8" cy="1868.6" r="2.5" fill="#2f6a95" stroke="none" stroke-width="1" />
<path d="M117.3 1843.9L117.3 1847.4M117.3 1873.9L117.3 1880.9M114.4 1843.9L120.2 1843.9M114.4 1880.9L120.2 1880.9" stroke-width="1.9" />
<rect x="112.4" y="1847.4" width="9.8" height="26.4" fill="#fff" stroke="#000" stroke-width="1.8" />
<path d="M112.4 1872.1L122.2 1872.1" stroke-width="1.9" />
<rect x="114.8" y="1841.4" width="5" height="5" fill="#a9c0d5" stroke="none" stroke-width="1" />
<rect x="114.8" y="1878.4" width="5" height="5" fill="#a9c0d5" stroke="none" stroke-width="1" />
<rect x="115.7" y="1869.6" width="5" height="5" fill="#a9c0d5" stroke="none" stroke-width="1" />
<rect x="113.3" y="1871.4" width="5" height="5" fill="#a9c0d5" stroke="none" stroke-width="1" />
<rect x="116.3" y="1844.9" width="5" height="5" fill="#a9c0d5" stroke="none" stroke-width="1" />
<path d="M133.6 1817.4L133.6 1823.6M133.6 1861.5L133.6 1866.8M130.7 1817.4L136.5 1817.4M130.7 1866.8L136.5 1866.8" stroke-width="1.9" />
<rect x="128.7" y="1823.6" width="9.8" height="37.9" fill="#fff" stroke="#000" stroke-width="1.8" />
<path d="M128.7 1846.5L138.5 1846.5" stroke-width="1.9" />
<polygon points="133.6,1820.3 136.3,1815.3 130.8,1815.3" fill="#1b8b7b" stroke="none" stroke-width="1" />
<polygon points="133.6,1869.7 136.3,1864.7 130.8,1864.7" fill="#1b8b7b" stroke="none" stroke-width="1" />
<polygon points="134.3,1849.4 137,1844.4 131.5,1844.4" fill="#1b8b7b" stroke="none" stroke-width="1" />
<polygon points="132.1,1864.4 134.9,1859.4 129.4,1859.4" fill="#1b8b7b" stroke="none" stroke-width="1" />
<polygon points="135.1,1826.5 137.8,1821.5 132.3,1821.5" fill="#1b8b7b" stroke="none" stroke-width="1" />
<path d="M149.9 1807.7L149.9 1813.9M149.9 1828.9L149.9 1839.5M147 1807.7L152.8 1807.7M147 1839.5L152.8 1839.5" stroke-width="1.9" />
<rect x="145" y="1813.9" width="9.8" height="15" fill="#fff" stroke="#000" stroke-width="1.8" />
<path d="M145 1820.1L154.8 1820.1" stroke-width="1.9" />
<polygon points="149.9,1804.9 152.7,1809.9 147.2,1809.9" fill="#a6433f" stroke="none" stroke-width="1" />
<polygon points="149.9,1836.6 152.7,1841.6 147.2,1841.6" fill="#a6433f" stroke="none" stroke-width="1" />
<polygon points="149.8,1817.2 152.5,1822.2 147,1822.2" fill="#a6433f" stroke="none" stroke-width="1" />
<polygon points="148.4,1826 151.2,1831 145.7,1831" fill="#a6433f" stroke="none" stroke-width="1" />
<polygon points="151.4,1811 154.1,1816 148.6,1816" fill="#a6433f" stroke="none" stroke-width="1" />
<path d="M199.2 1967.3L199.2 1976.3" stroke-width="1.9" />
<text x="199.2" y="1996.5" font-size="17" text-anchor="middle" font-weight="bold" font-style="italic" >Uqcrb</text>
<path d="M175.1 1864.2L175.1 1870.3M175.1 1883.6L175.1 1888.8M172.2 1864.2L178 1864.2M172.2 1888.8L178 1888.8" stroke-width="1.9" />
<rect x="170.2" y="1870.3" width="9.8" height="13.2" fill="#fff" stroke="#000" stroke-width="1.8" />
<path d="M170.2 1879.1L180 1879.1" stroke-width="1.9" />
<circle cx="175.1" cy="1864.2" r="2.5" fill="#2f6a95" stroke="none" stroke-width="1" />
<circle cx="175.1" cy="1888.8" r="2.5" fill="#2f6a95" stroke="none" stroke-width="1" />
<circle cx="173.7" cy="1879.1" r="2.5" fill="#2f6a95" stroke="none" stroke-width="1" />
<circle cx="173.6" cy="1883.6" r="2.5" fill="#2f6a95" stroke="none" stroke-width="1" />
<circle cx="176.6" cy="1870.3" r="2.5" fill="#2f6a95" stroke="none" stroke-width="1" />
<path d="M191.1 1847.4L191.1 1852.7M191.1 1882.7L191.1 1886.2M188.2 1847.4L194 1847.4M188.2 1886.2L194 1886.2" stroke-width="1.9" />
<rect x="186.2" y="1852.7" width="9.8" height="30" fill="#fff" stroke="#000" stroke-width="1.8" />
<path d="M186.2 1876.5L196 1876.5" stroke-width="1.9" />
<rect x="188.6" y="1844.9" width="5" height="5" fill="#a9c0d5" stroke="none" stroke-width="1" />
<rect x="188.6" y="1883.7" width="5" height="5" fill="#a9c0d5" stroke="none" stroke-width="1" />
<rect x="190" y="1874" width="5" height="5" fill="#a9c0d5" stroke="none" stroke-width="1" />
<rect x="187.1" y="1880.2" width="5" height="5" fill="#a9c0d5" stroke="none" stroke-width="1" />
<rect x="190.1" y="1850.2" width="5" height="5" fill="#a9c0d5" stroke="none" stroke-width="1" />
<path d="M207.4 1813L207.4 1828.9M207.4 1857.1L207.4 1864.2M204.5 1813L210.3 1813M204.5 1864.2L210.3 1864.2" stroke-width="1.9" />
<rect x="202.5" y="1828.9" width="9.8" height="28.2" fill="#fff" stroke="#000" stroke-width="1.8" />
<path d="M202.5 1850.1L212.3 1850.1" stroke-width="1.9" />
<polygon points="207.4,1815.9 210.1,1810.9 204.6,1810.9" fill="#1b8b7b" stroke="none" stroke-width="1" />
<polygon points="207.4,1867 210.1,1862 204.6,1862" fill="#1b8b7b" stroke="none" stroke-width="1" />
<polygon points="208.9,1852.9 211.7,1847.9 206.2,1847.9" fill="#1b8b7b" stroke="none" stroke-width="1" />
<polygon points="205.9,1860 208.7,1855 203.2,1855" fill="#1b8b7b" stroke="none" stroke-width="1" />
<polygon points="208.9,1831.8 211.6,1826.8 206.1,1826.8" fill="#1b8b7b" stroke="none" stroke-width="1" />
<path d="M223.7 1821L223.7 1826.3M223.7 1838.6L223.7 1843.9M220.8 1821L226.6 1821M220.8 1843.9L226.6 1843.9" stroke-width="1.9" />
<rect x="218.8" y="1826.3" width="9.8" height="12.3" fill="#fff" stroke="#000" stroke-width="1.8" />
<path d="M218.8 1832.4L228.6 1832.4" stroke-width="1.9" />
<polygon points="223.7,1818.1 226.4,1823.1 220.9,1823.1" fill="#a6433f" stroke="none" stroke-width="1" />
<polygon points="223.7,1841 226.4,1846 220.9,1846" fill="#a6433f" stroke="none" stroke-width="1" />
<polygon points="223.8,1829.6 226.5,1834.6 221,1834.6" fill="#a6433f" stroke="none" stroke-width="1" />
<polygon points="222.2,1835.7 225,1840.7 219.5,1840.7" fill="#a6433f" stroke="none" stroke-width="1" />
<polygon points="225.2,1823.4 227.9,1828.4 222.4,1828.4" fill="#a6433f" stroke="none" stroke-width="1" />
<path d="M273.4 1967.3L273.4 1976.3" stroke-width="1.9" />
<text x="273.4" y="1996.5" font-size="17" text-anchor="middle" font-weight="bold" font-style="italic" >Uqrch</text>
<path d="M249.3 1865L249.3 1865.9M249.3 1890.6L249.3 1905.6M246.4 1865L252.2 1865M246.4 1905.6L252.2 1905.6" stroke-width="1.9" />
<rect x="244.4" y="1865.9" width="9.8" height="24.7" fill="#fff" stroke="#000" stroke-width="1.8" />
<path d="M244.4 1874.7L254.2 1874.7" stroke-width="1.9" />
<circle cx="249.3" cy="1865" r="2.5" fill="#2f6a95" stroke="none" stroke-width="1" />
<circle cx="249.3" cy="1905.6" r="2.5" fill="#2f6a95" stroke="none" stroke-width="1" />
<circle cx="249.3" cy="1874.7" r="2.5" fill="#2f6a95" stroke="none" stroke-width="1" />
<circle cx="247.8" cy="1890.6" r="2.5" fill="#2f6a95" stroke="none" stroke-width="1" />
<circle cx="250.8" cy="1865.9" r="2.5" fill="#2f6a95" stroke="none" stroke-width="1" />
<path d="M265.3 1852.7L265.3 1857.1M265.3 1871.2L265.3 1877.4M262.4 1852.7L268.2 1852.7M262.4 1877.4L268.2 1877.4" stroke-width="1.9" />
<rect x="260.4" y="1857.1" width="9.8" height="14.1" fill="#fff" stroke="#000" stroke-width="1.8" />
<path d="M260.4 1861.5L270.2 1861.5" stroke-width="1.9" />
<rect x="262.8" y="1850.2" width="5" height="5" fill="#a9c0d5" stroke="none" stroke-width="1" />
<rect x="262.8" y="1874.9" width="5" height="5" fill="#a9c0d5" stroke="none" stroke-width="1" />
<rect x="261.5" y="1859" width="5" height="5" fill="#a9c0d5" stroke="none" stroke-width="1" />
<rect x="261.3" y="1868.7" width="5" height="5" fill="#a9c0d5" stroke="none" stroke-width="1" />
<rect x="264.3" y="1854.6" width="5" height="5" fill="#a9c0d5" stroke="none" stroke-width="1" />
<path d="M281.6 1846.5L281.6 1848.3M281.6 1864.2L281.6 1865.9M278.7 1846.5L284.5 1846.5M278.7 1865.9L284.5 1865.9" stroke-width="1.9" />
<rect x="276.7" y="1848.3" width="9.8" height="15.9" fill="#fff" stroke="#000" stroke-width="1.8" />
<path d="M276.7 1861.5L286.5 1861.5" stroke-width="1.9" />
<polygon points="281.6,1849.4 284.3,1844.4 278.8,1844.4" fill="#1b8b7b" stroke="none" stroke-width="1" />
<polygon points="281.6,1868.8 284.3,1863.8 278.8,1863.8" fill="#1b8b7b" stroke="none" stroke-width="1" />
<polygon points="279.2,1864.4 281.9,1859.4 276.4,1859.4" fill="#1b8b7b" stroke="none" stroke-width="1" />
<polygon points="280.1,1867 282.9,1862 277.4,1862" fill="#1b8b7b" stroke="none" stroke-width="1" />
<polygon points="283.1,1851.2 285.8,1846.2 280.3,1846.2" fill="#1b8b7b" stroke="none" stroke-width="1" />
<path d="M297.9 1815.7L297.9 1820.1M297.9 1843.9L297.9 1845.7M295 1815.7L300.8 1815.7M295 1845.7L300.8 1845.7" stroke-width="1.9" />
<rect x="293" y="1820.1" width="9.8" height="23.8" fill="#fff" stroke="#000" stroke-width="1.8" />
<path d="M293 1839.5L302.8 1839.5" stroke-width="1.9" />
<polygon points="297.9,1812.8 300.6,1817.8 295.1,1817.8" fill="#a6433f" stroke="none" stroke-width="1" />
<polygon points="297.9,1842.8 300.6,1847.8 295.1,1847.8" fill="#a6433f" stroke="none" stroke-width="1" />
<polygon points="297.3,1836.6 300,1841.6 294.5,1841.6" fill="#a6433f" stroke="none" stroke-width="1" />
<polygon points="296.4,1841 299.2,1846 293.7,1846" fill="#a6433f" stroke="none" stroke-width="1" />
<polygon points="299.4,1817.2 302.1,1822.2 296.6,1822.2" fill="#a6433f" stroke="none" stroke-width="1" />
<path d="M347.2 1967.3L347.2 1976.3" stroke-width="1.9" />
<text x="347.2" y="1996.5" font-size="17" text-anchor="middle" font-weight="bold" font-style="italic" >Cox6c</text>
<path d="M323.1 1865L323.1 1870.3M323.1 1884.4L323.1 1887.1M320.2 1865L326 1865M320.2 1887.1L326 1887.1" stroke-width="1.9" />
<rect x="318.2" y="1870.3" width="9.8" height="14.1" fill="#fff" stroke="#000" stroke-width="1.8" />
<path d="M318.2 1879.1L328 1879.1" stroke-width="1.9" />
<circle cx="323.1" cy="1865" r="2.5" fill="#2f6a95" stroke="none" stroke-width="1" />
<circle cx="323.1" cy="1887.1" r="2.5" fill="#2f6a95" stroke="none" stroke-width="1" />
<circle cx="323.5" cy="1879.1" r="2.5" fill="#2f6a95" stroke="none" stroke-width="1" />
<circle cx="321.6" cy="1884.4" r="2.5" fill="#2f6a95" stroke="none" stroke-width="1" />
<circle cx="324.6" cy="1870.3" r="2.5" fill="#2f6a95" stroke="none" stroke-width="1" />
<path d="M339.1 1850.1L339.1 1854.5M339.1 1874.7L339.1 1877.4M336.2 1850.1L342 1850.1M336.2 1877.4L342 1877.4" stroke-width="1.9" />
<rect x="334.2" y="1854.5" width="9.8" height="20.3" fill="#fff" stroke="#000" stroke-width="1.8" />
<path d="M334.2 1870.3L344 1870.3" stroke-width="1.9" />
<rect x="336.6" y="1847.6" width="5" height="5" fill="#a9c0d5" stroke="none" stroke-width="1" />
<rect x="336.6" y="1874.9" width="5" height="5" fill="#a9c0d5" stroke="none" stroke-width="1" />
<rect x="334.5" y="1867.8" width="5" height="5" fill="#a9c0d5" stroke="none" stroke-width="1" />
<rect x="335.1" y="1872.2" width="5" height="5" fill="#a9c0d5" stroke="none" stroke-width="1" />
<rect x="338.1" y="1852" width="5" height="5" fill="#a9c0d5" stroke="none" stroke-width="1" />
<path d="M355.4 1854.5L355.4 1856.2M355.4 1859.8L355.4 1861.5M352.5 1854.5L358.3 1854.5M352.5 1861.5L358.3 1861.5" stroke-width="1.9" />
<rect x="350.5" y="1856.2" width="9.8" height="3.5" fill="#fff" stroke="#000" stroke-width="1.8" />
<path d="M350.5 1858L360.3 1858" stroke-width="1.9" />
<polygon points="355.4,1857.3 358.1,1852.3 352.6,1852.3" fill="#1b8b7b" stroke="none" stroke-width="1" />
<polygon points="355.4,1864.4 358.1,1859.4 352.6,1859.4" fill="#1b8b7b" stroke="none" stroke-width="1" />
<polygon points="356.8,1860.9 359.6,1855.9 354.1,1855.9" fill="#1b8b7b" stroke="none" stroke-width="1" />
<polygon points="353.9,1862.6 356.7,1857.6 351.2,1857.6" fill="#1b8b7b" stroke="none" stroke-width="1" />
<polygon points="356.9,1859.1 359.6,1854.1 354.1,1854.1" fill="#1b8b7b" stroke="none" stroke-width="1" />
<path d="M371.7 1810.4L371.7 1826.3M371.7 1844.8L371.7 1846.5M368.8 1810.4L374.6 1810.4M368.8 1846.5L374.6 1846.5" stroke-width="1.9" />
<rect x="366.8" y="1826.3" width="9.8" height="18.5" fill="#fff" stroke="#000" stroke-width="1.8" />
<path d="M366.8 1841.2L376.6 1841.2" stroke-width="1.9" />
<polygon points="371.7,1807.5 374.4,1812.5 368.9,1812.5" fill="#a6433f" stroke="none" stroke-width="1" />
<polygon points="371.7,1843.7 374.4,1848.7 368.9,1848.7" fill="#a6433f" stroke="none" stroke-width="1" />
<polygon points="370.4,1838.4 373.1,1843.4 367.6,1843.4" fill="#a6433f" stroke="none" stroke-width="1" />
<polygon points="370.2,1841.9 373,1846.9 367.5,1846.9" fill="#a6433f" stroke="none" stroke-width="1" />
<polygon points="373.2,1823.4 375.9,1828.4 370.4,1828.4" fill="#a6433f" stroke="none" stroke-width="1" />
<path d="M421 1967.3L421 1976.3" stroke-width="1.9" />
<text x="421" y="1996.5" font-size="17" text-anchor="middle" font-weight="bold" font-style="italic" >Cox7c</text>
<path d="M396.9 1872.1L396.9 1874.7M396.9 1883.6L396.9 1885.3M394 1872.1L399.8 1872.1M394 1885.3L399.8 1885.3" stroke-width="1.9" />
<rect x="392" y="1874.7" width="9.8" height="8.8" fill="#fff" stroke="#000" stroke-width="1.8" />
<path d="M392 1879.1L401.8 1879.1" stroke-width="1.9" />
<circle cx="396.9" cy="1872.1" r="2.5" fill="#2f6a95" stroke="none" stroke-width="1" />
<circle cx="396.9" cy="1885.3" r="2.5" fill="#2f6a95" stroke="none" stroke-width="1" />
<circle cx="395.6" cy="1879.1" r="2.5" fill="#2f6a95" stroke="none" stroke-width="1" />
<circle cx="395.4" cy="1883.6" r="2.5" fill="#2f6a95" stroke="none" stroke-width="1" />
<circle cx="398.4" cy="1874.7" r="2.5" fill="#2f6a95" stroke="none" stroke-width="1" />
<path d="M412.9 1859.8L412.9 1861.5M412.9 1881.8L412.9 1889.7M410 1859.8L415.8 1859.8M410 1889.7L415.8 1889.7" stroke-width="1.9" />
<rect x="408" y="1861.5" width="9.8" height="20.3" fill="#fff" stroke="#000" stroke-width="1.8" />
<path d="M408 1879.1L417.8 1879.1" stroke-width="1.9" />
<rect x="410.4" y="1857.3" width="5" height="5" fill="#a9c0d5" stroke="none" stroke-width="1" />
<rect x="410.4" y="1887.2" width="5" height="5" fill="#a9c0d5" stroke="none" stroke-width="1" />
<rect x="408.2" y="1876.6" width="5" height="5" fill="#a9c0d5" stroke="none" stroke-width="1" />
<rect x="408.9" y="1879.3" width="5" height="5" fill="#a9c0d5" stroke="none" stroke-width="1" />
<rect x="411.9" y="1859" width="5" height="5" fill="#a9c0d5" stroke="none" stroke-width="1" />
<path d="M429.2 1841.2L429.2 1845.7M429.2 1858L429.2 1868.6M426.3 1841.2L432.1 1841.2M426.3 1868.6L432.1 1868.6" stroke-width="1.9" />
<rect x="424.3" y="1845.7" width="9.8" height="12.3" fill="#fff" stroke="#000" stroke-width="1.8" />
<path d="M424.3 1848.3L434.1 1848.3" stroke-width="1.9" />
<polygon points="429.2,1844.1 431.9,1839.1 426.4,1839.1" fill="#1b8b7b" stroke="none" stroke-width="1" />
<polygon points="429.2,1871.4 431.9,1866.4 426.4,1866.4" fill="#1b8b7b" stroke="none" stroke-width="1" />
<polygon points="431.6,1851.2 434.4,1846.2 428.9,1846.2" fill="#1b8b7b" stroke="none" stroke-width="1" />
<polygon points="427.7,1860.9 430.5,1855.9 425,1855.9" fill="#1b8b7b" stroke="none" stroke-width="1" />
<polygon points="430.7,1848.5 433.4,1843.5 427.9,1843.5" fill="#1b8b7b" stroke="none" stroke-width="1" />
<path d="M445.5 1821L445.5 1824.5M445.5 1851.8L445.5 1854.5M442.6 1821L448.4 1821M442.6 1854.5L448.4 1854.5" stroke-width="1.9" />
<rect x="440.6" y="1824.5" width="9.8" height="27.3" fill="#fff" stroke="#000" stroke-width="1.8" />
<path d="M440.6 1839.5L450.4 1839.5" stroke-width="1.9" />
<polygon points="445.5,1818.1 448.2,1823.1 442.8,1823.1" fill="#a6433f" stroke="none" stroke-width="1" />
<polygon points="445.5,1851.6 448.2,1856.6 442.8,1856.6" fill="#a6433f" stroke="none" stroke-width="1" />
<polygon points="446.7,1836.6 449.4,1841.6 443.9,1841.6" fill="#a6433f" stroke="none" stroke-width="1" />
<polygon points="444,1848.9 446.8,1853.9 441.3,1853.9" fill="#a6433f" stroke="none" stroke-width="1" />
<polygon points="447,1821.6 449.7,1826.6 444.2,1826.6" fill="#a6433f" stroke="none" stroke-width="1" />
<path d="M495.7 1967.3L495.7 1976.3" stroke-width="1.9" />
<text x="495.7" y="1996.5" font-size="17" text-anchor="middle" font-weight="bold" font-style="italic" >atp5e</text>
<path d="M471.6 1876.5L471.6 1877.4M471.6 1881.8L471.6 1883.6M468.7 1876.5L474.5 1876.5M468.7 1883.6L474.5 1883.6" stroke-width="1.9" />
<rect x="466.7" y="1877.4" width="9.8" height="4.4" fill="#fff" stroke="#000" stroke-width="1.8" />
<path d="M466.7 1879.1L476.5 1879.1" stroke-width="1.9" />
<circle cx="471.6" cy="1876.5" r="2.5" fill="#2f6a95" stroke="none" stroke-width="1" />
<circle cx="471.6" cy="1883.6" r="2.5" fill="#2f6a95" stroke="none" stroke-width="1" />
<circle cx="473.4" cy="1879.1" r="2.5" fill="#2f6a95" stroke="none" stroke-width="1" />
<circle cx="470.1" cy="1881.8" r="2.5" fill="#2f6a95" stroke="none" stroke-width="1" />
<circle cx="473.1" cy="1877.4" r="2.5" fill="#2f6a95" stroke="none" stroke-width="1" />
<path d="M487.6 1846.5L487.6 1858.9M487.6 1879.1L487.6 1888.8M484.7 1846.5L490.5 1846.5M484.7 1888.8L490.5 1888.8" stroke-width="1.9" />
<rect x="482.7" y="1858.9" width="9.8" height="20.3" fill="#fff" stroke="#000" stroke-width="1.8" />
<path d="M482.7 1872.1L492.5 1872.1" stroke-width="1.9" />
<rect x="485.1" y="1844" width="5" height="5" fill="#a9c0d5" stroke="none" stroke-width="1" />
<rect x="485.1" y="1886.3" width="5" height="5" fill="#a9c0d5" stroke="none" stroke-width="1" />
<rect x="485.7" y="1869.6" width="5" height="5" fill="#a9c0d5" stroke="none" stroke-width="1" />
<rect x="483.6" y="1876.6" width="5" height="5" fill="#a9c0d5" stroke="none" stroke-width="1" />
<rect x="486.6" y="1856.4" width="5" height="5" fill="#a9c0d5" stroke="none" stroke-width="1" />
<path d="M503.9 1876.5L503.9 1880.9M503.9 1886.2L503.9 1888.8M501 1876.5L506.8 1876.5M501 1888.8L506.8 1888.8" stroke-width="1.9" />
<rect x="499" y="1880.9" width="9.8" height="5.3" fill="#fff" stroke="#000" stroke-width="1.8" />
<path d="M499 1885.3L508.8 1885.3" stroke-width="1.9" />
<polygon points="503.9,1879.4 506.6,1874.4 501.1,1874.4" fill="#1b8b7b" stroke="none" stroke-width="1" />
<polygon points="503.9,1891.7 506.6,1886.7 501.1,1886.7" fill="#1b8b7b" stroke="none" stroke-width="1" />
<polygon points="501.6,1888.2 504.4,1883.2 498.9,1883.2" fill="#1b8b7b" stroke="none" stroke-width="1" />
<polygon points="502.4,1889.1 505.2,1884.1 499.7,1884.1" fill="#1b8b7b" stroke="none" stroke-width="1" />
<polygon points="505.4,1883.8 508.1,1878.8 502.6,1878.8" fill="#1b8b7b" stroke="none" stroke-width="1" />
<path d="M520.2 1840.4L520.2 1842.1M520.2 1858.9L520.2 1862.4M517.3 1840.4L523.1 1840.4M517.3 1862.4L523.1 1862.4" stroke-width="1.9" />
<rect x="515.3" y="1842.1" width="9.8" height="16.7" fill="#fff" stroke="#000" stroke-width="1.8" />
<path d="M515.3 1850.9L525.1 1850.9" stroke-width="1.9" />
<polygon points="520.2,1837.5 523,1842.5 517.5,1842.5" fill="#a6433f" stroke="none" stroke-width="1" />
<polygon points="520.2,1859.5 523,1864.5 517.5,1864.5" fill="#a6433f" stroke="none" stroke-width="1" />
<polygon points="519.4,1848.1 522.1,1853.1 516.6,1853.1" fill="#a6433f" stroke="none" stroke-width="1" />
<polygon points="518.7,1856 521.5,1861 516,1861" fill="#a6433f" stroke="none" stroke-width="1" />
<polygon points="521.7,1839.3 524.4,1844.3 518.9,1844.3" fill="#a6433f" stroke="none" stroke-width="1" />
<path d="M570 1967.3L570 1976.3" stroke-width="1.9" />
<text x="570" y="1996.5" font-size="17" text-anchor="middle" font-weight="bold" font-style="italic" >atp5j2</text>
<path d="M545.9 1873L545.9 1877.4M545.9 1881.8L545.9 1884.4M543 1873L548.8 1873M543 1884.4L548.8 1884.4" stroke-width="1.9" />
<rect x="541" y="1877.4" width="9.8" height="4.4" fill="#fff" stroke="#000" stroke-width="1.8" />
<path d="M541 1879.1L550.8 1879.1" stroke-width="1.9" />
<circle cx="545.9" cy="1873" r="2.5" fill="#2f6a95" stroke="none" stroke-width="1" />
<circle cx="545.9" cy="1884.4" r="2.5" fill="#2f6a95" stroke="none" stroke-width="1" />
<circle cx="545.9" cy="1879.1" r="2.5" fill="#2f6a95" stroke="none" stroke-width="1" />
<circle cx="544.4" cy="1881.8" r="2.5" fill="#2f6a95" stroke="none" stroke-width="1" />
<circle cx="547.4" cy="1877.4" r="2.5" fill="#2f6a95" stroke="none" stroke-width="1" />
<path d="M561.9 1859.8L561.9 1861.5M561.9 1888.8L561.9 1893.3M559 1859.8L564.8 1859.8M559 1893.3L564.8 1893.3" stroke-width="1.9" />
<rect x="557" y="1861.5" width="9.8" height="27.3" fill="#fff" stroke="#000" stroke-width="1.8" />
<path d="M557 1864.2L566.8 1864.2" stroke-width="1.9" />
<rect x="559.4" y="1857.3" width="5" height="5" fill="#a9c0d5" stroke="none" stroke-width="1" />
<rect x="559.4" y="1890.8" width="5" height="5" fill="#a9c0d5" stroke="none" stroke-width="1" />
<rect x="557.5" y="1861.7" width="5" height="5" fill="#a9c0d5" stroke="none" stroke-width="1" />
<rect x="557.9" y="1886.3" width="5" height="5" fill="#a9c0d5" stroke="none" stroke-width="1" />
<rect x="560.9" y="1859" width="5" height="5" fill="#a9c0d5" stroke="none" stroke-width="1" />
<path d="M578.2 1850.9L578.2 1857.1M578.2 1867.7L578.2 1873M575.3 1850.9L581.1 1850.9M575.3 1873L581.1 1873" stroke-width="1.9" />
<rect x="573.3" y="1857.1" width="9.8" height="10.6" fill="#fff" stroke="#000" stroke-width="1.8" />
<path d="M573.3 1863.3L583.1 1863.3" stroke-width="1.9" />
<polygon points="578.2,1853.8 581,1848.8 575.5,1848.8" fill="#1b8b7b" stroke="none" stroke-width="1" />
<polygon points="578.2,1875.9 581,1870.9 575.5,1870.9" fill="#1b8b7b" stroke="none" stroke-width="1" />
<polygon points="580.4,1866.2 583.2,1861.2 577.7,1861.2" fill="#1b8b7b" stroke="none" stroke-width="1" />
<polygon points="576.7,1870.6 579.5,1865.6 574,1865.6" fill="#1b8b7b" stroke="none" stroke-width="1" />
<polygon points="579.7,1860 582.4,1855 576.9,1855" fill="#1b8b7b" stroke="none" stroke-width="1" />
<path d="M594.5 1817.4L594.5 1824.5M594.5 1843.9L594.5 1847.4M591.6 1817.4L597.4 1817.4M591.6 1847.4L597.4 1847.4" stroke-width="1.9" />
<rect x="589.6" y="1824.5" width="9.8" height="19.4" fill="#fff" stroke="#000" stroke-width="1.8" />
<path d="M589.6 1835.1L599.4 1835.1" stroke-width="1.9" />
<polygon points="594.5,1814.6 597.2,1819.6 591.8,1819.6" fill="#a6433f" stroke="none" stroke-width="1" />
<polygon points="594.5,1844.5 597.2,1849.5 591.8,1849.5" fill="#a6433f" stroke="none" stroke-width="1" />
<polygon points="593.9,1832.2 596.6,1837.2 591.1,1837.2" fill="#a6433f" stroke="none" stroke-width="1" />
<polygon points="593,1841 595.8,1846 590.3,1846" fill="#a6433f" stroke="none" stroke-width="1" />
<polygon points="596,1821.6 598.7,1826.6 593.2,1826.6" fill="#a6433f" stroke="none" stroke-width="1" />
<path d="M644.7 1967.3L644.7 1976.3" stroke-width="1.9" />
<text x="644.7" y="1996.5" font-size="17" text-anchor="middle" font-weight="bold" font-style="italic" >Nampt</text>
<path d="M620.6 1857.1L620.6 1869.5M620.6 1885.3L620.6 1889.7M617.7 1857.1L623.5 1857.1M617.7 1889.7L623.5 1889.7" stroke-width="1.9" />
<rect x="615.7" y="1869.5" width="9.8" height="15.9" fill="#fff" stroke="#000" stroke-width="1.8" />
<path d="M615.7 1879.1L625.5 1879.1" stroke-width="1.9" />
<circle cx="620.6" cy="1857.1" r="2.5" fill="#2f6a95" stroke="none" stroke-width="1" />
<circle cx="620.6" cy="1889.7" r="2.5" fill="#2f6a95" stroke="none" stroke-width="1" />
<circle cx="618.9" cy="1879.1" r="2.5" fill="#2f6a95" stroke="none" stroke-width="1" />
<circle cx="619.1" cy="1885.3" r="2.5" fill="#2f6a95" stroke="none" stroke-width="1" />
<circle cx="622.1" cy="1869.5" r="2.5" fill="#2f6a95" stroke="none" stroke-width="1" />
<path d="M636.6 1888L636.6 1892.4M636.6 1902.1L636.6 1907.4M633.7 1888L639.5 1888M633.7 1907.4L639.5 1907.4" stroke-width="1.9" />
<rect x="631.7" y="1892.4" width="9.8" height="9.7" fill="#fff" stroke="#000" stroke-width="1.8" />
<path d="M631.7 1895L641.5 1895" stroke-width="1.9" />
<rect x="634.1" y="1885.5" width="5" height="5" fill="#a9c0d5" stroke="none" stroke-width="1" />
<rect x="634.1" y="1904.9" width="5" height="5" fill="#a9c0d5" stroke="none" stroke-width="1" />
<rect x="635.7" y="1892.5" width="5" height="5" fill="#a9c0d5" stroke="none" stroke-width="1" />
<rect x="632.6" y="1899.6" width="5" height="5" fill="#a9c0d5" stroke="none" stroke-width="1" />
<rect x="635.6" y="1889.9" width="5" height="5" fill="#a9c0d5" stroke="none" stroke-width="1" />
<path d="M652.9 1828.9L652.9 1834.2M652.9 1852.7L652.9 1855.3M650 1828.9L655.8 1828.9M650 1855.3L655.8 1855.3" stroke-width="1.9" />
<rect x="648" y="1834.2" width="9.8" height="18.5" fill="#fff" stroke="#000" stroke-width="1.8" />
<path d="M648 1850.1L657.8 1850.1" stroke-width="1.9" />
<polygon points="652.9,1831.8 655.7,1826.8 650.2,1826.8" fill="#1b8b7b" stroke="none" stroke-width="1" />
<polygon points="652.9,1858.2 655.7,1853.2 650.2,1853.2" fill="#1b8b7b" stroke="none" stroke-width="1" />
<polygon points="651.1,1852.9 653.8,1847.9 648.3,1847.9" fill="#1b8b7b" stroke="none" stroke-width="1" />
<polygon points="651.4,1855.6 654.2,1850.6 648.7,1850.6" fill="#1b8b7b" stroke="none" stroke-width="1" />
<polygon points="654.4,1837.1 657.1,1832.1 651.6,1832.1" fill="#1b8b7b" stroke="none" stroke-width="1" />
<path d="M669.2 1800.7L669.2 1808.6M669.2 1821L669.2 1828.9M666.3 1800.7L672.1 1800.7M666.3 1828.9L672.1 1828.9" stroke-width="1.9" />
<rect x="664.3" y="1808.6" width="9.8" height="12.3" fill="#fff" stroke="#000" stroke-width="1.8" />
<path d="M664.3 1815.7L674.1 1815.7" stroke-width="1.9" />
<polygon points="669.2,1797.8 672,1802.8 666.5,1802.8" fill="#a6433f" stroke="none" stroke-width="1" />
<polygon points="669.2,1826 672,1831 666.5,1831" fill="#a6433f" stroke="none" stroke-width="1" />
<polygon points="671.3,1812.8 674,1817.8 668.5,1817.8" fill="#a6433f" stroke="none" stroke-width="1" />
<polygon points="667.7,1818.1 670.5,1823.1 665,1823.1" fill="#a6433f" stroke="none" stroke-width="1" />
<polygon points="670.7,1805.8 673.4,1810.8 667.9,1810.8" fill="#a6433f" stroke="none" stroke-width="1" />
<path d="M718.5 1967.3L718.5 1976.3" stroke-width="1.9" />
<text x="718.5" y="1996.5" font-size="17" text-anchor="middle" font-weight="bold" font-style="italic" >Sirt1</text>
<path d="M694.4 1838.6L694.4 1848.3M694.4 1908.2L694.4 1909.1M691.5 1838.6L697.3 1838.6M691.5 1909.1L697.3 1909.1" stroke-width="1.9" />
<rect x="689.5" y="1848.3" width="9.8" height="59.9" fill="#fff" stroke="#000" stroke-width="1.8" />
<path d="M689.5 1862.4L699.3 1862.4" stroke-width="1.9" />
<circle cx="694.4" cy="1838.6" r="2.5" fill="#2f6a95" stroke="none" stroke-width="1" />
<circle cx="694.4" cy="1909.1" r="2.5" fill="#2f6a95" stroke="none" stroke-width="1" />
<circle cx="694.2" cy="1862.4" r="2.5" fill="#2f6a95" stroke="none" stroke-width="1" />
<circle cx="692.9" cy="1908.2" r="2.5" fill="#2f6a95" stroke="none" stroke-width="1" />
<circle cx="695.9" cy="1848.3" r="2.5" fill="#2f6a95" stroke="none" stroke-width="1" />
<path d="M710.4 1881.8L710.4 1891.5M710.4 1915.3L710.4 1922.3M707.5 1881.8L713.3 1881.8M707.5 1922.3L713.3 1922.3" stroke-width="1.9" />
<rect x="705.5" y="1891.5" width="9.8" height="23.8" fill="#fff" stroke="#000" stroke-width="1.8" />
<path d="M705.5 1905.6L715.3 1905.6" stroke-width="1.9" />
<rect x="707.9" y="1879.3" width="5" height="5" fill="#a9c0d5" stroke="none" stroke-width="1" />
<rect x="707.9" y="1919.8" width="5" height="5" fill="#a9c0d5" stroke="none" stroke-width="1" />
<rect x="708.2" y="1903.1" width="5" height="5" fill="#a9c0d5" stroke="none" stroke-width="1" />
<rect x="706.4" y="1912.8" width="5" height="5" fill="#a9c0d5" stroke="none" stroke-width="1" />
<rect x="709.4" y="1889" width="5" height="5" fill="#a9c0d5" stroke="none" stroke-width="1" />
<path d="M726.7 1826.3L726.7 1828.9M726.7 1861.5L726.7 1865.9M723.8 1826.3L729.6 1826.3M723.8 1865.9L729.6 1865.9" stroke-width="1.9" />
<rect x="721.8" y="1828.9" width="9.8" height="32.6" fill="#fff" stroke="#000" stroke-width="1.8" />
<path d="M721.8 1843.9L731.6 1843.9" stroke-width="1.9" />
<polygon points="726.7,1829.1 729.5,1824.1 724,1824.1" fill="#1b8b7b" stroke="none" stroke-width="1" />
<polygon points="726.7,1868.8 729.5,1863.8 724,1863.8" fill="#1b8b7b" stroke="none" stroke-width="1" />
<polygon points="725.9,1846.8 728.7,1841.8 723.2,1841.8" fill="#1b8b7b" stroke="none" stroke-width="1" />
<polygon points="725.2,1864.4 728,1859.4 722.5,1859.4" fill="#1b8b7b" stroke="none" stroke-width="1" />
<polygon points="728.2,1831.8 730.9,1826.8 725.4,1826.8" fill="#1b8b7b" stroke="none" stroke-width="1" />
<path d="M743 1802.5L743 1825.4M743 1861.5L743 1863.3M740.1 1802.5L745.9 1802.5M740.1 1863.3L745.9 1863.3" stroke-width="1.9" />
<rect x="738.1" y="1825.4" width="9.8" height="36.1" fill="#fff" stroke="#000" stroke-width="1.8" />
<path d="M738.1 1848.3L747.9 1848.3" stroke-width="1.9" />
<polygon points="743,1799.6 745.8,1804.6 740.2,1804.6" fill="#a6433f" stroke="none" stroke-width="1" />
<polygon points="743,1860.4 745.8,1865.4 740.2,1865.4" fill="#a6433f" stroke="none" stroke-width="1" />
<polygon points="742.9,1845.4 745.7,1850.4 740.2,1850.4" fill="#a6433f" stroke="none" stroke-width="1" />
<polygon points="741.5,1858.6 744.3,1863.6 738.8,1863.6" fill="#a6433f" stroke="none" stroke-width="1" />
<polygon points="744.5,1822.5 747.2,1827.5 741.7,1827.5" fill="#a6433f" stroke="none" stroke-width="1" />
<text x="40.5" y="1856" font-size="17.5" text-anchor="middle" font-weight="bold" transform="rotate(-90 40.5 1856)" >Relative expression</text>
<path d="M97.9 1814.4L132.6 1814.4" stroke-width="1.9" />
<text x="115.7" y="1790.3" font-size="10.5" text-anchor="middle" font-weight="bold" font-style="italic" >P =</text>
<text x="115.7" y="1802.8" font-size="10.5" text-anchor="middle" font-weight="bold" font-style="italic" >0.015</text>
<path d="M118.1 1769.6L147.1 1769.6" stroke-width="1.9" />
<text x="131.2" y="1744" font-size="10.5" text-anchor="middle" font-weight="bold" font-style="italic" >P =</text>
<text x="131.2" y="1756.5" font-size="10.5" text-anchor="middle" font-weight="bold" font-style="italic" >0.009</text>
<path d="M176 1806.7L209.8 1806.7" stroke-width="1.9" />
<text x="192.9" y="1782.6" font-size="10.5" text-anchor="middle" font-weight="bold" font-style="italic" >P =</text>
<text x="192.9" y="1795.1" font-size="10.5" text-anchor="middle" font-weight="bold" font-style="italic" >0.011</text>
<path d="M195.3 1766.2L224.2 1766.2" stroke-width="1.9" />
<text x="209.8" y="1741.6" font-size="10.5" text-anchor="middle" font-weight="bold" font-style="italic" >P =</text>
<text x="209.8" y="1754.1" font-size="10.5" text-anchor="middle" font-weight="bold" font-style="italic" >0.005</text>
<path d="M248.3 1844.3L281.1 1844.3" stroke-width="1.9" />
<text x="265.2" y="1820.2" font-size="10.5" text-anchor="middle" font-weight="bold" font-style="italic" >P =</text>
<text x="265.2" y="1832.7" font-size="10.5" text-anchor="middle" font-weight="bold" font-style="italic" >0.027</text>
<path d="M266.2 1806.2L296.6 1806.2" stroke-width="1.9" />
<text x="282.1" y="1782.6" font-size="10.5" text-anchor="middle" font-weight="bold" font-style="italic" >P =</text>
<text x="282.1" y="1795.1" font-size="10.5" text-anchor="middle" font-weight="bold" font-style="italic" >0.002</text>
<path d="M322.1 1841.9L354.4 1841.9" stroke-width="1.9" />
<text x="337.6" y="1817.8" font-size="10.5" text-anchor="middle" font-weight="bold" font-style="italic" >P =</text>
<text x="337.6" y="1830.3" font-size="10.5" text-anchor="middle" font-weight="bold" font-style="italic" >0.047</text>
<path d="M339 1798.5L370.3 1798.5" stroke-width="1.9" />
<text x="354.4" y="1774.4" font-size="10.5" text-anchor="middle" font-weight="bold" font-style="italic" >P =</text>
<text x="354.4" y="1786.9" font-size="10.5" text-anchor="middle" font-weight="bold" font-style="italic" >0.004</text>
<path d="M401.7 1837.1L430.6 1837.1" stroke-width="1.9" />
<text x="416.2" y="1812" font-size="10.5" text-anchor="middle" font-weight="bold" font-style="italic" >P =</text>
<text x="416.2" y="1824.5" font-size="10.5" text-anchor="middle" font-weight="bold" font-style="italic" >0.009</text>
<path d="M415.7 1797.5L443.6 1797.5" stroke-width="1.9" />
<text x="430.1" y="1772.9" font-size="10.5" text-anchor="middle" font-weight="bold" font-style="italic" >P =</text>
<text x="430.1" y="1785.4" font-size="10.5" text-anchor="middle" font-weight="bold" font-style="italic" >0.004</text>
<path d="M489.5 1835.6L520.8 1835.6" stroke-width="1.9" />
<text x="505.4" y="1811.5" font-size="10.5" text-anchor="middle" font-weight="bold" font-style="italic" >P =</text>
<text x="505.4" y="1824" font-size="10.5" text-anchor="middle" font-weight="bold" font-style="italic" >0.031</text>
<path d="M565.2 1808.1L593.1 1808.1" stroke-width="1.9" />
<text x="578.7" y="1783.1" font-size="10.5" text-anchor="middle" font-weight="bold" font-style="italic" >P =</text>
<text x="578.7" y="1795.6" font-size="10.5" text-anchor="middle" font-weight="bold" font-style="italic" >0.038</text>
<path d="M619.7 1812L648.6 1812" stroke-width="1.9" />
<text x="634.1" y="1787.9" font-size="10.5" text-anchor="middle" font-weight="bold" font-style="italic" >P =</text>
<text x="634.1" y="1800.4" font-size="10.5" text-anchor="middle" font-weight="bold" font-style="italic" >0.001</text>
<path d="M629.3 1772.9L659.2 1772.9" stroke-width="1.9" />
<text x="643.8" y="1747.9" font-size="10.5" text-anchor="middle" font-weight="bold" font-style="italic" >P &lt;</text>
<text x="643.8" y="1760.4" font-size="10.5" text-anchor="middle" font-weight="bold" font-style="italic" >0.0001</text>
<path d="M709.8 1786.9L742.6 1786.9" stroke-width="1.9" />
<text x="726.2" y="1762.3" font-size="10.5" text-anchor="middle" font-weight="bold" font-style="italic" >P =</text>
<text x="726.2" y="1774.8" font-size="10.5" text-anchor="middle" font-weight="bold" font-style="italic" >0.003</text>
<rect x="103.7" y="1710.7" width="22.6" height="9.4" fill="#fff" stroke="#000" stroke-width="1.9" />
<text x="142.3" y="1721.3" font-size="17.9" font-weight="bold" fill="#2f6a95" ><tspan font-style="italic">P. vulgatus</tspan></text>
<rect x="247.4" y="1710.7" width="22.6" height="9.4" fill="#fff" stroke="#000" stroke-width="1.9" />
<text x="286" y="1721.3" font-size="17.9" font-weight="bold" fill="#a9c0d5" ><tspan font-style="italic">P. vulgatus</tspan>+MET</text>
<rect x="441.2" y="1710.7" width="22.6" height="9.4" fill="#fff" stroke="#000" stroke-width="1.9" />
<text x="477.4" y="1721.3" font-size="17.9" font-weight="bold" fill="#1b8b7b" >HK-<tspan font-style="italic">P. vulgatus</tspan></text>
<rect x="621.1" y="1710.7" width="22.6" height="9.4" fill="#fff" stroke="#000" stroke-width="1.9" />
<text x="657.3" y="1721.3" font-size="17.9" font-weight="bold" fill="#a6433f" >HK-<tspan font-style="italic">P. vulgatus</tspan>+MET</text>
<text x="850.5" y="1724.5" font-size="32" font-weight="bold" >L</text>
<path d="M905.6 1745.4L905.6 1967.9M897.6 1967.1L905.6 1967.1" stroke-width="1.9" />
<text x="896.1" y="1973.4" font-size="17.5" text-anchor="end" font-weight="bold" >0</text>
<path d="M897.6 1911.9L905.6 1911.9" stroke-width="1.9" />
<text x="896.1" y="1918.1" font-size="17.5" text-anchor="end" font-weight="bold" >1</text>
<path d="M897.6 1856.7L905.6 1856.7" stroke-width="1.9" />
<text x="896.1" y="1862.9" font-size="17.5" text-anchor="end" font-weight="bold" >2</text>
<path d="M897.6 1801.4L905.6 1801.4" stroke-width="1.9" />
<text x="896.1" y="1807.7" font-size="17.5" text-anchor="end" font-weight="bold" >3</text>
<path d="M897.6 1746.2L905.6 1746.2" stroke-width="1.9" />
<text x="896.1" y="1752.5" font-size="17.5" text-anchor="end" font-weight="bold" >4</text>
<path d="M895 1967.1L1572.1 1967.1" stroke-width="2.1" />
<path d="M944.2 1967.1L944.2 1976.1" stroke-width="1.9" />
<text x="944.2" y="1996.5" font-size="17" text-anchor="middle" font-weight="bold" font-style="italic" >Me1</text>
<path d="M917.7 1898.1L917.7 1900.8M917.7 1921.3L917.7 1928.4M914.5 1898.1L920.9 1898.1M914.5 1928.4L920.9 1928.4" stroke-width="1.9" />
<rect x="912.4" y="1900.8" width="10.6" height="20.4" fill="#fff" stroke="#000" stroke-width="1.8" />
<path d="M912.4 1910.2L923 1910.2" stroke-width="1.9" />
<circle cx="917.7" cy="1898.1" r="2.5" fill="#2f6a95" stroke="none" stroke-width="1" />
<circle cx="917.7" cy="1928.4" r="2.5" fill="#2f6a95" stroke="none" stroke-width="1" />
<circle cx="915.1" cy="1910.2" r="2.5" fill="#2f6a95" stroke="none" stroke-width="1" />
<circle cx="916.1" cy="1921.3" r="2.5" fill="#2f6a95" stroke="none" stroke-width="1" />
<circle cx="919.3" cy="1900.8" r="2.5" fill="#2f6a95" stroke="none" stroke-width="1" />
<path d="M935.2 1818L935.2 1836.2M935.2 1917.4L935.2 1922.9M932 1818L938.4 1818M932 1922.9L938.4 1922.9" stroke-width="1.9" />
<rect x="929.9" y="1836.2" width="10.6" height="81.2" fill="#fff" stroke="#000" stroke-width="1.8" />
<path d="M929.9 1881.5L940.5 1881.5" stroke-width="1.9" />
<rect x="932.7" y="1815.5" width="5" height="5" fill="#a9c0d5" stroke="none" stroke-width="1" />
<rect x="932.7" y="1920.4" width="5" height="5" fill="#a9c0d5" stroke="none" stroke-width="1" />
<rect x="930.6" y="1879" width="5" height="5" fill="#a9c0d5" stroke="none" stroke-width="1" />
<rect x="931.1" y="1914.9" width="5" height="5" fill="#a9c0d5" stroke="none" stroke-width="1" />
<rect x="934.3" y="1833.7" width="5" height="5" fill="#a9c0d5" stroke="none" stroke-width="1" />
<path d="M953.2 1842.9L953.2 1848.4M953.2 1881.5L953.2 1884.3M950 1842.9L956.4 1842.9M950 1884.3L956.4 1884.3" stroke-width="1.9" />
<rect x="947.9" y="1848.4" width="10.6" height="33.1" fill="#fff" stroke="#000" stroke-width="1.8" />
<path d="M947.9 1862.2L958.5 1862.2" stroke-width="1.9" />
<polygon points="953.2,1845.7 956,1840.7 950.5,1840.7" fill="#1b8b7b" stroke="none" stroke-width="1" />
<polygon points="953.2,1887.1 956,1882.1 950.5,1882.1" fill="#1b8b7b" stroke="none" stroke-width="1" />
<polygon points="952.6,1865.1 955.4,1860.1 949.9,1860.1" fill="#1b8b7b" stroke="none" stroke-width="1" />
<polygon points="951.6,1884.4 954.4,1879.4 948.9,1879.4" fill="#1b8b7b" stroke="none" stroke-width="1" />
<polygon points="954.8,1851.3 957.5,1846.3 952,1846.3" fill="#1b8b7b" stroke="none" stroke-width="1" />
<path d="M970.7 1939.5L970.7 1942.3M970.7 1952.2L970.7 1955M967.5 1939.5L973.9 1939.5M967.5 1955L973.9 1955" stroke-width="1.9" />
<rect x="965.4" y="1942.3" width="10.6" height="9.9" fill="#fff" stroke="#000" stroke-width="1.8" />
<path d="M965.4 1945L976 1945" stroke-width="1.9" />
<polygon points="970.7,1936.6 973.5,1941.6 968,1941.6" fill="#a6433f" stroke="none" stroke-width="1" />
<polygon points="970.7,1952.1 973.5,1957.1 968,1957.1" fill="#a6433f" stroke="none" stroke-width="1" />
<polygon points="971.7,1942.1 974.4,1947.1 968.9,1947.1" fill="#a6433f" stroke="none" stroke-width="1" />
<polygon points="969.1,1949.3 971.9,1954.3 966.4,1954.3" fill="#a6433f" stroke="none" stroke-width="1" />
<polygon points="972.3,1939.4 975,1944.4 969.5,1944.4" fill="#a6433f" stroke="none" stroke-width="1" />
<path d="M1028 1967.1L1028 1976.1" stroke-width="1.9" />
<text x="1028" y="1996.5" font-size="17" text-anchor="middle" font-weight="bold" font-style="italic" >Pklr</text>
<path d="M1001.5 1889.8L1001.5 1890.9M1001.5 1924L1001.5 1935.1M998.3 1889.8L1004.7 1889.8M998.3 1935.1L1004.7 1935.1" stroke-width="1.9" />
<rect x="996.2" y="1890.9" width="10.6" height="33.1" fill="#fff" stroke="#000" stroke-width="1.8" />
<path d="M996.2 1914.6L1006.8 1914.6" stroke-width="1.9" />
<circle cx="1001.5" cy="1889.8" r="2.5" fill="#2f6a95" stroke="none" stroke-width="1" />
<circle cx="1001.5" cy="1935.1" r="2.5" fill="#2f6a95" stroke="none" stroke-width="1" />
<circle cx="999.6" cy="1914.6" r="2.5" fill="#2f6a95" stroke="none" stroke-width="1" />
<circle cx="999.9" cy="1924" r="2.5" fill="#2f6a95" stroke="none" stroke-width="1" />
<circle cx="1003.1" cy="1890.9" r="2.5" fill="#2f6a95" stroke="none" stroke-width="1" />
<path d="M1019 1792.1L1019 1839M1019 1915.7L1019 1921.3M1015.8 1792.1L1022.2 1792.1M1015.8 1921.3L1022.2 1921.3" stroke-width="1.9" />
<rect x="1013.7" y="1839" width="10.6" height="76.8" fill="#fff" stroke="#000" stroke-width="1.8" />
<path d="M1013.7 1894.2L1024.3 1894.2" stroke-width="1.9" />
<rect x="1016.5" y="1789.6" width="5" height="5" fill="#a9c0d5" stroke="none" stroke-width="1" />
<rect x="1016.5" y="1918.8" width="5" height="5" fill="#a9c0d5" stroke="none" stroke-width="1" />
<rect x="1014.4" y="1891.7" width="5" height="5" fill="#a9c0d5" stroke="none" stroke-width="1" />
<rect x="1014.9" y="1913.2" width="5" height="5" fill="#a9c0d5" stroke="none" stroke-width="1" />
<rect x="1018.1" y="1836.5" width="5" height="5" fill="#a9c0d5" stroke="none" stroke-width="1" />
<path d="M1037 1906.4L1037 1910.8M1037 1914.6L1037 1917.4M1033.8 1906.4L1040.2 1906.4M1033.8 1917.4L1040.2 1917.4" stroke-width="1.9" />
<rect x="1031.7" y="1910.8" width="10.6" height="3.9" fill="#fff" stroke="#000" stroke-width="1.8" />
<path d="M1031.7 1911.9L1042.3 1911.9" stroke-width="1.9" />
<polygon points="1037,1909.2 1039.8,1904.2 1034.2,1904.2" fill="#1b8b7b" stroke="none" stroke-width="1" />
<polygon points="1037,1920.3 1039.8,1915.3 1034.2,1915.3" fill="#1b8b7b" stroke="none" stroke-width="1" />
<polygon points="1035.6,1914.8 1038.3,1909.8 1032.8,1909.8" fill="#1b8b7b" stroke="none" stroke-width="1" />
<polygon points="1035.4,1917.5 1038.2,1912.5 1032.7,1912.5" fill="#1b8b7b" stroke="none" stroke-width="1" />
<polygon points="1038.6,1913.7 1041.3,1908.7 1035.8,1908.7" fill="#1b8b7b" stroke="none" stroke-width="1" />
<path d="M1054.5 1943.4L1054.5 1946.7M1054.5 1953.3L1054.5 1957.7M1051.3 1943.4L1057.7 1943.4M1051.3 1957.7L1057.7 1957.7" stroke-width="1.9" />
<rect x="1049.2" y="1946.7" width="10.6" height="6.6" fill="#fff" stroke="#000" stroke-width="1.8" />
<path d="M1049.2 1949.4L1059.8 1949.4" stroke-width="1.9" />
<polygon points="1054.5,1940.5 1057.2,1945.5 1051.8,1945.5" fill="#a6433f" stroke="none" stroke-width="1" />
<polygon points="1054.5,1954.8 1057.2,1959.8 1051.8,1959.8" fill="#a6433f" stroke="none" stroke-width="1" />
<polygon points="1055.9,1946.6 1058.6,1951.6 1053.1,1951.6" fill="#a6433f" stroke="none" stroke-width="1" />
<polygon points="1052.9,1950.4 1055.7,1955.4 1050.2,1955.4" fill="#a6433f" stroke="none" stroke-width="1" />
<polygon points="1056.1,1943.8 1058.8,1948.8 1053.3,1948.8" fill="#a6433f" stroke="none" stroke-width="1" />
<path d="M1112.2 1967.1L1112.2 1976.1" stroke-width="1.9" />
<text x="1112.2" y="1996.5" font-size="17" text-anchor="middle" font-weight="bold" font-style="italic" >Fasn</text>
<path d="M1085.7 1892.6L1085.7 1901.9M1085.7 1920.2L1085.7 1921.8M1082.5 1892.6L1088.9 1892.6M1082.5 1921.8L1088.9 1921.8" stroke-width="1.9" />
<rect x="1080.4" y="1901.9" width="10.6" height="18.2" fill="#fff" stroke="#000" stroke-width="1.8" />
<path d="M1080.4 1911.9L1091 1911.9" stroke-width="1.9" />
<circle cx="1085.7" cy="1892.6" r="2.5" fill="#2f6a95" stroke="none" stroke-width="1" />
<circle cx="1085.7" cy="1921.8" r="2.5" fill="#2f6a95" stroke="none" stroke-width="1" />
<circle cx="1083.8" cy="1911.9" r="2.5" fill="#2f6a95" stroke="none" stroke-width="1" />
<circle cx="1084.1" cy="1920.2" r="2.5" fill="#2f6a95" stroke="none" stroke-width="1" />
<circle cx="1087.3" cy="1901.9" r="2.5" fill="#2f6a95" stroke="none" stroke-width="1" />
<path d="M1103.2 1853.9L1103.2 1878.7M1103.2 1925.7L1103.2 1928.4M1100 1853.9L1106.4 1853.9M1100 1928.4L1106.4 1928.4" stroke-width="1.9" />
<rect x="1097.9" y="1878.7" width="10.6" height="46.9" fill="#fff" stroke="#000" stroke-width="1.8" />
<path d="M1097.9 1911.9L1108.5 1911.9" stroke-width="1.9" />
<rect x="1100.7" y="1851.4" width="5" height="5" fill="#a9c0d5" stroke="none" stroke-width="1" />
<rect x="1100.7" y="1925.9" width="5" height="5" fill="#a9c0d5" stroke="none" stroke-width="1" />
<rect x="1102" y="1909.4" width="5" height="5" fill="#a9c0d5" stroke="none" stroke-width="1" />
<rect x="1099.1" y="1923.2" width="5" height="5" fill="#a9c0d5" stroke="none" stroke-width="1" />
<rect x="1102.3" y="1876.2" width="5" height="5" fill="#a9c0d5" stroke="none" stroke-width="1" />
<path d="M1121.2 1893.7L1121.2 1903.6M1121.2 1914.6L1121.2 1920.2M1118 1893.7L1124.4 1893.7M1118 1920.2L1124.4 1920.2" stroke-width="1.9" />
<rect x="1115.9" y="1903.6" width="10.6" height="11" fill="#fff" stroke="#000" stroke-width="1.8" />
<path d="M1115.9 1909.1L1126.5 1909.1" stroke-width="1.9" />
<polygon points="1121.2,1896.5 1124,1891.5 1118.5,1891.5" fill="#1b8b7b" stroke="none" stroke-width="1" />
<polygon points="1121.2,1923 1124,1918 1118.5,1918" fill="#1b8b7b" stroke="none" stroke-width="1" />
<polygon points="1122.1,1912 1124.8,1907 1119.3,1907" fill="#1b8b7b" stroke="none" stroke-width="1" />
<polygon points="1119.6,1917.5 1122.4,1912.5 1116.9,1912.5" fill="#1b8b7b" stroke="none" stroke-width="1" />
<polygon points="1122.8,1906.5 1125.5,1901.5 1120,1901.5" fill="#1b8b7b" stroke="none" stroke-width="1" />
<path d="M1138.7 1956.1L1138.7 1957.2M1138.7 1959.9L1138.7 1961.6M1135.5 1956.1L1141.9 1956.1M1135.5 1961.6L1141.9 1961.6" stroke-width="1.9" />
<rect x="1133.4" y="1957.2" width="10.6" height="2.8" fill="#fff" stroke="#000" stroke-width="1.8" />
<path d="M1133.4 1958.8L1144 1958.8" stroke-width="1.9" />
<polygon points="1138.7,1953.2 1141.5,1958.2 1136,1958.2" fill="#a6433f" stroke="none" stroke-width="1" />
<polygon points="1138.7,1958.7 1141.5,1963.7 1136,1963.7" fill="#a6433f" stroke="none" stroke-width="1" />
<polygon points="1136.8,1955.9 1139.5,1960.9 1134,1960.9" fill="#a6433f" stroke="none" stroke-width="1" />
<polygon points="1137.1,1957 1139.9,1962 1134.4,1962" fill="#a6433f" stroke="none" stroke-width="1" />
<polygon points="1140.3,1954.3 1143,1959.3 1137.5,1959.3" fill="#a6433f" stroke="none" stroke-width="1" />
<path d="M1195.9 1967.1L1195.9 1976.1" stroke-width="1.9" />
<text x="1195.9" y="1996.5" font-size="17" text-anchor="middle" font-weight="bold" font-style="italic" >Scd1</text>
<path d="M1169.4 1899.2L1169.4 1903.6M1169.4 1916.3L1169.4 1922.9M1166.2 1899.2L1172.6 1899.2M1166.2 1922.9L1172.6 1922.9" stroke-width="1.9" />
<rect x="1164.1" y="1903.6" width="10.6" height="12.7" fill="#fff" stroke="#000" stroke-width="1.8" />
<path d="M1164.1 1911.9L1174.7 1911.9" stroke-width="1.9" />
<circle cx="1169.4" cy="1899.2" r="2.5" fill="#2f6a95" stroke="none" stroke-width="1" />
<circle cx="1169.4" cy="1922.9" r="2.5" fill="#2f6a95" stroke="none" stroke-width="1" />
<circle cx="1169.6" cy="1911.9" r="2.5" fill="#2f6a95" stroke="none" stroke-width="1" />
<circle cx="1167.8" cy="1916.3" r="2.5" fill="#2f6a95" stroke="none" stroke-width="1" />
<circle cx="1171" cy="1903.6" r="2.5" fill="#2f6a95" stroke="none" stroke-width="1" />
<path d="M1186.9 1873.2L1186.9 1882.6M1186.9 1941.1L1186.9 1945M1183.7 1873.2L1190.1 1873.2M1183.7 1945L1190.1 1945" stroke-width="1.9" />
<rect x="1181.6" y="1882.6" width="10.6" height="58.5" fill="#fff" stroke="#000" stroke-width="1.8" />
<path d="M1181.6 1939.5L1192.2 1939.5" stroke-width="1.9" />
<rect x="1184.4" y="1870.7" width="5" height="5" fill="#a9c0d5" stroke="none" stroke-width="1" />
<rect x="1184.4" y="1942.5" width="5" height="5" fill="#a9c0d5" stroke="none" stroke-width="1" />
<rect x="1184.1" y="1937" width="5" height="5" fill="#a9c0d5" stroke="none" stroke-width="1" />
<rect x="1182.8" y="1938.6" width="5" height="5" fill="#a9c0d5" stroke="none" stroke-width="1" />
<rect x="1186" y="1880.1" width="5" height="5" fill="#a9c0d5" stroke="none" stroke-width="1" />
<path d="M1204.9 1876L1204.9 1877.1M1204.9 1910.8L1204.9 1922.9M1201.7 1876L1208.1 1876M1201.7 1922.9L1208.1 1922.9" stroke-width="1.9" />
<rect x="1199.6" y="1877.1" width="10.6" height="33.7" fill="#fff" stroke="#000" stroke-width="1.8" />
<path d="M1199.6 1889.8L1210.2 1889.8" stroke-width="1.9" />
<polygon points="1204.9,1878.9 1207.7,1873.9 1202.2,1873.9" fill="#1b8b7b" stroke="none" stroke-width="1" />
<polygon points="1204.9,1925.8 1207.7,1920.8 1202.2,1920.8" fill="#1b8b7b" stroke="none" stroke-width="1" />
<polygon points="1204.4,1892.7 1207.2,1887.7 1201.7,1887.7" fill="#1b8b7b" stroke="none" stroke-width="1" />
<polygon points="1203.3,1913.7 1206.1,1908.7 1200.6,1908.7" fill="#1b8b7b" stroke="none" stroke-width="1" />
<polygon points="1206.5,1880 1209.2,1875 1203.7,1875" fill="#1b8b7b" stroke="none" stroke-width="1" />
<path d="M1222.4 1958.8L1222.4 1959.9M1222.4 1963.2L1222.4 1965.4M1219.2 1958.8L1225.6 1958.8M1219.2 1965.4L1225.6 1965.4" stroke-width="1.9" />
<rect x="1217.1" y="1959.9" width="10.6" height="3.3" fill="#fff" stroke="#000" stroke-width="1.8" />
<path d="M1217.1 1961.6L1227.7 1961.6" stroke-width="1.9" />
<polygon points="1222.4,1955.9 1225.2,1960.9 1219.7,1960.9" fill="#a6433f" stroke="none" stroke-width="1" />
<polygon points="1222.4,1962.6 1225.2,1967.6 1219.7,1967.6" fill="#a6433f" stroke="none" stroke-width="1" />
<polygon points="1225,1958.7 1227.8,1963.7 1222.3,1963.7" fill="#a6433f" stroke="none" stroke-width="1" />
<polygon points="1220.8,1960.4 1223.6,1965.4 1218.1,1965.4" fill="#a6433f" stroke="none" stroke-width="1" />
<polygon points="1224,1957 1226.7,1962 1221.2,1962" fill="#a6433f" stroke="none" stroke-width="1" />
<path d="M1279.6 1967.1L1279.6 1976.1" stroke-width="1.9" />
<text x="1279.6" y="1996.5" font-size="17" text-anchor="middle" font-weight="bold" font-style="italic" >Pepck</text>
<path d="M1253.1 1905.3L1253.1 1907.5M1253.1 1917.4L1253.1 1922.9M1249.9 1905.3L1256.3 1905.3M1249.9 1922.9L1256.3 1922.9" stroke-width="1.9" />
<rect x="1247.8" y="1907.5" width="10.6" height="9.9" fill="#fff" stroke="#000" stroke-width="1.8" />
<path d="M1247.8 1911.9L1258.4 1911.9" stroke-width="1.9" />
<circle cx="1253.1" cy="1905.3" r="2.5" fill="#2f6a95" stroke="none" stroke-width="1" />
<circle cx="1253.1" cy="1922.9" r="2.5" fill="#2f6a95" stroke="none" stroke-width="1" />
<circle cx="1250.9" cy="1911.9" r="2.5" fill="#2f6a95" stroke="none" stroke-width="1" />
<circle cx="1251.5" cy="1917.4" r="2.5" fill="#2f6a95" stroke="none" stroke-width="1" />
<circle cx="1254.7" cy="1907.5" r="2.5" fill="#2f6a95" stroke="none" stroke-width="1" />
<path d="M1270.6 1878.7L1270.6 1879.9M1270.6 1917.4L1270.6 1921.3M1267.4 1878.7L1273.8 1878.7M1267.4 1921.3L1273.8 1921.3" stroke-width="1.9" />
<rect x="1265.3" y="1879.9" width="10.6" height="37.5" fill="#fff" stroke="#000" stroke-width="1.8" />
<path d="M1265.3 1889.8L1275.9 1889.8" stroke-width="1.9" />
<rect x="1268.1" y="1876.2" width="5" height="5" fill="#a9c0d5" stroke="none" stroke-width="1" />
<rect x="1268.1" y="1918.8" width="5" height="5" fill="#a9c0d5" stroke="none" stroke-width="1" />
<rect x="1265.6" y="1887.3" width="5" height="5" fill="#a9c0d5" stroke="none" stroke-width="1" />
<rect x="1266.5" y="1914.9" width="5" height="5" fill="#a9c0d5" stroke="none" stroke-width="1" />
<rect x="1269.7" y="1877.4" width="5" height="5" fill="#a9c0d5" stroke="none" stroke-width="1" />
<path d="M1288.6 1911.9L1288.6 1913M1288.6 1925.7L1288.6 1928.4M1285.4 1911.9L1291.8 1911.9M1285.4 1928.4L1291.8 1928.4" stroke-width="1.9" />
<rect x="1283.3" y="1913" width="10.6" height="12.7" fill="#fff" stroke="#000" stroke-width="1.8" />
<path d="M1283.3 1917.4L1293.9 1917.4" stroke-width="1.9" />
<polygon points="1288.6,1914.8 1291.3,1909.8 1285.8,1909.8" fill="#1b8b7b" stroke="none" stroke-width="1" />
<polygon points="1288.6,1931.3 1291.3,1926.3 1285.8,1926.3" fill="#1b8b7b" stroke="none" stroke-width="1" />
<polygon points="1290.9,1920.3 1293.7,1915.3 1288.2,1915.3" fill="#1b8b7b" stroke="none" stroke-width="1" />
<polygon points="1287,1928.6 1289.8,1923.6 1284.3,1923.6" fill="#1b8b7b" stroke="none" stroke-width="1" />
<polygon points="1290.2,1915.9 1292.9,1910.9 1287.4,1910.9" fill="#1b8b7b" stroke="none" stroke-width="1" />
<path d="M1306.1 1953.3L1306.1 1955M1306.1 1964.3L1306.1 1966M1302.9 1953.3L1309.3 1953.3M1302.9 1966L1309.3 1966" stroke-width="1.9" />
<rect x="1300.8" y="1955" width="10.6" height="9.4" fill="#fff" stroke="#000" stroke-width="1.8" />
<path d="M1300.8 1960.5L1311.4 1960.5" stroke-width="1.9" />
<polygon points="1306.1,1950.4 1308.8,1955.4 1303.3,1955.4" fill="#a6433f" stroke="none" stroke-width="1" />
<polygon points="1306.1,1963.1 1308.8,1968.1 1303.3,1968.1" fill="#a6433f" stroke="none" stroke-width="1" />
<polygon points="1305.6,1957.6 1308.3,1962.6 1302.8,1962.6" fill="#a6433f" stroke="none" stroke-width="1" />
<polygon points="1304.5,1961.5 1307.3,1966.5 1301.8,1966.5" fill="#a6433f" stroke="none" stroke-width="1" />
<polygon points="1307.7,1952.1 1310.4,1957.1 1304.9,1957.1" fill="#a6433f" stroke="none" stroke-width="1" />
<path d="M1364.4 1967.1L1364.4 1976.1" stroke-width="1.9" />
<text x="1364.4" y="1996.5" font-size="17" text-anchor="middle" font-weight="bold" font-style="italic" >G6pase</text>
<path d="M1337.9 1881.5L1337.9 1891.4M1337.9 1924L1337.9 1934M1334.7 1881.5L1341.1 1881.5M1334.7 1934L1341.1 1934" stroke-width="1.9" />
<rect x="1332.6" y="1891.4" width="10.6" height="32.6" fill="#fff" stroke="#000" stroke-width="1.8" />
<path d="M1332.6 1911.9L1343.2 1911.9" stroke-width="1.9" />
<circle cx="1337.9" cy="1881.5" r="2.5" fill="#2f6a95" stroke="none" stroke-width="1" />
<circle cx="1337.9" cy="1934" r="2.5" fill="#2f6a95" stroke="none" stroke-width="1" />
<circle cx="1336.3" cy="1911.9" r="2.5" fill="#2f6a95" stroke="none" stroke-width="1" />
<circle cx="1336.3" cy="1924" r="2.5" fill="#2f6a95" stroke="none" stroke-width="1" />
<circle cx="1339.5" cy="1891.4" r="2.5" fill="#2f6a95" stroke="none" stroke-width="1" />
<path d="M1355.4 1906.4L1355.4 1906.4M1355.4 1910.2L1355.4 1910.2M1352.2 1906.4L1358.6 1906.4M1352.2 1910.2L1358.6 1910.2" stroke-width="1.9" />
<rect x="1350.1" y="1906.4" width="10.6" height="3.9" fill="#fff" stroke="#000" stroke-width="1.8" />
<path d="M1350.1 1908.6L1360.7 1908.6" stroke-width="1.9" />
<rect x="1352.9" y="1903.9" width="5" height="5" fill="#a9c0d5" stroke="none" stroke-width="1" />
<rect x="1352.9" y="1907.7" width="5" height="5" fill="#a9c0d5" stroke="none" stroke-width="1" />
<rect x="1352" y="1906.1" width="5" height="5" fill="#a9c0d5" stroke="none" stroke-width="1" />
<rect x="1351.3" y="1907.7" width="5" height="5" fill="#a9c0d5" stroke="none" stroke-width="1" />
<rect x="1354.5" y="1903.9" width="5" height="5" fill="#a9c0d5" stroke="none" stroke-width="1" />
<path d="M1373.4 1888.7L1373.4 1900.8M1373.4 1922.9L1373.4 1924.6M1370.2 1888.7L1376.6 1888.7M1370.2 1924.6L1376.6 1924.6" stroke-width="1.9" />
<rect x="1368.1" y="1900.8" width="10.6" height="22.1" fill="#fff" stroke="#000" stroke-width="1.8" />
<path d="M1368.1 1920.2L1378.7 1920.2" stroke-width="1.9" />
<polygon points="1373.4,1891.6 1376.2,1886.6 1370.7,1886.6" fill="#1b8b7b" stroke="none" stroke-width="1" />
<polygon points="1373.4,1927.5 1376.2,1922.5 1370.7,1922.5" fill="#1b8b7b" stroke="none" stroke-width="1" />
<polygon points="1372.7,1923 1375.4,1918 1369.9,1918" fill="#1b8b7b" stroke="none" stroke-width="1" />
<polygon points="1371.8,1925.8 1374.6,1920.8 1369.1,1920.8" fill="#1b8b7b" stroke="none" stroke-width="1" />
<polygon points="1375,1903.7 1377.7,1898.7 1372.2,1898.7" fill="#1b8b7b" stroke="none" stroke-width="1" />
<path d="M1390.9 1942.3L1390.9 1943.4M1390.9 1946.1L1390.9 1947.8M1387.7 1942.3L1394.1 1942.3M1387.7 1947.8L1394.1 1947.8" stroke-width="1.9" />
<rect x="1385.6" y="1943.4" width="10.6" height="2.8" fill="#fff" stroke="#000" stroke-width="1.8" />
<path d="M1385.6 1945L1396.2 1945" stroke-width="1.9" />
<polygon points="1390.9,1939.4 1393.7,1944.4 1388.2,1944.4" fill="#a6433f" stroke="none" stroke-width="1" />
<polygon points="1390.9,1944.9 1393.7,1949.9 1388.2,1949.9" fill="#a6433f" stroke="none" stroke-width="1" />
<polygon points="1393.3,1942.1 1396.1,1947.1 1390.6,1947.1" fill="#a6433f" stroke="none" stroke-width="1" />
<polygon points="1389.3,1943.2 1392.1,1948.2 1386.6,1948.2" fill="#a6433f" stroke="none" stroke-width="1" />
<polygon points="1392.5,1940.5 1395.2,1945.5 1389.7,1945.5" fill="#a6433f" stroke="none" stroke-width="1" />
<path d="M1447.6 1967.1L1447.6 1976.1" stroke-width="1.9" />
<text x="1447.6" y="1996.5" font-size="17" text-anchor="middle" font-weight="bold" font-style="italic" >Fatp2</text>
<path d="M1421.1 1899.2L1421.1 1905.3M1421.1 1919.1L1421.1 1922.9M1417.9 1899.2L1424.3 1899.2M1417.9 1922.9L1424.3 1922.9" stroke-width="1.9" />
<rect x="1415.8" y="1905.3" width="10.6" height="13.8" fill="#fff" stroke="#000" stroke-width="1.8" />
<path d="M1415.8 1911.9L1426.4 1911.9" stroke-width="1.9" />
<circle cx="1421.1" cy="1899.2" r="2.5" fill="#2f6a95" stroke="none" stroke-width="1" />
<circle cx="1421.1" cy="1922.9" r="2.5" fill="#2f6a95" stroke="none" stroke-width="1" />
<circle cx="1419.6" cy="1911.9" r="2.5" fill="#2f6a95" stroke="none" stroke-width="1" />
<circle cx="1419.5" cy="1919.1" r="2.5" fill="#2f6a95" stroke="none" stroke-width="1" />
<circle cx="1422.7" cy="1905.3" r="2.5" fill="#2f6a95" stroke="none" stroke-width="1" />
<path d="M1438.6 1903.6L1438.6 1910.2M1438.6 1936.7L1438.6 1943.4M1435.4 1903.6L1441.8 1903.6M1435.4 1943.4L1441.8 1943.4" stroke-width="1.9" />
<rect x="1433.3" y="1910.2" width="10.6" height="26.5" fill="#fff" stroke="#000" stroke-width="1.8" />
<path d="M1433.3 1922.9L1443.9 1922.9" stroke-width="1.9" />
<rect x="1436.1" y="1901.1" width="5" height="5" fill="#a9c0d5" stroke="none" stroke-width="1" />
<rect x="1436.1" y="1940.9" width="5" height="5" fill="#a9c0d5" stroke="none" stroke-width="1" />
<rect x="1434.6" y="1920.4" width="5" height="5" fill="#a9c0d5" stroke="none" stroke-width="1" />
<rect x="1434.5" y="1934.2" width="5" height="5" fill="#a9c0d5" stroke="none" stroke-width="1" />
<rect x="1437.7" y="1907.7" width="5" height="5" fill="#a9c0d5" stroke="none" stroke-width="1" />
<path d="M1456.6 1898.1L1456.6 1902.5M1456.6 1911.9L1456.6 1917.4M1453.4 1898.1L1459.8 1898.1M1453.4 1917.4L1459.8 1917.4" stroke-width="1.9" />
<rect x="1451.3" y="1902.5" width="10.6" height="9.4" fill="#fff" stroke="#000" stroke-width="1.8" />
<path d="M1451.3 1907.5L1461.9 1907.5" stroke-width="1.9" />
<polygon points="1456.6,1900.9 1459.3,1895.9 1453.8,1895.9" fill="#1b8b7b" stroke="none" stroke-width="1" />
<polygon points="1456.6,1920.3 1459.3,1915.3 1453.8,1915.3" fill="#1b8b7b" stroke="none" stroke-width="1" />
<polygon points="1457,1910.3 1459.8,1905.3 1454.3,1905.3" fill="#1b8b7b" stroke="none" stroke-width="1" />
<polygon points="1455,1914.8 1457.8,1909.8 1452.3,1909.8" fill="#1b8b7b" stroke="none" stroke-width="1" />
<polygon points="1458.2,1905.4 1460.9,1900.4 1455.4,1900.4" fill="#1b8b7b" stroke="none" stroke-width="1" />
<path d="M1474.1 1863.8L1474.1 1867.7M1474.1 1878.7L1474.1 1881.5M1470.9 1863.8L1477.3 1863.8M1470.9 1881.5L1477.3 1881.5" stroke-width="1.9" />
<rect x="1468.8" y="1867.7" width="10.6" height="11" fill="#fff" stroke="#000" stroke-width="1.8" />
<path d="M1468.8 1873.2L1479.4 1873.2" stroke-width="1.9" />
<polygon points="1474.1,1861 1476.8,1866 1471.3,1866" fill="#a6433f" stroke="none" stroke-width="1" />
<polygon points="1474.1,1878.6 1476.8,1883.6 1471.3,1883.6" fill="#a6433f" stroke="none" stroke-width="1" />
<polygon points="1474.4,1870.4 1477.1,1875.4 1471.6,1875.4" fill="#a6433f" stroke="none" stroke-width="1" />
<polygon points="1472.5,1875.9 1475.3,1880.9 1469.8,1880.9" fill="#a6433f" stroke="none" stroke-width="1" />
<polygon points="1475.7,1864.8 1478.4,1869.8 1472.9,1869.8" fill="#a6433f" stroke="none" stroke-width="1" />
<path d="M1531.3 1967.1L1531.3 1976.1" stroke-width="1.9" />
<text x="1531.3" y="1996.5" font-size="17" text-anchor="middle" font-weight="bold" font-style="italic" >Acadl</text>
<path d="M1504.8 1904.7L1504.8 1909.1M1504.8 1915.7L1504.8 1918.5M1501.6 1904.7L1508 1904.7M1501.6 1918.5L1508 1918.5" stroke-width="1.9" />
<rect x="1499.5" y="1909.1" width="10.6" height="6.6" fill="#fff" stroke="#000" stroke-width="1.8" />
<path d="M1499.5 1911.9L1510.1 1911.9" stroke-width="1.9" />
<circle cx="1504.8" cy="1904.7" r="2.5" fill="#2f6a95" stroke="none" stroke-width="1" />
<circle cx="1504.8" cy="1918.5" r="2.5" fill="#2f6a95" stroke="none" stroke-width="1" />
<circle cx="1507.2" cy="1911.9" r="2.5" fill="#2f6a95" stroke="none" stroke-width="1" />
<circle cx="1503.2" cy="1915.7" r="2.5" fill="#2f6a95" stroke="none" stroke-width="1" />
<circle cx="1506.4" cy="1909.1" r="2.5" fill="#2f6a95" stroke="none" stroke-width="1" />
<path d="M1522.3 1902.5L1522.3 1903.6M1522.3 1922.9L1522.3 1927.3M1519.1 1902.5L1525.5 1902.5M1519.1 1927.3L1525.5 1927.3" stroke-width="1.9" />
<rect x="1517" y="1903.6" width="10.6" height="19.3" fill="#fff" stroke="#000" stroke-width="1.8" />
<path d="M1517 1920.2L1527.6 1920.2" stroke-width="1.9" />
<rect x="1519.8" y="1900" width="5" height="5" fill="#a9c0d5" stroke="none" stroke-width="1" />
<rect x="1519.8" y="1924.8" width="5" height="5" fill="#a9c0d5" stroke="none" stroke-width="1" />
<rect x="1521.6" y="1917.7" width="5" height="5" fill="#a9c0d5" stroke="none" stroke-width="1" />
<rect x="1518.2" y="1920.4" width="5" height="5" fill="#a9c0d5" stroke="none" stroke-width="1" />
<rect x="1521.4" y="1901.1" width="5" height="5" fill="#a9c0d5" stroke="none" stroke-width="1" />
<path d="M1540.3 1889.8L1540.3 1890.9M1540.3 1899.7L1540.3 1904.7M1537.1 1889.8L1543.5 1889.8M1537.1 1904.7L1543.5 1904.7" stroke-width="1.9" />
<rect x="1535" y="1890.9" width="10.6" height="8.8" fill="#fff" stroke="#000" stroke-width="1.8" />
<path d="M1535 1895.3L1545.6 1895.3" stroke-width="1.9" />
<polygon points="1540.3,1892.7 1543,1887.7 1537.5,1887.7" fill="#1b8b7b" stroke="none" stroke-width="1" />
<polygon points="1540.3,1907.6 1543,1902.6 1537.5,1902.6" fill="#1b8b7b" stroke="none" stroke-width="1" />
<polygon points="1539.5,1898.2 1542.3,1893.2 1536.8,1893.2" fill="#1b8b7b" stroke="none" stroke-width="1" />
<polygon points="1538.7,1902.6 1541.5,1897.6 1536,1897.6" fill="#1b8b7b" stroke="none" stroke-width="1" />
<polygon points="1541.9,1893.8 1544.6,1888.8 1539.1,1888.8" fill="#1b8b7b" stroke="none" stroke-width="1" />
<path d="M1557.8 1838.4L1557.8 1848.4M1557.8 1876L1557.8 1881.5M1554.6 1838.4L1561 1838.4M1554.6 1881.5L1561 1881.5" stroke-width="1.9" />
<rect x="1552.5" y="1848.4" width="10.6" height="27.6" fill="#fff" stroke="#000" stroke-width="1.8" />
<path d="M1552.5 1872.1L1563.1 1872.1" stroke-width="1.9" />
<polygon points="1557.8,1835.6 1560.5,1840.6 1555,1840.6" fill="#a6433f" stroke="none" stroke-width="1" />
<polygon points="1557.8,1878.6 1560.5,1883.6 1555,1883.6" fill="#a6433f" stroke="none" stroke-width="1" />
<polygon points="1556.2,1869.2 1559,1874.2 1553.5,1874.2" fill="#a6433f" stroke="none" stroke-width="1" />
<polygon points="1556.2,1873.1 1559,1878.1 1553.5,1878.1" fill="#a6433f" stroke="none" stroke-width="1" />
<polygon points="1559.4,1845.5 1562.1,1850.5 1556.6,1850.5" fill="#a6433f" stroke="none" stroke-width="1" />
<text x="866" y="1857" font-size="17.5" text-anchor="middle" font-weight="bold" transform="rotate(-90 866 1857)" >Relative expression</text>
<path d="M933.7 1797.6L980.3 1797.6" stroke-width="1.9" />
<text x="957.5" y="1773.7" font-size="10.5" text-anchor="middle" font-weight="bold" font-style="italic" >P =</text>
<text x="957.5" y="1786.2" font-size="10.5" text-anchor="middle" font-weight="bold" font-style="italic" >0.033</text>
<path d="M950.6 1834.6L978.7 1834.6" stroke-width="1.9" />
<text x="965.4" y="1809.7" font-size="10.5" text-anchor="middle" font-weight="bold" font-style="italic" >P =</text>
<text x="965.4" y="1822.2" font-size="10.5" text-anchor="middle" font-weight="bold" font-style="italic" >0.003</text>
<path d="M1016.8 1781.1L1063.5 1781.1" stroke-width="1.9" />
<text x="1040.7" y="1757.3" font-size="10.5" text-anchor="middle" font-weight="bold" font-style="italic" >P =</text>
<text x="1040.7" y="1769.8" font-size="10.5" text-anchor="middle" font-weight="bold" font-style="italic" >0.007</text>
<path d="M1037 1895.6L1059.7 1895.6" stroke-width="1.9" />
<text x="1049.2" y="1871.7" font-size="10.5" text-anchor="middle" font-weight="bold" font-style="italic" >P &lt;</text>
<text x="1049.2" y="1884.2" font-size="10.5" text-anchor="middle" font-weight="bold" font-style="italic" >0.0001</text>
<path d="M1102.1 1835.7L1145.6 1835.7" stroke-width="1.9" />
<text x="1123.3" y="1811.9" font-size="10.5" text-anchor="middle" font-weight="bold" font-style="italic" >P =</text>
<text x="1123.3" y="1824.4" font-size="10.5" text-anchor="middle" font-weight="bold" font-style="italic" >0.001</text>
<path d="M1119.1 1880.7L1145.6 1880.7" stroke-width="1.9" />
<text x="1132.3" y="1856.9" font-size="10.5" text-anchor="middle" font-weight="bold" font-style="italic" >P =</text>
<text x="1132.3" y="1869.4" font-size="10.5" text-anchor="middle" font-weight="bold" font-style="italic" >0.002</text>
<path d="M1203.9 1864.8L1223.5 1864.8" stroke-width="1.9" />
<text x="1213.4" y="1841" font-size="10.5" text-anchor="middle" font-weight="bold" font-style="italic" >P =</text>
<text x="1213.4" y="1853.5" font-size="10.5" text-anchor="middle" font-weight="bold" font-style="italic" >0.005</text>
<path d="M1267.4 1856.4L1308.8 1856.4" stroke-width="1.9" />
<text x="1288.6" y="1832" font-size="10.5" text-anchor="middle" font-weight="bold" font-style="italic" >P =</text>
<text x="1288.6" y="1844.5" font-size="10.5" text-anchor="middle" font-weight="bold" font-style="italic" >0.006</text>
<path d="M1286 1903L1308.8 1903" stroke-width="1.9" />
<text x="1299.2" y="1879.1" font-size="10.5" text-anchor="middle" font-weight="bold" font-style="italic" >P &lt;</text>
<text x="1299.2" y="1891.6" font-size="10.5" text-anchor="middle" font-weight="bold" font-style="italic" >0.0001</text>
<path d="M1346.9 1835.7L1393.5 1835.7" stroke-width="1.9" />
<text x="1370.8" y="1811.9" font-size="10.5" text-anchor="middle" font-weight="bold" font-style="italic" >P =</text>
<text x="1370.8" y="1824.4" font-size="10.5" text-anchor="middle" font-weight="bold" font-style="italic" >0.008</text>
<path d="M1370.8 1880.7L1393.5 1880.7" stroke-width="1.9" />
<text x="1382.9" y="1856.9" font-size="10.5" text-anchor="middle" font-weight="bold" font-style="italic" >P =</text>
<text x="1382.9" y="1869.4" font-size="10.5" text-anchor="middle" font-weight="bold" font-style="italic" >0.008</text>
<path d="M1432.7 1817.2L1475.1 1817.2" stroke-width="1.9" />
<text x="1453.9" y="1792.3" font-size="10.5" text-anchor="middle" font-weight="bold" font-style="italic" >P &lt;</text>
<text x="1453.9" y="1804.8" font-size="10.5" text-anchor="middle" font-weight="bold" font-style="italic" >0.0001</text>
<path d="M1451.3 1857.4L1475.1 1857.4" stroke-width="1.9" />
<text x="1463.5" y="1833.1" font-size="10.5" text-anchor="middle" font-weight="bold" font-style="italic" >P &lt;</text>
<text x="1463.5" y="1845.6" font-size="10.5" text-anchor="middle" font-weight="bold" font-style="italic" >0.0001</text>
<path d="M1519.1 1781.1L1557.8 1781.1" stroke-width="1.9" />
<text x="1538.7" y="1756.8" font-size="10.5" text-anchor="middle" font-weight="bold" font-style="italic" >P =</text>
<text x="1538.7" y="1769.3" font-size="10.5" text-anchor="middle" font-weight="bold" font-style="italic" >0.005</text>
<path d="M1535 1826.7L1556.2 1826.7" stroke-width="1.9" />
<text x="1547.2" y="1802.9" font-size="10.5" text-anchor="middle" font-weight="bold" font-style="italic" >P =</text>
<text x="1547.2" y="1815.4" font-size="10.5" text-anchor="middle" font-weight="bold" font-style="italic" >0.008</text>
<rect x="919.3" y="1710.1" width="22.9" height="9.4" fill="#fff" stroke="#000" stroke-width="1.9" />
<text x="956.4" y="1720.5" font-size="17.9" font-weight="bold" fill="#2f6a95" ><tspan font-style="italic">P. vulgatus</tspan></text>
<rect x="1063.5" y="1710.1" width="22.9" height="9.4" fill="#fff" stroke="#000" stroke-width="1.9" />
<text x="1099.5" y="1720.5" font-size="17.9" font-weight="bold" fill="#a9c0d5" ><tspan font-style="italic">P. vulgatus</tspan>+MET</text>
<rect x="1256.8" y="1710.1" width="22.9" height="9.4" fill="#fff" stroke="#000" stroke-width="1.9" />
<text x="1292.9" y="1720.5" font-size="17.9" font-weight="bold" fill="#1b8b7b" >HK-<tspan font-style="italic">P. vulgatus</tspan></text>
<rect x="1430.6" y="1710.1" width="22.9" height="9.4" fill="#fff" stroke="#000" stroke-width="1.9" />
<text x="1467.2" y="1720.5" font-size="17.9" font-weight="bold" fill="#a6433f" >HK-<tspan font-style="italic">P. vulgatus</tspan>+MET</text>
</svg>
</body></html>
